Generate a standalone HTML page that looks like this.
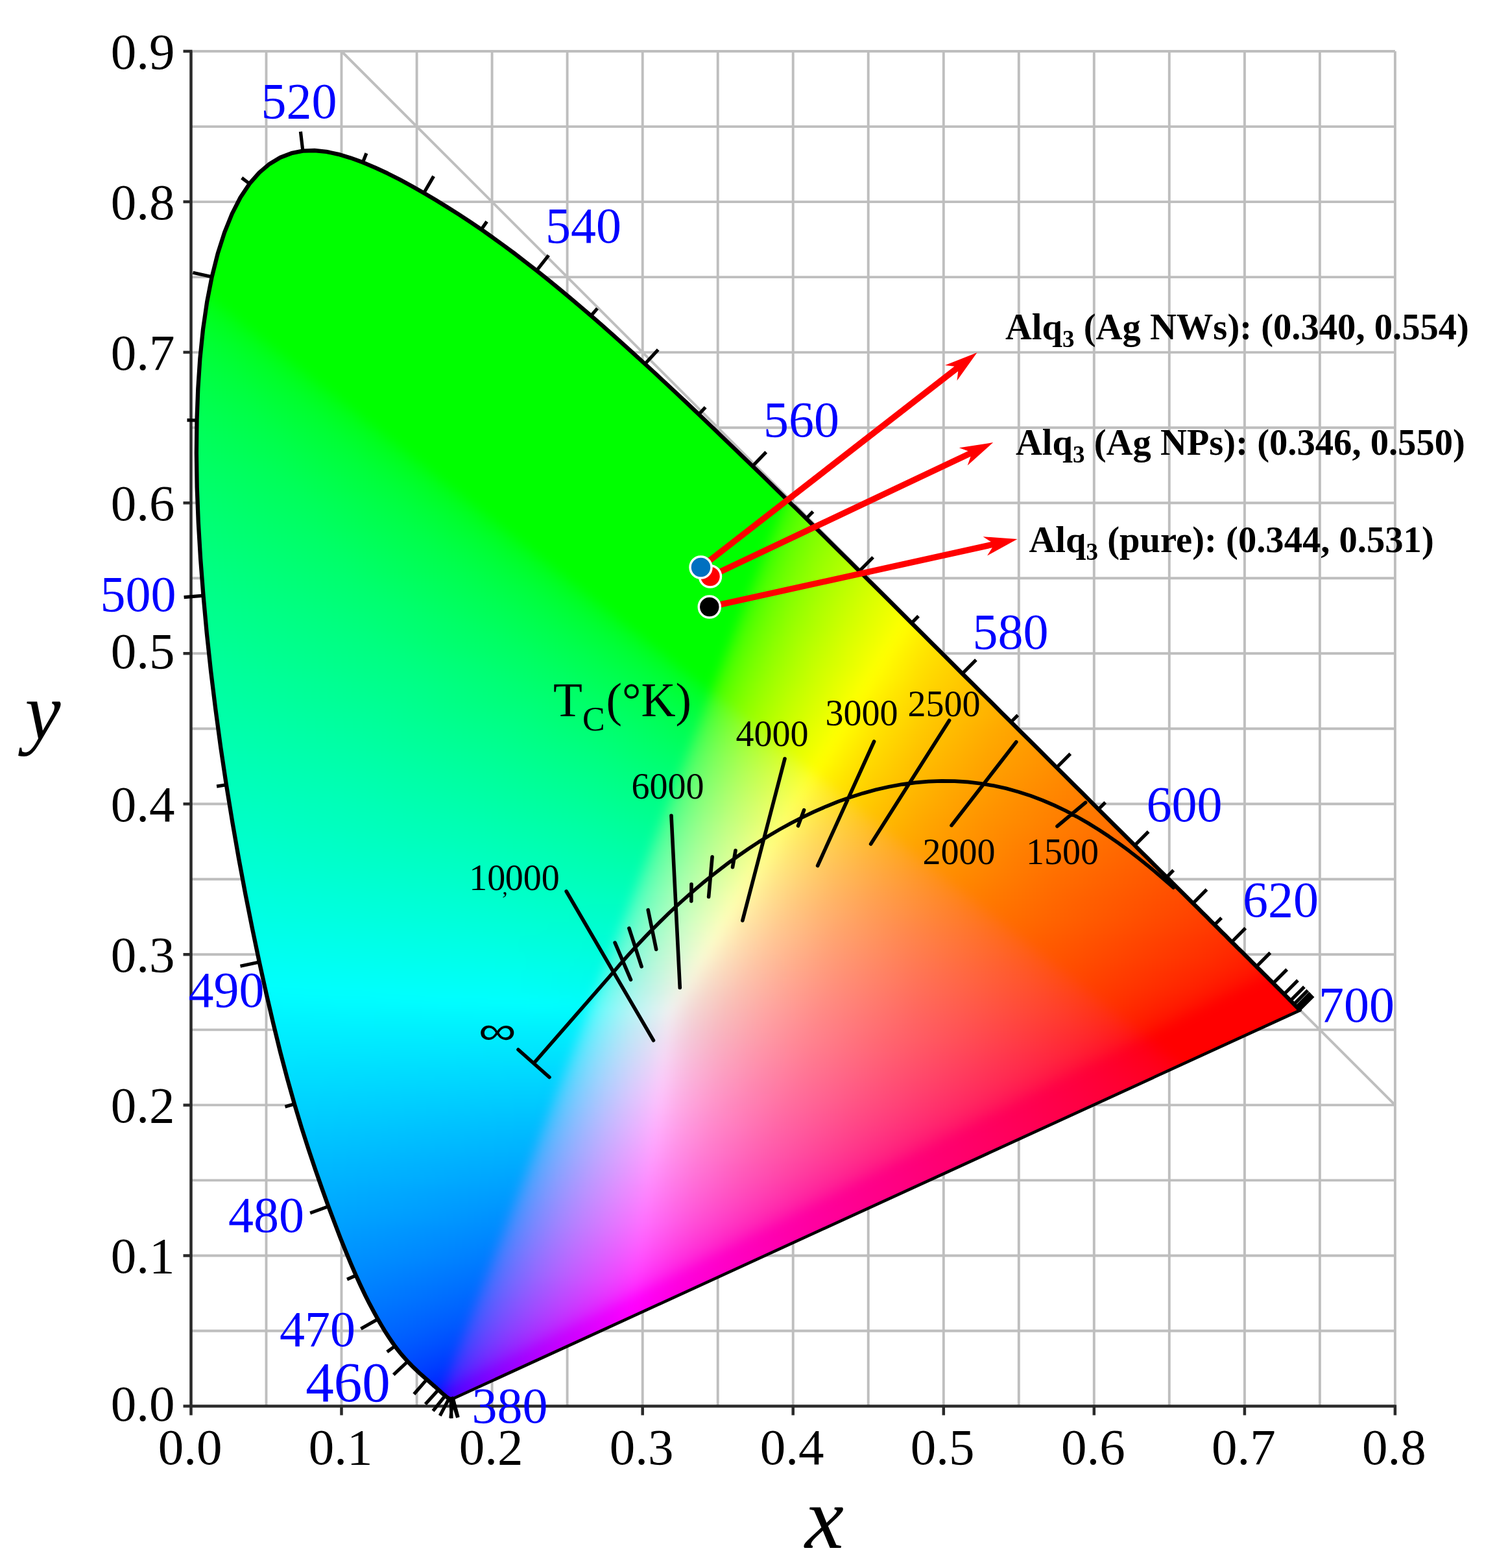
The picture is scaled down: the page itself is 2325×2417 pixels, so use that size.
<!DOCTYPE html><html><head><meta charset="utf-8">
<style>html,body{margin:0;padding:0;background:#fff}svg{display:block}text{font-family:"Liberation Serif",serif}</style></head><body>
<svg width="2325" height="2417" viewBox="0 0 2325 2417">
<defs><clipPath id="lc"><path d="M698.5 2156.0 L698.5 2156.0 L698.4 2156.0 L698.4 2155.9 L698.4 2155.9 L698.3 2155.9 L698.2 2156.0 L698.1 2156.0 L698.0 2156.1 L697.9 2156.1 L697.8 2156.1 L697.7 2156.1 L697.6 2156.0 L697.5 2156.0 L697.4 2156.0 L697.2 2156.1 L697.1 2156.1 L697.0 2156.2 L696.9 2156.3 L696.8 2156.3 L696.7 2156.4 L696.6 2156.4 L696.5 2156.4 L696.4 2156.4 L696.2 2156.4 L696.0 2156.4 L695.8 2156.4 L695.6 2156.4 L695.4 2156.4 L695.2 2156.4 L695.0 2156.4 L694.8 2156.4 L694.5 2156.4 L694.3 2156.4 L694.1 2156.3 L693.8 2156.3 L693.6 2156.2 L693.3 2156.2 L693.0 2156.0 L692.7 2155.9 L692.3 2155.7 L691.8 2155.4 L691.3 2155.1 L690.8 2154.8 L690.2 2154.5 L689.7 2154.1 L689.1 2153.6 L688.5 2153.2 L687.8 2152.7 L687.1 2152.1 L686.4 2151.5 L685.6 2150.8 L684.7 2150.1 L683.8 2149.4 L682.8 2148.5 L681.8 2147.6 L680.7 2146.7 L679.6 2145.7 L678.5 2144.6 L677.3 2143.5 L676.0 2142.3 L674.7 2141.1 L673.2 2139.8 L671.7 2138.4 L670.1 2137.0 L668.3 2135.5 L666.5 2133.9 L664.5 2132.2 L662.5 2130.3 L660.3 2128.4 L658.0 2126.4 L655.6 2124.3 L653.1 2122.1 L650.5 2119.8 L647.7 2117.4 L644.9 2114.7 L641.9 2111.9 L638.7 2108.9 L635.4 2105.7 L632.1 2102.3 L628.6 2098.6 L625.0 2094.7 L621.2 2090.4 L617.3 2085.8 L613.3 2080.7 L608.9 2075.0 L604.3 2068.4 L599.3 2061.0 L594.0 2052.8 L588.4 2043.5 L582.5 2033.4 L576.4 2022.3 L569.9 2010.1 L563.2 1996.8 L556.2 1982.1 L548.8 1966.0 L541.1 1948.2 L533.0 1928.8 L524.5 1907.6 L515.7 1884.5 L506.3 1859.6 L496.6 1832.6 L486.4 1803.5 L475.8 1772.0 L464.9 1738.1 L453.9 1701.7 L443.0 1662.9 L432.1 1621.6 L421.4 1577.9 L410.6 1531.7 L399.8 1483.0 L389.1 1431.9 L378.5 1378.8 L368.2 1323.8 L358.3 1267.3 L348.9 1209.8 L340.2 1151.7 L332.3 1093.2 L325.1 1034.6 L318.8 976.1 L313.5 918.1 L309.1 860.9 L305.8 805.1 L303.7 751.0 L302.9 698.6 L303.5 648.0 L305.3 599.1 L308.4 552.2 L313.0 507.6 L319.1 465.6 L326.7 426.7 L335.7 390.9 L346.1 358.4 L357.8 329.4 L370.7 304.3 L384.7 283.2 L399.7 266.1 L415.6 252.7 L432.2 242.8 L449.3 236.2 L466.9 232.7 L484.9 232.0 L503.2 233.9 L521.8 237.8 L540.5 243.4 L559.4 250.3 L578.4 258.3 L597.4 267.2 L616.4 276.8 L635.1 287.0 L653.5 297.5 L671.7 308.2 L689.5 319.2 L707.2 330.4 L724.7 341.9 L742.1 353.7 L759.3 365.9 L776.4 378.3 L793.5 390.9 L810.4 403.9 L827.3 417.1 L844.2 430.5 L861.0 444.3 L877.8 458.2 L894.5 472.4 L911.2 486.7 L927.9 501.2 L944.5 515.9 L961.2 530.8 L977.8 545.8 L994.4 561.0 L1011.0 576.3 L1027.6 591.7 L1044.2 607.3 L1060.8 622.9 L1077.4 638.6 L1093.9 654.5 L1110.5 670.4 L1127.1 686.4 L1143.7 702.4 L1160.3 718.5 L1176.9 734.6 L1193.4 750.7 L1210.0 766.9 L1226.5 783.1 L1243.0 799.3 L1259.4 815.5 L1275.9 831.7 L1292.3 848.0 L1308.6 864.1 L1324.9 880.3 L1341.2 896.4 L1357.4 912.5 L1373.5 928.5 L1389.5 944.5 L1405.5 960.4 L1421.4 976.2 L1437.1 991.9 L1452.8 1007.5 L1468.3 1023.0 L1483.7 1038.4 L1499.0 1053.6 L1514.2 1068.7 L1529.2 1083.6 L1544.0 1098.4 L1558.7 1113.0 L1573.2 1127.4 L1587.5 1141.6 L1601.6 1155.6 L1615.5 1169.4 L1629.1 1183.1 L1642.6 1196.5 L1655.8 1209.7 L1668.8 1222.6 L1681.4 1235.2 L1693.6 1247.4 L1705.4 1259.2 L1716.9 1270.7 L1728.1 1281.8 L1738.9 1292.6 L1749.5 1303.1 L1759.9 1313.5 L1770.1 1323.6 L1780.0 1333.4 L1789.5 1343.0 L1798.7 1352.1 L1807.5 1360.8 L1816.0 1369.2 L1824.1 1377.2 L1831.9 1385.0 L1839.4 1392.4 L1846.6 1399.6 L1853.5 1406.5 L1860.2 1413.1 L1866.5 1419.5 L1872.6 1425.5 L1878.4 1431.3 L1884.0 1436.9 L1889.3 1442.1 L1894.3 1447.2 L1899.1 1452.0 L1903.7 1456.6 L1908.1 1461.0 L1912.4 1465.1 L1916.4 1469.1 L1920.3 1473.0 L1923.9 1476.6 L1927.5 1480.1 L1930.8 1483.5 L1934.1 1486.7 L1937.2 1489.9 L1940.3 1492.9 L1943.2 1495.8 L1946.1 1498.7 L1948.8 1501.4 L1951.4 1504.0 L1953.9 1506.5 L1956.3 1508.9 L1958.7 1511.2 L1960.9 1513.5 L1963.0 1515.6 L1965.1 1517.7 L1967.1 1519.7 L1969.1 1521.7 L1970.9 1523.5 L1972.6 1525.2 L1974.3 1526.8 L1975.8 1528.4 L1977.2 1529.8 L1978.5 1531.1 L1979.8 1532.4 L1981.1 1533.7 L1982.2 1534.9 L1983.4 1536.0 L1984.4 1537.1 L1985.5 1538.1 L1986.4 1539.1 L1987.3 1540.0 L1988.2 1540.9 L1989.0 1541.7 L1989.7 1542.4 L1990.4 1543.1 L1991.0 1543.8 L1991.6 1544.3 L1992.1 1544.9 L1992.7 1545.4 L1993.2 1545.9 L1993.7 1546.4 L1994.2 1546.9 L1994.6 1547.4 L1995.1 1547.9 L1995.5 1548.3 L1995.9 1548.8 L1996.3 1549.2 L1996.7 1549.6 L1997.1 1550.0 L1997.5 1550.4 L1997.9 1550.8 L1998.3 1551.2 L1998.7 1551.6 L1999.1 1552.0 L1999.4 1552.3 L1999.8 1552.7 L2000.2 1553.1 L2000.5 1553.5 L2000.9 1553.8 L2001.1 1554.1 L2001.4 1554.4 L2001.6 1554.6 L2001.8 1554.8 L2002.0 1555.0 L2002.2 1555.2 L2002.3 1555.4 L2002.5 1555.5 L2002.6 1555.7 L2002.8 1555.8 L2002.9 1556.0 L2003.1 1556.1 L2003.2 1556.3 L2003.3 1556.4 L2003.3 1556.4Z"/></clipPath>
<filter id="bl" filterUnits="userSpaceOnUse" x="200" y="150" width="1900" height="2100" color-interpolation-filters="sRGB"><feGaussianBlur stdDeviation="8"/></filter>
<linearGradient id="g0" gradientUnits="userSpaceOnUse" x1="433" x2="533"><stop offset="0" stop-color="#0f0"/><stop offset="1" stop-color="#0f0"/></linearGradient>
<linearGradient id="g1" gradientUnits="userSpaceOnUse" x1="417" x2="555"><stop offset="0" stop-color="#0f0"/><stop offset="1" stop-color="#0f0"/></linearGradient>
<linearGradient id="g2" gradientUnits="userSpaceOnUse" x1="407" x2="571"><stop offset="0" stop-color="#0f0"/><stop offset="1" stop-color="#0f0"/></linearGradient>
<linearGradient id="g3" gradientUnits="userSpaceOnUse" x1="398" x2="586"><stop offset="0" stop-color="#0f0"/><stop offset="1" stop-color="#0f0"/></linearGradient>
<linearGradient id="g4" gradientUnits="userSpaceOnUse" x1="391" x2="599"><stop offset="0" stop-color="#0f0"/><stop offset="1" stop-color="#0f0"/></linearGradient>
<linearGradient id="g5" gradientUnits="userSpaceOnUse" x1="384" x2="612"><stop offset="0" stop-color="#0f0"/><stop offset="1" stop-color="#0f0"/></linearGradient>
<linearGradient id="g6" gradientUnits="userSpaceOnUse" x1="379" x2="623"><stop offset="0" stop-color="#0f0"/><stop offset="1" stop-color="#0f0"/></linearGradient>
<linearGradient id="g7" gradientUnits="userSpaceOnUse" x1="374" x2="636"><stop offset="0" stop-color="#0f0"/><stop offset="1" stop-color="#0f0"/></linearGradient>
<linearGradient id="g8" gradientUnits="userSpaceOnUse" x1="369" x2="647"><stop offset="0" stop-color="#0f0"/><stop offset="1" stop-color="#0f0"/></linearGradient>
<linearGradient id="g9" gradientUnits="userSpaceOnUse" x1="365" x2="657"><stop offset="0" stop-color="#0f0"/><stop offset="1" stop-color="#0f0"/></linearGradient>
<linearGradient id="g10" gradientUnits="userSpaceOnUse" x1="361" x2="667"><stop offset="0" stop-color="#0f0"/><stop offset="1" stop-color="#0f0"/></linearGradient>
<linearGradient id="g11" gradientUnits="userSpaceOnUse" x1="357" x2="677"><stop offset="0" stop-color="#0f0"/><stop offset="1" stop-color="#0f0"/></linearGradient>
<linearGradient id="g12" gradientUnits="userSpaceOnUse" x1="354" x2="688"><stop offset="0" stop-color="#0f0"/><stop offset="1" stop-color="#0f0"/></linearGradient>
<linearGradient id="g13" gradientUnits="userSpaceOnUse" x1="351" x2="697"><stop offset="0" stop-color="#0f0"/><stop offset="1" stop-color="#0f0"/></linearGradient>
<linearGradient id="g14" gradientUnits="userSpaceOnUse" x1="348" x2="708"><stop offset="0" stop-color="#0f0"/><stop offset="1" stop-color="#0f0"/></linearGradient>
<linearGradient id="g15" gradientUnits="userSpaceOnUse" x1="345" x2="717"><stop offset="0" stop-color="#0f0"/><stop offset="1" stop-color="#0f0"/></linearGradient>
<linearGradient id="g16" gradientUnits="userSpaceOnUse" x1="342" x2="726"><stop offset="0" stop-color="#0f0"/><stop offset="1" stop-color="#0f0"/></linearGradient>
<linearGradient id="g17" gradientUnits="userSpaceOnUse" x1="339" x2="735"><stop offset="0" stop-color="#0f0"/><stop offset="1" stop-color="#0f0"/></linearGradient>
<linearGradient id="g18" gradientUnits="userSpaceOnUse" x1="337" x2="745"><stop offset="0" stop-color="#0f0"/><stop offset="1" stop-color="#0f0"/></linearGradient>
<linearGradient id="g19" gradientUnits="userSpaceOnUse" x1="335" x2="753"><stop offset="0" stop-color="#0f0"/><stop offset="1" stop-color="#0f0"/></linearGradient>
<linearGradient id="g20" gradientUnits="userSpaceOnUse" x1="332" x2="762"><stop offset="0" stop-color="#0f0"/><stop offset="1" stop-color="#0f0"/></linearGradient>
<linearGradient id="g21" gradientUnits="userSpaceOnUse" x1="330" x2="770"><stop offset="0" stop-color="#0f0"/><stop offset="1" stop-color="#0f0"/></linearGradient>
<linearGradient id="g22" gradientUnits="userSpaceOnUse" x1="328" x2="778"><stop offset="0" stop-color="#0f0"/><stop offset="1" stop-color="#0f0"/></linearGradient>
<linearGradient id="g23" gradientUnits="userSpaceOnUse" x1="326" x2="786"><stop offset="0" stop-color="#0f0"/><stop offset="1" stop-color="#0f0"/></linearGradient>
<linearGradient id="g24" gradientUnits="userSpaceOnUse" x1="324" x2="796"><stop offset="0" stop-color="#0f0"/><stop offset="1" stop-color="#0f0"/></linearGradient>
<linearGradient id="g25" gradientUnits="userSpaceOnUse" x1="322" x2="804"><stop offset="0" stop-color="#0f0"/><stop offset="1" stop-color="#0f0"/></linearGradient>
<linearGradient id="g26" gradientUnits="userSpaceOnUse" x1="321" x2="811"><stop offset="0" stop-color="#0f0"/><stop offset="1" stop-color="#0f0"/></linearGradient>
<linearGradient id="g27" gradientUnits="userSpaceOnUse" x1="319" x2="819"><stop offset="0" stop-color="#0f0"/><stop offset="1" stop-color="#0f0"/></linearGradient>
<linearGradient id="g28" gradientUnits="userSpaceOnUse" x1="318" x2="826"><stop offset="0" stop-color="#0f0"/><stop offset="1" stop-color="#0f0"/></linearGradient>
<linearGradient id="g29" gradientUnits="userSpaceOnUse" x1="316" x2="834"><stop offset="0" stop-color="#0f0"/><stop offset="1" stop-color="#0f0"/></linearGradient>
<linearGradient id="g30" gradientUnits="userSpaceOnUse" x1="315" x2="843"><stop offset="0" stop-color="#0f0"/><stop offset="1" stop-color="#0f0"/></linearGradient>
<linearGradient id="g31" gradientUnits="userSpaceOnUse" x1="313" x2="849"><stop offset="0" stop-color="#0f0"/><stop offset="1" stop-color="#0f0"/></linearGradient>
<linearGradient id="g32" gradientUnits="userSpaceOnUse" x1="312" x2="858"><stop offset="0" stop-color="#0f0"/><stop offset="1" stop-color="#0f0"/></linearGradient>
<linearGradient id="g33" gradientUnits="userSpaceOnUse" x1="311" x2="865"><stop offset="0" stop-color="#0f0"/><stop offset="1" stop-color="#0f0"/></linearGradient>
<linearGradient id="g34" gradientUnits="userSpaceOnUse" x1="309" x2="873"><stop offset="0" stop-color="#0f0"/><stop offset="1" stop-color="#0f0"/></linearGradient>
<linearGradient id="g35" gradientUnits="userSpaceOnUse" x1="308" x2="880"><stop offset="0" stop-color="#0f0"/><stop offset="1" stop-color="#0f0"/></linearGradient>
<linearGradient id="g36" gradientUnits="userSpaceOnUse" x1="307" x2="887"><stop offset="0" stop-color="#0f0"/><stop offset="1" stop-color="#0f0"/></linearGradient>
<linearGradient id="g37" gradientUnits="userSpaceOnUse" x1="306" x2="894"><stop offset="0" stop-color="#00ff06"/><stop offset=".0102" stop-color="#0f0"/><stop offset="1" stop-color="#0f0"/></linearGradient>
<linearGradient id="g38" gradientUnits="userSpaceOnUse" x1="305" x2="901"><stop offset="0" stop-color="#00ff0f"/><stop offset=".0268" stop-color="#0f0"/><stop offset="1" stop-color="#0f0"/></linearGradient>
<linearGradient id="g39" gradientUnits="userSpaceOnUse" x1="304" x2="908"><stop offset="0" stop-color="#00ff15"/><stop offset=".0397" stop-color="#0f0"/><stop offset="1" stop-color="#0f0"/></linearGradient>
<linearGradient id="g40" gradientUnits="userSpaceOnUse" x1="303" x2="915"><stop offset="0" stop-color="#00ff1a"/><stop offset=".0261" stop-color="#00ff10"/><stop offset=".0523" stop-color="#0f0"/><stop offset="1" stop-color="#0f0"/></linearGradient>
<linearGradient id="g41" gradientUnits="userSpaceOnUse" x1="302" x2="922"><stop offset="0" stop-color="#00ff1e"/><stop offset=".0355" stop-color="#00ff12"/><stop offset=".0677" stop-color="#0f0"/><stop offset="1" stop-color="#0f0"/></linearGradient>
<linearGradient id="g42" gradientUnits="userSpaceOnUse" x1="301" x2="929"><stop offset="0" stop-color="#0f2"/><stop offset=".0446" stop-color="#00ff14"/><stop offset=".0796" stop-color="#0f0"/><stop offset="1" stop-color="#0f0"/></linearGradient>
<linearGradient id="g43" gradientUnits="userSpaceOnUse" x1="300" x2="936"><stop offset="0" stop-color="#00ff25"/><stop offset=".0503" stop-color="#00ff17"/><stop offset=".0723" stop-color="#00ff0d"/><stop offset=".0912" stop-color="#0f0"/><stop offset="1" stop-color="#0f0"/></linearGradient>
<linearGradient id="g44" gradientUnits="userSpaceOnUse" x1="299" x2="943"><stop offset="0" stop-color="#00ff28"/><stop offset=".0683" stop-color="#00ff15"/><stop offset=".1056" stop-color="#0f0"/><stop offset="1" stop-color="#0f0"/></linearGradient>
<linearGradient id="g45" gradientUnits="userSpaceOnUse" x1="299" x2="949"><stop offset="0" stop-color="#00ff2b"/><stop offset=".0769" stop-color="#00ff16"/><stop offset=".0923" stop-color="#00ff0f"/><stop offset=".1138" stop-color="#0f0"/><stop offset="1" stop-color="#0f0"/></linearGradient>
<linearGradient id="g46" gradientUnits="userSpaceOnUse" x1="298" x2="956"><stop offset="0" stop-color="#00ff2d"/><stop offset=".079" stop-color="#00ff1a"/><stop offset=".1003" stop-color="#0f1"/><stop offset=".1277" stop-color="#0f0"/><stop offset="1" stop-color="#0f0"/></linearGradient>
<linearGradient id="g47" gradientUnits="userSpaceOnUse" x1="297" x2="963"><stop offset="0" stop-color="#00ff30"/><stop offset=".0541" stop-color="#00ff25"/><stop offset=".0991" stop-color="#00ff17"/><stop offset=".1381" stop-color="#0f0"/><stop offset="1" stop-color="#0f0"/></linearGradient>
<linearGradient id="g48" gradientUnits="userSpaceOnUse" x1="297" x2="969"><stop offset="0" stop-color="#00ff32"/><stop offset=".0833" stop-color="#00ff20"/><stop offset=".119" stop-color="#00ff13"/><stop offset=".1488" stop-color="#0f0"/><stop offset="1" stop-color="#0f0"/></linearGradient>
<linearGradient id="g49" gradientUnits="userSpaceOnUse" x1="296" x2="976"><stop offset="0" stop-color="#00ff35"/><stop offset=".0882" stop-color="#0f2"/><stop offset=".1324" stop-color="#00ff12"/><stop offset=".1588" stop-color="#0f0"/><stop offset="1" stop-color="#0f0"/></linearGradient>
<linearGradient id="g50" gradientUnits="userSpaceOnUse" x1="296" x2="984"><stop offset="0" stop-color="#00ff37"/><stop offset=".0988" stop-color="#0f2"/><stop offset=".1337" stop-color="#00ff16"/><stop offset=".1686" stop-color="#0f0"/><stop offset="1" stop-color="#0f0"/></linearGradient>
<linearGradient id="g51" gradientUnits="userSpaceOnUse" x1="295" x2="989"><stop offset="0" stop-color="#00ff39"/><stop offset=".0663" stop-color="#00ff2d"/><stop offset=".1239" stop-color="#00ff1e"/><stop offset=".1585" stop-color="#00ff0f"/><stop offset=".1787" stop-color="#0f0"/><stop offset="1" stop-color="#0f0"/></linearGradient>
<linearGradient id="g52" gradientUnits="userSpaceOnUse" x1="294" x2="996"><stop offset="0" stop-color="#00ff3b"/><stop offset=".0741" stop-color="#00ff2e"/><stop offset=".1225" stop-color="#0f2"/><stop offset=".1595" stop-color="#00ff14"/><stop offset=".188" stop-color="#0f0"/><stop offset="1" stop-color="#0f0"/></linearGradient>
<linearGradient id="g53" gradientUnits="userSpaceOnUse" x1="294" x2="1002"><stop offset="0" stop-color="#00ff3d"/><stop offset=".0847" stop-color="#00ff2e"/><stop offset=".1356" stop-color="#00ff21"/><stop offset=".1695" stop-color="#00ff14"/><stop offset=".1977" stop-color="#0f0"/><stop offset="1" stop-color="#0f0"/></linearGradient>
<linearGradient id="g54" gradientUnits="userSpaceOnUse" x1="293" x2="1009"><stop offset="0" stop-color="#00ff3f"/><stop offset=".0866" stop-color="#00ff30"/><stop offset=".1397" stop-color="#00ff23"/><stop offset=".1816" stop-color="#00ff13"/><stop offset=".2095" stop-color="#0f0"/><stop offset="1" stop-color="#0f0"/></linearGradient>
<linearGradient id="g55" gradientUnits="userSpaceOnUse" x1="293" x2="1015"><stop offset="0" stop-color="#00ff40"/><stop offset=".0776" stop-color="#00ff34"/><stop offset=".1496" stop-color="#00ff23"/><stop offset=".1911" stop-color="#00ff13"/><stop offset=".2161" stop-color="#0f0"/><stop offset="1" stop-color="#0f0"/></linearGradient>
<linearGradient id="g56" gradientUnits="userSpaceOnUse" x1="293" x2="1023"><stop offset="0" stop-color="#00ff42"/><stop offset=".0932" stop-color="#0f3"/><stop offset=".1589" stop-color="#00ff23"/><stop offset=".1973" stop-color="#00ff14"/><stop offset=".2247" stop-color="#0f0"/><stop offset="1" stop-color="#0f0"/></linearGradient>
<linearGradient id="g57" gradientUnits="userSpaceOnUse" x1="292" x2="1028"><stop offset="0" stop-color="#0f4"/><stop offset=".1141" stop-color="#00ff31"/><stop offset=".163" stop-color="#00ff25"/><stop offset=".2038" stop-color="#00ff16"/><stop offset=".2364" stop-color="#0f0"/><stop offset="1" stop-color="#0f0"/></linearGradient>
<linearGradient id="g58" gradientUnits="userSpaceOnUse" x1="292" x2="1036"><stop offset="0" stop-color="#00ff45"/><stop offset=".0833" stop-color="#00ff39"/><stop offset=".172" stop-color="#00ff25"/><stop offset=".2177" stop-color="#00ff13"/><stop offset=".2419" stop-color="#0f0"/><stop offset="1" stop-color="#0f0"/></linearGradient>
<linearGradient id="g59" gradientUnits="userSpaceOnUse" x1="291" x2="1041"><stop offset="0" stop-color="#00ff47"/><stop offset=".072" stop-color="#00ff3d"/><stop offset=".168" stop-color="#00ff29"/><stop offset=".224" stop-color="#00ff15"/><stop offset=".2533" stop-color="#0f0"/><stop offset="1" stop-color="#0f0"/></linearGradient>
<linearGradient id="g60" gradientUnits="userSpaceOnUse" x1="291" x2="1049"><stop offset="0" stop-color="#00ff49"/><stop offset=".0818" stop-color="#00ff3d"/><stop offset=".1768" stop-color="#00ff29"/><stop offset=".2296" stop-color="#00ff16"/><stop offset=".2586" stop-color="#0f0"/><stop offset="1" stop-color="#0f0"/></linearGradient>
<linearGradient id="g61" gradientUnits="userSpaceOnUse" x1="291" x2="1055"><stop offset="0" stop-color="#00ff4a"/><stop offset=".0864" stop-color="#00ff3e"/><stop offset=".1859" stop-color="#00ff29"/><stop offset=".2382" stop-color="#00ff16"/><stop offset=".267" stop-color="#0f0"/><stop offset="1" stop-color="#0f0"/></linearGradient>
<linearGradient id="g62" gradientUnits="userSpaceOnUse" x1="290" x2="1062"><stop offset="0" stop-color="#00ff4c"/><stop offset=".1036" stop-color="#00ff3d"/><stop offset=".1995" stop-color="#00ff28"/><stop offset=".2409" stop-color="#00ff19"/><stop offset=".2772" stop-color="#0f0"/><stop offset="1" stop-color="#0f0"/></linearGradient>
<linearGradient id="g63" gradientUnits="userSpaceOnUse" x1="290" x2="1068"><stop offset="0" stop-color="#00ff4d"/><stop offset=".108" stop-color="#00ff3e"/><stop offset=".2005" stop-color="#00ff2a"/><stop offset=".2571" stop-color="#00ff15"/><stop offset=".2828" stop-color="#0f0"/><stop offset="1" stop-color="#0f0"/></linearGradient>
<linearGradient id="g64" gradientUnits="userSpaceOnUse" x1="290" x2="1074"><stop offset="0" stop-color="#00ff4f"/><stop offset=".1122" stop-color="#00ff3f"/><stop offset=".2092" stop-color="#00ff2a"/><stop offset=".2551" stop-color="#00ff1a"/><stop offset=".273" stop-color="#00ff10"/><stop offset=".2908" stop-color="#0f0"/><stop offset="1" stop-color="#0f0"/></linearGradient>
<linearGradient id="g65" gradientUnits="userSpaceOnUse" x1="290" x2="1080"><stop offset="0" stop-color="#00ff50"/><stop offset=".1215" stop-color="#00ff3f"/><stop offset=".2177" stop-color="#00ff2a"/><stop offset=".2709" stop-color="#00ff16"/><stop offset=".2987" stop-color="#0f0"/><stop offset="1" stop-color="#0f0"/></linearGradient>
<linearGradient id="g66" gradientUnits="userSpaceOnUse" x1="290" x2="1086"><stop offset="0" stop-color="#00ff52"/><stop offset=".1256" stop-color="#00ff40"/><stop offset=".2261" stop-color="#00ff2a"/><stop offset=".2764" stop-color="#00ff17"/><stop offset=".3065" stop-color="#0f0"/><stop offset="1" stop-color="#0f0"/></linearGradient>
<linearGradient id="g67" gradientUnits="userSpaceOnUse" x1="289" x2="1093"><stop offset="0" stop-color="#00ff53"/><stop offset=".1244" stop-color="#00ff42"/><stop offset=".209" stop-color="#00ff31"/><stop offset=".2512" stop-color="#00ff25"/><stop offset=".2811" stop-color="#00ff19"/><stop offset=".296" stop-color="#00ff10"/><stop offset=".3134" stop-color="#0f0"/><stop offset="1" stop-color="#0f0"/></linearGradient>
<linearGradient id="g68" gradientUnits="userSpaceOnUse" x1="289" x2="1099"><stop offset="0" stop-color="#00ff54"/><stop offset=".1284" stop-color="#00ff43"/><stop offset=".2296" stop-color="#00ff2e"/><stop offset=".2864" stop-color="#00ff1a"/><stop offset=".2988" stop-color="#00ff13"/><stop offset=".321" stop-color="#0f0"/><stop offset="1" stop-color="#0f0"/></linearGradient>
<linearGradient id="g69" gradientUnits="userSpaceOnUse" x1="289" x2="1105"><stop offset="0" stop-color="#00ff56"/><stop offset=".1324" stop-color="#0f4"/><stop offset=".2377" stop-color="#00ff2e"/><stop offset=".2917" stop-color="#00ff1b"/><stop offset=".3064" stop-color="#00ff13"/><stop offset=".3284" stop-color="#0f0"/><stop offset="1" stop-color="#0f0"/></linearGradient>
<linearGradient id="g70" gradientUnits="userSpaceOnUse" x1="289" x2="1111"><stop offset="0" stop-color="#00ff57"/><stop offset=".1168" stop-color="#00ff48"/><stop offset=".2384" stop-color="#00ff30"/><stop offset=".2993" stop-color="#00ff1b"/><stop offset=".3163" stop-color="#0f1"/><stop offset=".3333" stop-color="#0f0"/><stop offset="1" stop-color="#0f0"/></linearGradient>
<linearGradient id="g71" gradientUnits="userSpaceOnUse" x1="289" x2="1117"><stop offset="0" stop-color="#00ff58"/><stop offset=".1329" stop-color="#00ff47"/><stop offset=".2464" stop-color="#00ff30"/><stop offset=".3043" stop-color="#00ff1c"/><stop offset=".3188" stop-color="#00ff14"/><stop offset=".3406" stop-color="#0f0"/><stop offset="1" stop-color="#0f0"/></linearGradient>
<linearGradient id="g72" gradientUnits="userSpaceOnUse" x1="289" x2="1125"><stop offset="0" stop-color="#00ff5a"/><stop offset=".1292" stop-color="#00ff49"/><stop offset=".2536" stop-color="#00ff30"/><stop offset=".3086" stop-color="#00ff1d"/><stop offset=".3278" stop-color="#00ff12"/><stop offset=".3469" stop-color="#0f0"/><stop offset="1" stop-color="#0f0"/></linearGradient>
<linearGradient id="g73" gradientUnits="userSpaceOnUse" x1="289" x2="1131"><stop offset="0" stop-color="#00ff5b"/><stop offset=".1449" stop-color="#00ff48"/><stop offset=".2542" stop-color="#00ff32"/><stop offset=".3135" stop-color="#00ff1e"/><stop offset=".3349" stop-color="#00ff12"/><stop offset=".3539" stop-color="#0f0"/><stop offset="1" stop-color="#0f0"/></linearGradient>
<linearGradient id="g74" gradientUnits="userSpaceOnUse" x1="289" x2="1137"><stop offset="0" stop-color="#00ff5c"/><stop offset=".1604" stop-color="#00ff47"/><stop offset=".2618" stop-color="#00ff32"/><stop offset=".3184" stop-color="#00ff1f"/><stop offset=".3373" stop-color="#00ff15"/><stop offset=".3608" stop-color="#0f0"/><stop offset="1" stop-color="#0f0"/></linearGradient>
<linearGradient id="g75" gradientUnits="userSpaceOnUse" x1="289" x2="1143"><stop offset="0" stop-color="#00ff5e"/><stop offset=".1452" stop-color="#00ff4b"/><stop offset=".2576" stop-color="#00ff35"/><stop offset=".3232" stop-color="#00ff20"/><stop offset=".3466" stop-color="#00ff13"/><stop offset=".3677" stop-color="#0f0"/><stop offset="1" stop-color="#0f0"/></linearGradient>
<linearGradient id="g76" gradientUnits="userSpaceOnUse" x1="288" x2="1150"><stop offset="0" stop-color="#00ff5f"/><stop offset=".1485" stop-color="#00ff4c"/><stop offset=".2622" stop-color="#00ff36"/><stop offset=".3039" stop-color="#00ff2a"/><stop offset=".3387" stop-color="#00ff1c"/><stop offset=".355" stop-color="#00ff12"/><stop offset=".3735" stop-color="#0f0"/><stop offset="1" stop-color="#0f0"/></linearGradient>
<linearGradient id="g77" gradientUnits="userSpaceOnUse" x1="288" x2="1156"><stop offset="0" stop-color="#00ff60"/><stop offset=".1452" stop-color="#00ff4e"/><stop offset=".2696" stop-color="#00ff36"/><stop offset=".3111" stop-color="#00ff2a"/><stop offset=".3433" stop-color="#00ff1d"/><stop offset=".3641" stop-color="#00ff10"/><stop offset=".3802" stop-color="#0f0"/><stop offset="1" stop-color="#0f0"/></linearGradient>
<linearGradient id="g78" gradientUnits="userSpaceOnUse" x1="288" x2="1162"><stop offset="0" stop-color="#00ff61"/><stop offset=".167" stop-color="#00ff4c"/><stop offset=".2815" stop-color="#00ff35"/><stop offset=".3501" stop-color="#00ff1d"/><stop offset=".3661" stop-color="#00ff13"/><stop offset=".3844" stop-color="#0f0"/><stop offset="1" stop-color="#0f0"/></linearGradient>
<linearGradient id="g79" gradientUnits="userSpaceOnUse" x1="288" x2="1168"><stop offset="0" stop-color="#00ff63"/><stop offset=".1636" stop-color="#00ff4e"/><stop offset=".2886" stop-color="#00ff35"/><stop offset=".3545" stop-color="#00ff1e"/><stop offset=".3727" stop-color="#00ff13"/><stop offset=".3909" stop-color="#0f0"/><stop offset="1" stop-color="#0f0"/></linearGradient>
<linearGradient id="g80" gradientUnits="userSpaceOnUse" x1="288" x2="1174"><stop offset="0" stop-color="#00ff64"/><stop offset=".1783" stop-color="#00ff4d"/><stop offset=".2844" stop-color="#00ff38"/><stop offset=".3589" stop-color="#00ff1f"/><stop offset=".3815" stop-color="#0f1"/><stop offset=".3973" stop-color="#0f0"/><stop offset="1" stop-color="#0f0"/></linearGradient>
<linearGradient id="g81" gradientUnits="userSpaceOnUse" x1="288" x2="1180"><stop offset="0" stop-color="#00ff65"/><stop offset=".1749" stop-color="#00ff4f"/><stop offset=".2915" stop-color="#00ff38"/><stop offset=".3632" stop-color="#00ff20"/><stop offset=".3834" stop-color="#00ff14"/><stop offset=".4036" stop-color="#0f0"/><stop offset="1" stop-color="#0f0"/></linearGradient>
<linearGradient id="g82" gradientUnits="userSpaceOnUse" x1="288" x2="1186"><stop offset="0" stop-color="#0f6"/><stop offset=".1514" stop-color="#00ff54"/><stop offset=".2829" stop-color="#00ff3c"/><stop offset=".3274" stop-color="#00ff30"/><stop offset=".3675" stop-color="#00ff21"/><stop offset=".3898" stop-color="#00ff14"/><stop offset=".4098" stop-color="#0f0"/><stop offset="1" stop-color="#0f0"/></linearGradient>
<linearGradient id="g83" gradientUnits="userSpaceOnUse" x1="288" x2="1192"><stop offset="0" stop-color="#00ff67"/><stop offset=".1394" stop-color="#00ff57"/><stop offset=".2942" stop-color="#00ff3b"/><stop offset=".3717" stop-color="#0f2"/><stop offset=".3982" stop-color="#00ff12"/><stop offset=".4137" stop-color="#0f0"/><stop offset="1" stop-color="#0f0"/></linearGradient>
<linearGradient id="g84" gradientUnits="userSpaceOnUse" x1="289" x2="1199"><stop offset="0" stop-color="#00ff68"/><stop offset=".1407" stop-color="#00ff58"/><stop offset=".2879" stop-color="#00ff3e"/><stop offset=".3429" stop-color="#00ff2f"/><stop offset=".3846" stop-color="#00ff1e"/><stop offset=".3978" stop-color="#00ff16"/><stop offset=".4198" stop-color="#0f0"/><stop offset="1" stop-color="#0f0"/></linearGradient>
<linearGradient id="g85" gradientUnits="userSpaceOnUse" x1="289" x2="1205"><stop offset="0" stop-color="#00ff6a"/><stop offset=".1572" stop-color="#00ff57"/><stop offset=".3035" stop-color="#00ff3c"/><stop offset=".3493" stop-color="#00ff2f"/><stop offset=".3908" stop-color="#00ff1e"/><stop offset=".4061" stop-color="#00ff14"/><stop offset=".4258" stop-color="#0f0"/><stop offset="1" stop-color="#0f0"/></linearGradient>
<linearGradient id="g86" gradientUnits="userSpaceOnUse" x1="289" x2="1211"><stop offset="0" stop-color="#00ff6b"/><stop offset=".1518" stop-color="#00ff59"/><stop offset=".2343" stop-color="#00ff4c"/><stop offset=".3145" stop-color="#00ff3b"/><stop offset=".3644" stop-color="#00ff2c"/><stop offset=".3948" stop-color="#00ff1f"/><stop offset=".4121" stop-color="#00ff14"/><stop offset=".4295" stop-color="#0f0"/><stop offset="1" stop-color="#0f0"/></linearGradient>
<linearGradient id="g87" gradientUnits="userSpaceOnUse" x1="289" x2="1217"><stop offset="0" stop-color="#00ff6c"/><stop offset=".1681" stop-color="#00ff58"/><stop offset=".2478" stop-color="#00ff4b"/><stop offset=".3254" stop-color="#00ff3a"/><stop offset=".3707" stop-color="#00ff2c"/><stop offset=".3987" stop-color="#00ff20"/><stop offset=".4138" stop-color="#00ff17"/><stop offset=".4353" stop-color="#0f0"/><stop offset="1" stop-color="#0f0"/></linearGradient>
<linearGradient id="g88" gradientUnits="userSpaceOnUse" x1="289" x2="1223"><stop offset="0" stop-color="#00ff6d"/><stop offset=".1906" stop-color="#00ff56"/><stop offset=".3319" stop-color="#00ff3a"/><stop offset=".3769" stop-color="#00ff2c"/><stop offset=".4047" stop-color="#00ff20"/><stop offset=".4218" stop-color="#00ff15"/><stop offset=".4411" stop-color="#0f0"/><stop offset=".9893" stop-color="#0f0"/><stop offset=".9914" stop-color="#01ff00"/><stop offset=".9936" stop-color="#12ff00"/><stop offset="1" stop-color="#2aff00"/></linearGradient>
<linearGradient id="g89" gradientUnits="userSpaceOnUse" x1="289" x2="1229"><stop offset="0" stop-color="#00ff6e"/><stop offset=".1723" stop-color="#00ff5a"/><stop offset=".3234" stop-color="#00ff3e"/><stop offset=".366" stop-color="#00ff32"/><stop offset=".4085" stop-color="#00ff21"/><stop offset=".4277" stop-color="#00ff15"/><stop offset=".4468" stop-color="#0f0"/><stop offset=".9809" stop-color="#0f0"/><stop offset=".983" stop-color="#04ff00"/><stop offset=".9851" stop-color="#13ff00"/><stop offset=".9894" stop-color="#25ff00"/><stop offset="1" stop-color="#3dff00"/></linearGradient>
<linearGradient id="g90" gradientUnits="userSpaceOnUse" x1="289" x2="1235"><stop offset="0" stop-color="#00ff6f"/><stop offset=".1882" stop-color="#00ff59"/><stop offset=".3383" stop-color="#00ff3c"/><stop offset=".3784" stop-color="#00ff30"/><stop offset=".4123" stop-color="#0f2"/><stop offset=".4355" stop-color="#00ff13"/><stop offset=".4524" stop-color="#0f0"/><stop offset=".9725" stop-color="#0f0"/><stop offset=".9746" stop-color="#06ff00"/><stop offset=".9767" stop-color="#15ff00"/><stop offset=".9789" stop-color="#1fff00"/><stop offset=".9831" stop-color="#2cff00"/><stop offset=".9915" stop-color="#3eff00"/><stop offset="1" stop-color="#4bff00"/></linearGradient>
<linearGradient id="g91" gradientUnits="userSpaceOnUse" x1="289" x2="1241"><stop offset="0" stop-color="#00ff70"/><stop offset=".1765" stop-color="#00ff5c"/><stop offset=".2626" stop-color="#00ff4e"/><stop offset=".3445" stop-color="#00ff3c"/><stop offset=".416" stop-color="#00ff23"/><stop offset=".437" stop-color="#00ff16"/><stop offset=".4475" stop-color="#00ff0c"/><stop offset=".4559" stop-color="#0f0"/><stop offset=".9643" stop-color="#0f0"/><stop offset=".9664" stop-color="#09ff00"/><stop offset=".9685" stop-color="#17ff00"/><stop offset=".9748" stop-color="#2dff00"/><stop offset=".9874" stop-color="#46ff00"/><stop offset="1" stop-color="#57ff00"/></linearGradient>
<linearGradient id="g92" gradientUnits="userSpaceOnUse" x1="289" x2="1247"><stop offset="0" stop-color="#00ff72"/><stop offset=".1921" stop-color="#00ff5b"/><stop offset=".286" stop-color="#00ff4b"/><stop offset=".3549" stop-color="#00ff3b"/><stop offset=".4196" stop-color="#00ff24"/><stop offset=".4426" stop-color="#00ff16"/><stop offset=".4614" stop-color="#0f0"/><stop offset=".9562" stop-color="#0f0"/><stop offset=".9603" stop-color="#19ff00"/><stop offset=".9687" stop-color="#3f0"/><stop offset=".9833" stop-color="#4dff00"/><stop offset="1" stop-color="#61ff00"/></linearGradient>
<linearGradient id="g93" gradientUnits="userSpaceOnUse" x1="290" x2="1254"><stop offset="0" stop-color="#00ff73"/><stop offset=".1929" stop-color="#00ff5c"/><stop offset=".2822" stop-color="#00ff4d"/><stop offset=".3568" stop-color="#00ff3c"/><stop offset=".4004" stop-color="#00ff2e"/><stop offset=".4315" stop-color="#00ff20"/><stop offset=".4502" stop-color="#00ff13"/><stop offset=".4668" stop-color="#0f0"/><stop offset=".9461" stop-color="#0f0"/><stop offset=".9481" stop-color="#06ff00"/><stop offset=".9502" stop-color="#15ff00"/><stop offset=".9544" stop-color="#26ff00"/><stop offset=".9606" stop-color="#36ff00"/><stop offset=".9772" stop-color="#52ff00"/><stop offset="1" stop-color="#6cff00"/></linearGradient>
<linearGradient id="g94" gradientUnits="userSpaceOnUse" x1="290" x2="1260"><stop offset="0" stop-color="#00ff74"/><stop offset=".2082" stop-color="#00ff5b"/><stop offset=".3402" stop-color="#00ff42"/><stop offset=".4041" stop-color="#00ff2f"/><stop offset=".4371" stop-color="#00ff20"/><stop offset=".4495" stop-color="#00ff18"/><stop offset=".4619" stop-color="#00ff0c"/><stop offset=".4701" stop-color="#0f0"/><stop offset=".9381" stop-color="#0f0"/><stop offset=".9443" stop-color="#20ff00"/><stop offset=".9485" stop-color="#2dff00"/><stop offset=".9567" stop-color="#3fff00"/><stop offset=".9732" stop-color="#58ff00"/><stop offset="1" stop-color="#74ff00"/></linearGradient>
<linearGradient id="g95" gradientUnits="userSpaceOnUse" x1="290" x2="1266"><stop offset="0" stop-color="#00ff75"/><stop offset=".1967" stop-color="#00ff5e"/><stop offset=".2705" stop-color="#00ff52"/><stop offset=".3586" stop-color="#00ff3f"/><stop offset=".4016" stop-color="#00ff32"/><stop offset=".4406" stop-color="#00ff21"/><stop offset=".457" stop-color="#00ff16"/><stop offset=".4754" stop-color="#0f0"/><stop offset=".9303" stop-color="#0f0"/><stop offset=".9344" stop-color="#19ff00"/><stop offset=".9385" stop-color="#28ff00"/><stop offset=".9467" stop-color="#3cff00"/><stop offset=".9529" stop-color="#47ff00"/><stop offset=".9713" stop-color="#60ff00"/><stop offset="1" stop-color="#7cff00"/></linearGradient>
<linearGradient id="g96" gradientUnits="userSpaceOnUse" x1="290" x2="1272"><stop offset="0" stop-color="#00ff76"/><stop offset=".1772" stop-color="#00ff62"/><stop offset=".3279" stop-color="#00ff48"/><stop offset=".3829" stop-color="#00ff3a"/><stop offset=".4277" stop-color="#00ff2a"/><stop offset=".4582" stop-color="#00ff19"/><stop offset=".4684" stop-color="#00ff10"/><stop offset=".4807" stop-color="#0f0"/><stop offset=".9226" stop-color="#0f0"/><stop offset=".9267" stop-color="#1aff00"/><stop offset=".9308" stop-color="#29ff00"/><stop offset=".943" stop-color="#4f0"/><stop offset=".9654" stop-color="#63ff00"/><stop offset="1" stop-color="#83ff00"/></linearGradient>
<linearGradient id="g97" gradientUnits="userSpaceOnUse" x1="291" x2="1277"><stop offset="0" stop-color="#0f7"/><stop offset=".213" stop-color="#00ff5e"/><stop offset=".3387" stop-color="#00ff47"/><stop offset=".426" stop-color="#00ff2d"/><stop offset=".4645" stop-color="#00ff18"/><stop offset=".4767" stop-color="#00ff0c"/><stop offset=".4848" stop-color="#0f0"/><stop offset=".9148" stop-color="#0f0"/><stop offset=".9168" stop-color="#08ff00"/><stop offset=".9189" stop-color="#17ff00"/><stop offset=".9229" stop-color="#27ff00"/><stop offset=".929" stop-color="#37ff00"/><stop offset=".9391" stop-color="#4aff00"/><stop offset=".9635" stop-color="#69ff00"/><stop offset="1" stop-color="#8aff00"/></linearGradient>
<linearGradient id="g98" gradientUnits="userSpaceOnUse" x1="291" x2="1285"><stop offset="0" stop-color="#00ff78"/><stop offset=".1791" stop-color="#00ff64"/><stop offset=".336" stop-color="#00ff49"/><stop offset=".3803" stop-color="#00ff3e"/><stop offset=".4306" stop-color="#00ff2d"/><stop offset=".4688" stop-color="#00ff18"/><stop offset=".4889" stop-color="#0f0"/><stop offset=".9054" stop-color="#0f0"/><stop offset=".9095" stop-color="#18ff00"/><stop offset=".9135" stop-color="#28ff00"/><stop offset=".9195" stop-color="#38ff00"/><stop offset=".9276" stop-color="#47ff00"/><stop offset=".9497" stop-color="#65ff00"/><stop offset=".9738" stop-color="#7dff00"/><stop offset="1" stop-color="#92ff00"/></linearGradient>
<linearGradient id="g99" gradientUnits="userSpaceOnUse" x1="291" x2="1291"><stop offset="0" stop-color="#00ff79"/><stop offset=".188" stop-color="#00ff64"/><stop offset=".338" stop-color="#00ff4a"/><stop offset=".386" stop-color="#00ff3e"/><stop offset=".436" stop-color="#00ff2d"/><stop offset=".476" stop-color="#00ff16"/><stop offset=".494" stop-color="#0f0"/><stop offset=".898" stop-color="#0f0"/><stop offset=".902" stop-color="#1aff00"/><stop offset=".908" stop-color="#2fff00"/><stop offset=".916" stop-color="#41ff00"/><stop offset=".93" stop-color="#57ff00"/><stop offset=".962" stop-color="#7aff00"/><stop offset="1" stop-color="#98ff00"/></linearGradient>
<linearGradient id="g100" gradientUnits="userSpaceOnUse" x1="291" x2="1297"><stop offset="0" stop-color="#00ff7a"/><stop offset=".1968" stop-color="#00ff64"/><stop offset=".3539" stop-color="#00ff48"/><stop offset=".4414" stop-color="#00ff2d"/><stop offset=".4771" stop-color="#00ff19"/><stop offset=".4851" stop-color="#00ff12"/><stop offset=".499" stop-color="#0f0"/><stop offset=".8907" stop-color="#0f0"/><stop offset=".8946" stop-color="#1cff00"/><stop offset=".9006" stop-color="#30ff00"/><stop offset=".9105" stop-color="#45ff00"/><stop offset=".9185" stop-color="#52ff00"/><stop offset=".9463" stop-color="#73ff00"/><stop offset=".9722" stop-color="#8aff00"/><stop offset="1" stop-color="#9eff00"/></linearGradient>
<linearGradient id="g101" gradientUnits="userSpaceOnUse" x1="292" x2="1302"><stop offset="0" stop-color="#00ff7b"/><stop offset=".198" stop-color="#00ff65"/><stop offset=".2812" stop-color="#00ff58"/><stop offset=".3683" stop-color="#00ff46"/><stop offset=".4317" stop-color="#0f3"/><stop offset=".4653" stop-color="#00ff24"/><stop offset=".4832" stop-color="#00ff18"/><stop offset=".503" stop-color="#0f0"/><stop offset=".8832" stop-color="#0f0"/><stop offset=".8871" stop-color="#18ff00"/><stop offset=".8931" stop-color="#2eff00"/><stop offset=".903" stop-color="#4f0"/><stop offset=".9129" stop-color="#54ff00"/><stop offset=".9287" stop-color="#68ff00"/><stop offset=".9485" stop-color="#7cff00"/><stop offset="1" stop-color="#a4ff00"/></linearGradient>
<linearGradient id="g102" gradientUnits="userSpaceOnUse" x1="292" x2="1308"><stop offset="0" stop-color="#00ff7c"/><stop offset=".2067" stop-color="#00ff65"/><stop offset=".3622" stop-color="#00ff49"/><stop offset=".4232" stop-color="#00ff38"/><stop offset=".4587" stop-color="#00ff2a"/><stop offset=".4882" stop-color="#00ff18"/><stop offset=".5079" stop-color="#0f0"/><stop offset=".876" stop-color="#0f0"/><stop offset=".8799" stop-color="#1aff00"/><stop offset=".8858" stop-color="#2fff00"/><stop offset=".8957" stop-color="#45ff00"/><stop offset=".9094" stop-color="#5aff00"/><stop offset=".9252" stop-color="#6dff00"/><stop offset=".9528" stop-color="#87ff00"/><stop offset="1" stop-color="#a9ff00"/></linearGradient>
<linearGradient id="g103" gradientUnits="userSpaceOnUse" x1="292" x2="1314"><stop offset="0" stop-color="#00ff7d"/><stop offset=".1937" stop-color="#00ff68"/><stop offset=".3601" stop-color="#00ff4b"/><stop offset=".4227" stop-color="#00ff3a"/><stop offset=".4618" stop-color="#00ff2b"/><stop offset=".4892" stop-color="#00ff1b"/><stop offset=".501" stop-color="#00ff10"/><stop offset=".5127" stop-color="#0f0"/><stop offset=".8689" stop-color="#0f0"/><stop offset=".8708" stop-color="#10ff00"/><stop offset=".8728" stop-color="#1bff00"/><stop offset=".8787" stop-color="#30ff00"/><stop offset=".8865" stop-color="#42ff00"/><stop offset=".9002" stop-color="#58ff00"/><stop offset=".9119" stop-color="#67ff00"/><stop offset=".9413" stop-color="#84ff00"/><stop offset="1" stop-color="#afff00"/></linearGradient>
<linearGradient id="g104" gradientUnits="userSpaceOnUse" x1="293" x2="1321"><stop offset="0" stop-color="#00ff7e"/><stop offset=".216" stop-color="#0f6"/><stop offset=".3658" stop-color="#00ff4b"/><stop offset=".4241" stop-color="#00ff3b"/><stop offset=".4591" stop-color="#00ff2e"/><stop offset=".4942" stop-color="#00ff1a"/><stop offset=".5019" stop-color="#00ff13"/><stop offset=".5156" stop-color="#0f0"/><stop offset=".8599" stop-color="#0f0"/><stop offset=".8638" stop-color="#18ff00"/><stop offset=".8696" stop-color="#2eff00"/><stop offset=".8813" stop-color="#48ff00"/><stop offset=".893" stop-color="#5aff00"/><stop offset=".9086" stop-color="#6dff00"/><stop offset=".9416" stop-color="#8cff00"/><stop offset="1" stop-color="#b5ff00"/></linearGradient>
<linearGradient id="g105" gradientUnits="userSpaceOnUse" x1="293" x2="1327"><stop offset="0" stop-color="#00ff7f"/><stop offset=".2031" stop-color="#00ff69"/><stop offset=".3675" stop-color="#00ff4c"/><stop offset=".4139" stop-color="#00ff40"/><stop offset=".4642" stop-color="#00ff2e"/><stop offset=".501" stop-color="#00ff18"/><stop offset=".5203" stop-color="#0f0"/><stop offset=".853" stop-color="#0f0"/><stop offset=".8569" stop-color="#1aff00"/><stop offset=".8607" stop-color="#29ff00"/><stop offset=".8665" stop-color="#39ff00"/><stop offset=".8762" stop-color="#4cff00"/><stop offset=".8956" stop-color="#67ff00"/><stop offset=".942" stop-color="#93ff00"/><stop offset="1" stop-color="#bf0"/></linearGradient>
<linearGradient id="g106" gradientUnits="userSpaceOnUse" x1="293" x2="1333"><stop offset="0" stop-color="#00ff80"/><stop offset=".1077" stop-color="#00ff76"/><stop offset=".2327" stop-color="#0f6"/><stop offset=".3865" stop-color="#00ff49"/><stop offset=".4442" stop-color="#00ff38"/><stop offset=".4923" stop-color="#0f2"/><stop offset=".5058" stop-color="#00ff18"/><stop offset=".525" stop-color="#0f0"/><stop offset=".8462" stop-color="#0f0"/><stop offset=".8481" stop-color="#10ff00"/><stop offset=".8519" stop-color="#24ff00"/><stop offset=".8596" stop-color="#3aff00"/><stop offset=".8712" stop-color="#50ff00"/><stop offset=".8865" stop-color="#65ff00"/><stop offset=".9077" stop-color="#7cff00"/><stop offset=".9327" stop-color="#92ff00"/><stop offset="1" stop-color="#c0ff00"/></linearGradient>
<linearGradient id="g107" gradientUnits="userSpaceOnUse" x1="294" x2="1338"><stop offset="0" stop-color="#00ff81"/><stop offset=".2337" stop-color="#00ff67"/><stop offset=".3238" stop-color="#00ff58"/><stop offset=".3966" stop-color="#00ff48"/><stop offset=".4521" stop-color="#00ff37"/><stop offset=".4885" stop-color="#00ff27"/><stop offset=".5115" stop-color="#00ff17"/><stop offset=".5287" stop-color="#0f0"/><stop offset=".8391" stop-color="#0f0"/><stop offset=".8448" stop-color="#21ff00"/><stop offset=".8506" stop-color="#34ff00"/><stop offset=".864" stop-color="#4fff00"/><stop offset=".8812" stop-color="#67ff00"/><stop offset=".9195" stop-color="#8dff00"/><stop offset=".9464" stop-color="#a2ff00"/><stop offset="1" stop-color="#c5ff00"/></linearGradient>
<linearGradient id="g108" gradientUnits="userSpaceOnUse" x1="294" x2="1344"><stop offset="0" stop-color="#00ff83"/><stop offset=".221" stop-color="#00ff6a"/><stop offset=".3867" stop-color="#00ff4c"/><stop offset=".44" stop-color="#00ff3d"/><stop offset=".4857" stop-color="#00ff2b"/><stop offset=".5124" stop-color="#00ff1a"/><stop offset=".5238" stop-color="#00ff0e"/><stop offset=".5333" stop-color="#0f0"/><stop offset=".8324" stop-color="#0f0"/><stop offset=".8362" stop-color="#1aff00"/><stop offset=".84" stop-color="#29ff00"/><stop offset=".8457" stop-color="#39ff00"/><stop offset=".8533" stop-color="#49ff00"/><stop offset=".8781" stop-color="#6cff00"/><stop offset=".9048" stop-color="#87ff00"/><stop offset=".9276" stop-color="#9aff00"/><stop offset="1" stop-color="#caff00"/></linearGradient>
<linearGradient id="g109" gradientUnits="userSpaceOnUse" x1="294" x2="1350"><stop offset="0" stop-color="#00ff84"/><stop offset=".2083" stop-color="#00ff6d"/><stop offset=".3845" stop-color="#00ff4e"/><stop offset=".4489" stop-color="#00ff3c"/><stop offset=".4905" stop-color="#00ff2b"/><stop offset=".517" stop-color="#00ff1a"/><stop offset=".5265" stop-color="#00ff10"/><stop offset=".536" stop-color="#0f0"/><stop offset=".8258" stop-color="#0f0"/><stop offset=".8277" stop-color="#0fff00"/><stop offset=".8314" stop-color="#24ff00"/><stop offset=".839" stop-color="#3aff00"/><stop offset=".8561" stop-color="#59ff00"/><stop offset=".875" stop-color="#71ff00"/><stop offset=".9223" stop-color="#9cff00"/><stop offset="1" stop-color="#cfff00"/></linearGradient>
<linearGradient id="g110" gradientUnits="userSpaceOnUse" x1="295" x2="1357"><stop offset="0" stop-color="#00ff85"/><stop offset=".2373" stop-color="#00ff6a"/><stop offset=".3898" stop-color="#00ff4e"/><stop offset=".4313" stop-color="#00ff43"/><stop offset=".484" stop-color="#00ff30"/><stop offset=".5179" stop-color="#00ff1c"/><stop offset=".5292" stop-color="#0f1"/><stop offset=".5405" stop-color="#0f0"/><stop offset=".8173" stop-color="#0f0"/><stop offset=".823" stop-color="#21ff00"/><stop offset=".8305" stop-color="#39ff00"/><stop offset=".8399" stop-color="#4cff00"/><stop offset=".8625" stop-color="#6cff00"/><stop offset=".8908" stop-color="#89ff00"/><stop offset=".9228" stop-color="#a3ff00"/><stop offset=".9605" stop-color="#bdff00"/><stop offset="1" stop-color="#d4ff00"/></linearGradient>
<linearGradient id="g111" gradientUnits="userSpaceOnUse" x1="295" x2="1363"><stop offset="0" stop-color="#00ff86"/><stop offset=".2172" stop-color="#00ff6e"/><stop offset=".3914" stop-color="#00ff4f"/><stop offset=".4401" stop-color="#00ff42"/><stop offset=".4888" stop-color="#00ff30"/><stop offset=".5225" stop-color="#00ff1c"/><stop offset=".5356" stop-color="#00ff0e"/><stop offset=".5449" stop-color="#0f0"/><stop offset=".8109" stop-color="#0f0"/><stop offset=".8146" stop-color="#1aff00"/><stop offset=".8165" stop-color="#2f0"/><stop offset=".8221" stop-color="#35ff00"/><stop offset=".8258" stop-color="#3eff00"/><stop offset=".8408" stop-color="#59ff00"/><stop offset=".8596" stop-color="#71ff00"/><stop offset=".8801" stop-color="#86ff00"/><stop offset=".9176" stop-color="#a5ff00"/><stop offset=".9569" stop-color="#c0ff00"/><stop offset="1" stop-color="#d9ff00"/></linearGradient>
<linearGradient id="g112" gradientUnits="userSpaceOnUse" x1="296" x2="1368"><stop offset="0" stop-color="#00ff87"/><stop offset=".2183" stop-color="#00ff6f"/><stop offset=".3937" stop-color="#00ff50"/><stop offset=".4608" stop-color="#00ff3d"/><stop offset=".5019" stop-color="#00ff2c"/><stop offset=".528" stop-color="#00ff1b"/><stop offset=".5392" stop-color="#00ff0f"/><stop offset=".5485" stop-color="#0f0"/><stop offset=".8041" stop-color="#0f0"/><stop offset=".806" stop-color="#05ff00"/><stop offset=".8078" stop-color="#16ff00"/><stop offset=".8097" stop-color="#20ff00"/><stop offset=".8172" stop-color="#38ff00"/><stop offset=".8265" stop-color="#4cff00"/><stop offset=".847" stop-color="#6aff00"/><stop offset=".8713" stop-color="#84ff00"/><stop offset=".9067" stop-color="#a2ff00"/><stop offset=".9496" stop-color="#c0ff00"/><stop offset="1" stop-color="#deff00"/></linearGradient>
<linearGradient id="g113" gradientUnits="userSpaceOnUse" x1="296" x2="1374"><stop offset="0" stop-color="#0f8"/><stop offset=".2338" stop-color="#00ff6e"/><stop offset=".3488" stop-color="#00ff5b"/><stop offset=".4119" stop-color="#00ff4d"/><stop offset=".4657" stop-color="#00ff3d"/><stop offset=".5121" stop-color="#00ff29"/><stop offset=".5343" stop-color="#00ff19"/><stop offset=".5529" stop-color="#0f0"/><stop offset=".7978" stop-color="#0f0"/><stop offset=".8033" stop-color="#21ff00"/><stop offset=".8108" stop-color="#39ff00"/><stop offset=".8219" stop-color="#50ff00"/><stop offset=".8442" stop-color="#6fff00"/><stop offset=".8683" stop-color="#8f0"/><stop offset=".9109" stop-color="#abff00"/><stop offset="1" stop-color="#e3ff00"/></linearGradient>
<linearGradient id="g114" gradientUnits="userSpaceOnUse" x1="297" x2="1381"><stop offset="0" stop-color="#00ff89"/><stop offset=".2343" stop-color="#00ff6f"/><stop offset=".3339" stop-color="#00ff5f"/><stop offset=".417" stop-color="#00ff4d"/><stop offset=".4834" stop-color="#00ff38"/><stop offset=".5221" stop-color="#00ff25"/><stop offset=".5443" stop-color="#00ff12"/><stop offset=".5554" stop-color="#0f0"/><stop offset=".7897" stop-color="#0f0"/><stop offset=".7915" stop-color="#02ff00"/><stop offset=".7934" stop-color="#14ff00"/><stop offset=".797" stop-color="#26ff00"/><stop offset=".8044" stop-color="#3cff00"/><stop offset=".8192" stop-color="#58ff00"/><stop offset=".8432" stop-color="#7f0"/><stop offset=".8745" stop-color="#95ff00"/><stop offset=".9077" stop-color="#afff00"/><stop offset=".9594" stop-color="#d1ff00"/><stop offset="1" stop-color="#e8ff00"/></linearGradient>
<linearGradient id="g115" gradientUnits="userSpaceOnUse" x1="297" x2="1387"><stop offset="0" stop-color="#00ff8a"/><stop offset=".2495" stop-color="#00ff6e"/><stop offset=".411" stop-color="#00ff50"/><stop offset=".4697" stop-color="#00ff3f"/><stop offset=".5046" stop-color="#00ff31"/><stop offset=".5394" stop-color="#00ff1b"/><stop offset=".5505" stop-color="#00ff0f"/><stop offset=".5596" stop-color="#0f0"/><stop offset=".7835" stop-color="#0f0"/><stop offset=".7853" stop-color="#05ff00"/><stop offset=".7872" stop-color="#16ff00"/><stop offset=".789" stop-color="#20ff00"/><stop offset=".7927" stop-color="#2eff00"/><stop offset=".7982" stop-color="#3dff00"/><stop offset=".8037" stop-color="#49ff00"/><stop offset=".8165" stop-color="#5eff00"/><stop offset=".8294" stop-color="#6fff00"/><stop offset=".855" stop-color="#8aff00"/><stop offset=".8881" stop-color="#a6ff00"/><stop offset=".945" stop-color="#cdff00"/><stop offset="1" stop-color="#edff00"/></linearGradient>
<linearGradient id="g116" gradientUnits="userSpaceOnUse" x1="297" x2="1393"><stop offset="0" stop-color="#00ff8b"/><stop offset=".2372" stop-color="#00ff71"/><stop offset=".4088" stop-color="#00ff52"/><stop offset=".4599" stop-color="#0f4"/><stop offset=".5073" stop-color="#00ff32"/><stop offset=".5438" stop-color="#00ff1b"/><stop offset=".5529" stop-color="#0f1"/><stop offset=".5639" stop-color="#0f0"/><stop offset=".7774" stop-color="#0f0"/><stop offset=".7792" stop-color="#08ff00"/><stop offset=".781" stop-color="#18ff00"/><stop offset=".7847" stop-color="#29ff00"/><stop offset=".7956" stop-color="#46ff00"/><stop offset=".8139" stop-color="#64ff00"/><stop offset=".8358" stop-color="#7eff00"/><stop offset=".8577" stop-color="#93ff00"/><stop offset=".9051" stop-color="#b8ff00"/><stop offset="1" stop-color="#f2ff00"/></linearGradient>
<linearGradient id="g117" gradientUnits="userSpaceOnUse" x1="298" x2="1400"><stop offset="0" stop-color="#00ff8c"/><stop offset=".1506" stop-color="#00ff7d"/><stop offset=".265" stop-color="#00ff6e"/><stop offset=".4138" stop-color="#00ff52"/><stop offset=".4791" stop-color="#00ff3f"/><stop offset=".5191" stop-color="#00ff2e"/><stop offset=".5481" stop-color="#00ff1a"/><stop offset=".5554" stop-color="#00ff12"/><stop offset=".5662" stop-color="#0f0"/><stop offset=".7695" stop-color="#0f0"/><stop offset=".7713" stop-color="#01ff00"/><stop offset=".7731" stop-color="#13ff00"/><stop offset=".7768" stop-color="#26ff00"/><stop offset=".7804" stop-color="#3f0"/><stop offset=".7858" stop-color="#41ff00"/><stop offset=".8022" stop-color="#5eff00"/><stop offset=".8348" stop-color="#85ff00"/><stop offset=".8966" stop-color="#b8ff00"/><stop offset=".9456" stop-color="#d8ff00"/><stop offset="1" stop-color="#f7ff00"/></linearGradient>
<linearGradient id="g118" gradientUnits="userSpaceOnUse" x1="298" x2="1406"><stop offset="0" stop-color="#00ff8d"/><stop offset=".2599" stop-color="#00ff70"/><stop offset=".3556" stop-color="#00ff60"/><stop offset=".4278" stop-color="#00ff50"/><stop offset=".4838" stop-color="#00ff3f"/><stop offset=".5307" stop-color="#00ff2a"/><stop offset=".5542" stop-color="#00ff18"/><stop offset=".5704" stop-color="#0f0"/><stop offset=".7635" stop-color="#0f0"/><stop offset=".7653" stop-color="#04ff00"/><stop offset=".7671" stop-color="#15ff00"/><stop offset=".769" stop-color="#20ff00"/><stop offset=".7726" stop-color="#2eff00"/><stop offset=".7834" stop-color="#49ff00"/><stop offset=".7996" stop-color="#64ff00"/><stop offset=".8249" stop-color="#82ff00"/><stop offset=".8664" stop-color="#a7ff00"/><stop offset=".8989" stop-color="#bfff00"/><stop offset=".944" stop-color="#dcff00"/><stop offset="1" stop-color="#fbff00"/></linearGradient>
<linearGradient id="g119" gradientUnits="userSpaceOnUse" x1="299" x2="1411"><stop offset="0" stop-color="#00ff8e"/><stop offset=".2608" stop-color="#00ff71"/><stop offset=".3723" stop-color="#00ff5e"/><stop offset=".4335" stop-color="#00ff50"/><stop offset=".5018" stop-color="#00ff3a"/><stop offset=".5414" stop-color="#00ff26"/><stop offset=".5647" stop-color="#00ff10"/><stop offset=".5737" stop-color="#0f0"/><stop offset=".759" stop-color="#0f0"/><stop offset=".7608" stop-color="#1f0"/><stop offset=".7644" stop-color="#25ff00"/><stop offset=".768" stop-color="#32ff00"/><stop offset=".777" stop-color="#48ff00"/><stop offset=".7896" stop-color="#5eff00"/><stop offset=".8004" stop-color="#6dff00"/><stop offset=".8255" stop-color="#89ff00"/><stop offset=".8597" stop-color="#a7ff00"/><stop offset=".8921" stop-color="#bfff00"/><stop offset=".9604" stop-color="#eaff00"/><stop offset="1" stop-color="#fffe00"/></linearGradient>
<linearGradient id="g120" gradientUnits="userSpaceOnUse" x1="299" x2="1417"><stop offset="0" stop-color="#00ff8f"/><stop offset=".1789" stop-color="#00ff7d"/><stop offset=".2755" stop-color="#00ff70"/><stop offset=".4275" stop-color="#00ff53"/><stop offset=".4884" stop-color="#00ff41"/><stop offset=".5224" stop-color="#0f3"/><stop offset=".5581" stop-color="#00ff1c"/><stop offset=".5671" stop-color="#00ff12"/><stop offset=".5778" stop-color="#0f0"/><stop offset=".7531" stop-color="#0f0"/><stop offset=".7549" stop-color="#13ff00"/><stop offset=".7585" stop-color="#26ff00"/><stop offset=".7621" stop-color="#3f0"/><stop offset=".771" stop-color="#49ff00"/><stop offset=".7907" stop-color="#69ff00"/><stop offset=".8157" stop-color="#86ff00"/><stop offset=".8551" stop-color="#a9ff00"/><stop offset=".8962" stop-color="#c7ff00"/><stop offset=".9857" stop-color="#fdff00"/><stop offset="1" stop-color="#fffa00"/></linearGradient>
<linearGradient id="g121" gradientUnits="userSpaceOnUse" x1="300" x2="1424"><stop offset="0" stop-color="#00ff90"/><stop offset=".1708" stop-color="#00ff7f"/><stop offset=".2829" stop-color="#00ff70"/><stop offset=".4324" stop-color="#00ff53"/><stop offset=".484" stop-color="#0f4"/><stop offset=".5338" stop-color="#00ff2f"/><stop offset=".5623" stop-color="#00ff1b"/><stop offset=".5694" stop-color="#00ff13"/><stop offset=".5801" stop-color="#0f0"/><stop offset=".7456" stop-color="#0f0"/><stop offset=".7491" stop-color="#1bff00"/><stop offset=".7509" stop-color="#24ff00"/><stop offset=".7544" stop-color="#31ff00"/><stop offset=".7633" stop-color="#48ff00"/><stop offset=".7758" stop-color="#5eff00"/><stop offset=".7865" stop-color="#6dff00"/><stop offset=".8132" stop-color="#8bff00"/><stop offset=".8612" stop-color="#b4ff00"/><stop offset=".9217" stop-color="#df0"/><stop offset=".9804" stop-color="#ff0"/><stop offset="1" stop-color="#fff500"/></linearGradient>
<linearGradient id="g122" gradientUnits="userSpaceOnUse" x1="301" x2="1429"><stop offset="0" stop-color="#00ff91"/><stop offset=".2199" stop-color="#00ff7a"/><stop offset=".3333" stop-color="#00ff69"/><stop offset=".422" stop-color="#00ff57"/><stop offset=".4858" stop-color="#00ff45"/><stop offset=".5284" stop-color="#00ff34"/><stop offset=".5514" stop-color="#00ff27"/><stop offset=".5674" stop-color="#00ff1a"/><stop offset=".5745" stop-color="#0f1"/><stop offset=".5833" stop-color="#0f0"/><stop offset=".7394" stop-color="#0f0"/><stop offset=".7411" stop-color="#07ff00"/><stop offset=".7429" stop-color="#17ff00"/><stop offset=".7465" stop-color="#29ff00"/><stop offset=".7518" stop-color="#3aff00"/><stop offset=".7606" stop-color="#4eff00"/><stop offset=".7837" stop-color="#71ff00"/><stop offset=".8121" stop-color="#90ff00"/><stop offset=".8599" stop-color="#b8ff00"/><stop offset=".9326" stop-color="#e8ff00"/><stop offset=".9734" stop-color="#ff0"/><stop offset="1" stop-color="#fff100"/></linearGradient>
<linearGradient id="g123" gradientUnits="userSpaceOnUse" x1="301" x2="1435"><stop offset="0" stop-color="#00ff92"/><stop offset=".2363" stop-color="#00ff79"/><stop offset=".3404" stop-color="#00ff69"/><stop offset=".4321" stop-color="#00ff56"/><stop offset=".485" stop-color="#00ff47"/><stop offset=".5309" stop-color="#00ff35"/><stop offset=".5679" stop-color="#00ff1d"/><stop offset=".5785" stop-color="#0f1"/><stop offset=".5873" stop-color="#0f0"/><stop offset=".7337" stop-color="#0f0"/><stop offset=".7354" stop-color="#0aff00"/><stop offset=".7372" stop-color="#19ff00"/><stop offset=".7407" stop-color="#2aff00"/><stop offset=".746" stop-color="#3bff00"/><stop offset=".7566" stop-color="#52ff00"/><stop offset=".7795" stop-color="#74ff00"/><stop offset=".8095" stop-color="#94ff00"/><stop offset=".8765" stop-color="#c9ff00"/><stop offset=".9647" stop-color="#ff0"/><stop offset="1" stop-color="#ffed00"/></linearGradient>
<linearGradient id="g124" gradientUnits="userSpaceOnUse" x1="302" x2="1442"><stop offset="0" stop-color="#00ff93"/><stop offset=".1895" stop-color="#00ff80"/><stop offset=".3684" stop-color="#00ff65"/><stop offset=".4561" stop-color="#00ff51"/><stop offset=".5281" stop-color="#00ff38"/><stop offset=".5526" stop-color="#00ff2b"/><stop offset=".5702" stop-color="#00ff1e"/><stop offset=".5807" stop-color="#00ff12"/><stop offset=".5912" stop-color="#0f0"/><stop offset=".7263" stop-color="#0f0"/><stop offset=".7281" stop-color="#03ff00"/><stop offset=".7298" stop-color="#15ff00"/><stop offset=".7333" stop-color="#28ff00"/><stop offset=".7404" stop-color="#3eff00"/><stop offset=".7491" stop-color="#51ff00"/><stop offset=".7684" stop-color="#6fff00"/><stop offset=".8053" stop-color="#97ff00"/><stop offset=".8684" stop-color="#c9ff00"/><stop offset=".9561" stop-color="#ff0"/><stop offset="1" stop-color="#ffe900"/></linearGradient>
<linearGradient id="g125" gradientUnits="userSpaceOnUse" x1="302" x2="1448"><stop offset="0" stop-color="#00ff94"/><stop offset=".2304" stop-color="#00ff7c"/><stop offset=".3997" stop-color="#00ff60"/><stop offset=".4852" stop-color="#00ff4a"/><stop offset=".5428" stop-color="#0f3"/><stop offset=".5759" stop-color="#00ff1c"/><stop offset=".5829" stop-color="#00ff14"/><stop offset=".5934" stop-color="#0f0"/><stop offset=".7208" stop-color="#0f0"/><stop offset=".7225" stop-color="#06ff00"/><stop offset=".7243" stop-color="#17ff00"/><stop offset=".7277" stop-color="#29ff00"/><stop offset=".7347" stop-color="#3fff00"/><stop offset=".7452" stop-color="#5f0"/><stop offset=".7661" stop-color="#74ff00"/><stop offset=".8063" stop-color="#9eff00"/><stop offset=".8726" stop-color="#d1ff00"/><stop offset=".9476" stop-color="#ff0"/><stop offset="1" stop-color="#ffe500"/></linearGradient>
<linearGradient id="g126" gradientUnits="userSpaceOnUse" x1="303" x2="1453"><stop offset="0" stop-color="#00ff95"/><stop offset=".2313" stop-color="#00ff7d"/><stop offset=".3965" stop-color="#00ff62"/><stop offset=".487" stop-color="#00ff4b"/><stop offset=".5391" stop-color="#00ff37"/><stop offset=".5757" stop-color="#00ff20"/><stop offset=".5861" stop-color="#00ff15"/><stop offset=".5983" stop-color="#0f0"/><stop offset=".7165" stop-color="#0f0"/><stop offset=".7183" stop-color="#13ff00"/><stop offset=".72" stop-color="#1eff00"/><stop offset=".7235" stop-color="#2dff00"/><stop offset=".7304" stop-color="#42ff00"/><stop offset=".7391" stop-color="#54ff00"/><stop offset=".7635" stop-color="#78ff00"/><stop offset=".8035" stop-color="#a1ff00"/><stop offset=".8661" stop-color="#d1ff00"/><stop offset=".9409" stop-color="#ff0"/><stop offset="1" stop-color="#ffe100"/></linearGradient>
<linearGradient id="g127" gradientUnits="userSpaceOnUse" x1="303" x2="1459"><stop offset="0" stop-color="#00ff96"/><stop offset=".2249" stop-color="#00ff7f"/><stop offset=".3979" stop-color="#00ff63"/><stop offset=".4792" stop-color="#00ff4f"/><stop offset=".5433" stop-color="#00ff37"/><stop offset=".5692" stop-color="#00ff28"/><stop offset=".5813" stop-color="#00ff1e"/><stop offset=".5917" stop-color="#00ff12"/><stop offset=".6003" stop-color="#0f0"/><stop offset=".7093" stop-color="#0f0"/><stop offset=".7111" stop-color="#02ff00"/><stop offset=".7128" stop-color="#15ff00"/><stop offset=".7145" stop-color="#20ff00"/><stop offset=".7197" stop-color="#34ff00"/><stop offset=".7353" stop-color="#58ff00"/><stop offset=".7526" stop-color="#72ff00"/><stop offset=".7751" stop-color="#8cff00"/><stop offset=".7958" stop-color="#a0ff00"/><stop offset=".8529" stop-color="#cdff00"/><stop offset=".9325" stop-color="#ff0"/><stop offset=".9671" stop-color="#ffec00"/><stop offset="1" stop-color="#ffde00"/></linearGradient>
<linearGradient id="g128" gradientUnits="userSpaceOnUse" x1="304" x2="1466"><stop offset="0" stop-color="#00ff97"/><stop offset=".2478" stop-color="#00ff7d"/><stop offset=".4131" stop-color="#00ff61"/><stop offset=".4836" stop-color="#00ff4f"/><stop offset=".5508" stop-color="#00ff35"/><stop offset=".5835" stop-color="#00ff1f"/><stop offset=".5938" stop-color="#00ff13"/><stop offset=".6024" stop-color="#00ff01"/><stop offset=".6041" stop-color="#0f0"/><stop offset=".704" stop-color="#0f0"/><stop offset=".7074" stop-color="#1cff00"/><stop offset=".7108" stop-color="#2cff00"/><stop offset=".716" stop-color="#3dff00"/><stop offset=".7263" stop-color="#54ff00"/><stop offset=".7487" stop-color="#76ff00"/><stop offset=".7728" stop-color="#91ff00"/><stop offset=".8021" stop-color="#acff00"/><stop offset=".8623" stop-color="#d9ff00"/><stop offset=".9243" stop-color="#ff0"/><stop offset=".9621" stop-color="#ffea00"/><stop offset="1" stop-color="#ffda00"/></linearGradient>
<linearGradient id="g129" gradientUnits="userSpaceOnUse" x1="304" x2="1472"><stop offset="0" stop-color="#00ff98"/><stop offset=".2106" stop-color="#00ff83"/><stop offset=".4007" stop-color="#00ff65"/><stop offset=".4983" stop-color="#00ff4c"/><stop offset=".5531" stop-color="#00ff36"/><stop offset=".5719" stop-color="#00ff2b"/><stop offset=".589" stop-color="#00ff1d"/><stop offset=".5993" stop-color="#00ff10"/><stop offset=".6062" stop-color="#00ff01"/><stop offset=".6079" stop-color="#0f0"/><stop offset=".6986" stop-color="#0f0"/><stop offset=".7003" stop-color="#12ff00"/><stop offset=".7021" stop-color="#1eff00"/><stop offset=".7038" stop-color="#27ff00"/><stop offset=".7089" stop-color="#39ff00"/><stop offset=".7175" stop-color="#4eff00"/><stop offset=".7277" stop-color="#60ff00"/><stop offset=".7551" stop-color="#85ff00"/><stop offset=".7979" stop-color="#aeff00"/><stop offset=".8493" stop-color="#d5ff00"/><stop offset=".9161" stop-color="#ff0"/><stop offset=".9521" stop-color="#ffeb00"/><stop offset="1" stop-color="#ffd600"/></linearGradient>
<linearGradient id="g130" gradientUnits="userSpaceOnUse" x1="305" x2="1477"><stop offset="0" stop-color="#0f9"/><stop offset=".2577" stop-color="#00ff7e"/><stop offset=".4249" stop-color="#00ff61"/><stop offset=".5119" stop-color="#00ff49"/><stop offset=".5648" stop-color="#00ff32"/><stop offset=".5939" stop-color="#00ff1c"/><stop offset=".6024" stop-color="#0f1"/><stop offset=".6109" stop-color="#0f0"/><stop offset=".6928" stop-color="#0f0"/><stop offset=".6962" stop-color="#1bff00"/><stop offset=".7014" stop-color="#32ff00"/><stop offset=".7065" stop-color="#41ff00"/><stop offset=".7167" stop-color="#57ff00"/><stop offset=".7372" stop-color="#76ff00"/><stop offset=".7577" stop-color="#8eff00"/><stop offset=".7918" stop-color="#aeff00"/><stop offset=".8515" stop-color="#dbff00"/><stop offset=".9078" stop-color="#ff0"/><stop offset=".9488" stop-color="#ffe900"/><stop offset="1" stop-color="#ffd300"/></linearGradient>
<linearGradient id="g131" gradientUnits="userSpaceOnUse" x1="306" x2="1484"><stop offset="0" stop-color="#00ff9a"/><stop offset=".2581" stop-color="#00ff7f"/><stop offset=".4261" stop-color="#00ff62"/><stop offset=".5042" stop-color="#00ff4d"/><stop offset=".5569" stop-color="#00ff38"/><stop offset=".5789" stop-color="#00ff2b"/><stop offset=".5976" stop-color="#00ff1b"/><stop offset=".6044" stop-color="#00ff12"/><stop offset=".6129" stop-color="#0f0"/><stop offset=".6859" stop-color="#0f0"/><stop offset=".6876" stop-color="#05ff00"/><stop offset=".6893" stop-color="#17ff00"/><stop offset=".691" stop-color="#21ff00"/><stop offset=".6978" stop-color="#3bff00"/><stop offset=".7029" stop-color="#48ff00"/><stop offset=".7165" stop-color="#62ff00"/><stop offset=".747" stop-color="#8aff00"/><stop offset=".7929" stop-color="#b5ff00"/><stop offset=".8421" stop-color="#daff00"/><stop offset=".8998" stop-color="#ff0"/><stop offset=".9525" stop-color="#ffe300"/><stop offset="1" stop-color="#ffd000"/></linearGradient>
<linearGradient id="g132" gradientUnits="userSpaceOnUse" x1="306" x2="1490"><stop offset="0" stop-color="#00ff9b"/><stop offset=".2669" stop-color="#00ff7f"/><stop offset=".4324" stop-color="#00ff62"/><stop offset=".5" stop-color="#00ff50"/><stop offset=".5608" stop-color="#00ff38"/><stop offset=".5963" stop-color="#00ff20"/><stop offset=".6064" stop-color="#00ff14"/><stop offset=".6166" stop-color="#0f0"/><stop offset=".6807" stop-color="#0f0"/><stop offset=".6824" stop-color="#08ff00"/><stop offset=".6841" stop-color="#19ff00"/><stop offset=".6858" stop-color="#23ff00"/><stop offset=".6892" stop-color="#31ff00"/><stop offset=".6943" stop-color="#40ff00"/><stop offset=".7078" stop-color="#5dff00"/><stop offset=".723" stop-color="#74ff00"/><stop offset=".7466" stop-color="#90ff00"/><stop offset=".7973" stop-color="#beff00"/><stop offset=".8497" stop-color="#e4ff00"/><stop offset=".8919" stop-color="#ff0"/><stop offset=".9443" stop-color="#ffe300"/><stop offset="1" stop-color="#ffcd00"/></linearGradient>
<linearGradient id="g133" gradientUnits="userSpaceOnUse" x1="307" x2="1495"><stop offset="0" stop-color="#00ff9c"/><stop offset=".2374" stop-color="#00ff84"/><stop offset=".3468" stop-color="#00ff74"/><stop offset=".4293" stop-color="#00ff64"/><stop offset=".5051" stop-color="#00ff50"/><stop offset=".569" stop-color="#00ff36"/><stop offset=".601" stop-color="#00ff1f"/><stop offset=".6094" stop-color="#00ff15"/><stop offset=".6195" stop-color="#0f0"/><stop offset=".6751" stop-color="#0f0"/><stop offset=".6768" stop-color="#01ff00"/><stop offset=".6785" stop-color="#14ff00"/><stop offset=".6801" stop-color="#20ff00"/><stop offset=".6852" stop-color="#35ff00"/><stop offset=".6953" stop-color="#4fff00"/><stop offset=".7054" stop-color="#62ff00"/><stop offset=".7205" stop-color="#78ff00"/><stop offset=".7391" stop-color="#8eff00"/><stop offset=".7643" stop-color="#a7ff00"/><stop offset=".7963" stop-color="#c2ff00"/><stop offset=".8855" stop-color="#ff0"/><stop offset=".9327" stop-color="#ffe500"/><stop offset="1" stop-color="#ffca00"/></linearGradient>
<linearGradient id="g134" gradientUnits="userSpaceOnUse" x1="308" x2="1502"><stop offset="0" stop-color="#00ff9d"/><stop offset=".2379" stop-color="#00ff85"/><stop offset=".3534" stop-color="#00ff74"/><stop offset=".4389" stop-color="#00ff63"/><stop offset=".5092" stop-color="#00ff50"/><stop offset=".5645" stop-color="#00ff3a"/><stop offset=".5997" stop-color="#00ff23"/><stop offset=".6114" stop-color="#00ff16"/><stop offset=".6214" stop-color="#00ff01"/><stop offset=".6231" stop-color="#0f0"/><stop offset=".67" stop-color="#0f0"/><stop offset=".6734" stop-color="#1cff00"/><stop offset=".6784" stop-color="#3f0"/><stop offset=".6884" stop-color="#4eff00"/><stop offset=".7002" stop-color="#64ff00"/><stop offset=".7169" stop-color="#7cff00"/><stop offset=".737" stop-color="#93ff00"/><stop offset=".794" stop-color="#c6ff00"/><stop offset=".8777" stop-color="#ff0"/><stop offset=".928" stop-color="#ffe300"/><stop offset="1" stop-color="#ffc700"/></linearGradient>
<linearGradient id="g135" gradientUnits="userSpaceOnUse" x1="308" x2="1508"><stop offset="0" stop-color="#00ff9e"/><stop offset=".255" stop-color="#00ff84"/><stop offset=".355" stop-color="#00ff75"/><stop offset=".445" stop-color="#00ff63"/><stop offset=".52" stop-color="#00ff4e"/><stop offset=".5667" stop-color="#00ff3b"/><stop offset=".5933" stop-color="#00ff2b"/><stop offset=".6083" stop-color="#00ff1e"/><stop offset=".6167" stop-color="#00ff13"/><stop offset=".625" stop-color="#0f0"/><stop offset=".665" stop-color="#0f0"/><stop offset=".6667" stop-color="#12ff00"/><stop offset=".6683" stop-color="#1eff00"/><stop offset=".6733" stop-color="#34ff00"/><stop offset=".6833" stop-color="#4fff00"/><stop offset=".6983" stop-color="#6aff00"/><stop offset=".7367" stop-color="#9f0"/><stop offset=".79" stop-color="#c8ff00"/><stop offset=".87" stop-color="#ff0"/><stop offset=".9267" stop-color="#ffe000"/><stop offset="1" stop-color="#ffc400"/></linearGradient>
<linearGradient id="g136" gradientUnits="userSpaceOnUse" x1="309" x2="1513"><stop offset="0" stop-color="#00ff9f"/><stop offset=".2708" stop-color="#00ff83"/><stop offset=".3787" stop-color="#00ff72"/><stop offset=".4635" stop-color="#00ff60"/><stop offset=".5249" stop-color="#00ff4e"/><stop offset=".5648" stop-color="#00ff3e"/><stop offset=".593" stop-color="#00ff2e"/><stop offset=".608" stop-color="#0f2"/><stop offset=".6196" stop-color="#00ff14"/><stop offset=".6279" stop-color="#00ff01"/><stop offset=".6595" stop-color="#0f0"/><stop offset=".6645" stop-color="#24ff00"/><stop offset=".6694" stop-color="#38ff00"/><stop offset=".6761" stop-color="#4aff00"/><stop offset=".6894" stop-color="#64ff00"/><stop offset=".7043" stop-color="#7aff00"/><stop offset=".7292" stop-color="#97ff00"/><stop offset=".7575" stop-color="#b2ff00"/><stop offset=".7957" stop-color="#d1ff00"/><stop offset=".8638" stop-color="#ff0"/><stop offset=".9236" stop-color="#ffde00"/><stop offset="1" stop-color="#ffc100"/></linearGradient>
<linearGradient id="g137" gradientUnits="userSpaceOnUse" x1="310" x2="1520"><stop offset="0" stop-color="#00ffa0"/><stop offset=".1455" stop-color="#00ff93"/><stop offset=".286" stop-color="#00ff82"/><stop offset=".3851" stop-color="#00ff72"/><stop offset=".4645" stop-color="#00ff61"/><stop offset=".5289" stop-color="#00ff4e"/><stop offset=".5702" stop-color="#00ff3d"/><stop offset=".5884" stop-color="#0f3"/><stop offset=".6116" stop-color="#00ff21"/><stop offset=".6215" stop-color="#00ff15"/><stop offset=".6314" stop-color="#0f0"/><stop offset=".6529" stop-color="#0f0"/><stop offset=".6545" stop-color="#03ff00"/><stop offset=".6562" stop-color="#16ff00"/><stop offset=".6579" stop-color="#21ff00"/><stop offset=".6612" stop-color="#30ff00"/><stop offset=".6661" stop-color="#40ff00"/><stop offset=".6744" stop-color="#54ff00"/><stop offset=".6942" stop-color="#75ff00"/><stop offset=".7322" stop-color="#a1ff00"/><stop offset=".795" stop-color="#d6ff00"/><stop offset=".8545" stop-color="#ff0"/><stop offset=".924" stop-color="#ffda00"/><stop offset="1" stop-color="#ffbe00"/></linearGradient>
<linearGradient id="g138" gradientUnits="userSpaceOnUse" x1="310" x2="1526"><stop offset="0" stop-color="#00ffa1"/><stop offset=".2582" stop-color="#00ff87"/><stop offset=".3701" stop-color="#00ff76"/><stop offset=".4622" stop-color="#00ff63"/><stop offset=".528" stop-color="#00ff50"/><stop offset=".5855" stop-color="#00ff37"/><stop offset=".6151" stop-color="#00ff21"/><stop offset=".6234" stop-color="#00ff17"/><stop offset=".6349" stop-color="#0f0"/><stop offset=".648" stop-color="#0f0"/><stop offset=".6497" stop-color="#07ff00"/><stop offset=".6513" stop-color="#18ff00"/><stop offset=".653" stop-color="#23ff00"/><stop offset=".6612" stop-color="#41ff00"/><stop offset=".6711" stop-color="#58ff00"/><stop offset=".6859" stop-color="#71ff00"/><stop offset=".7138" stop-color="#94ff00"/><stop offset=".7336" stop-color="#a8ff00"/><stop offset=".8076" stop-color="#e4ff00"/><stop offset=".847" stop-color="#ff0"/><stop offset=".9227" stop-color="#ffd700"/><stop offset="1" stop-color="#fb0"/></linearGradient>
<linearGradient id="g139" gradientUnits="userSpaceOnUse" x1="311" x2="1531"><stop offset="0" stop-color="#00ffa2"/><stop offset=".1377" stop-color="#00ff96"/><stop offset=".2885" stop-color="#00ff84"/><stop offset=".3934" stop-color="#00ff73"/><stop offset=".4754" stop-color="#00ff61"/><stop offset=".5328" stop-color="#00ff50"/><stop offset=".5803" stop-color="#00ff3c"/><stop offset=".6049" stop-color="#00ff2d"/><stop offset=".6197" stop-color="#00ff20"/><stop offset=".6262" stop-color="#00ff18"/><stop offset=".6377" stop-color="#0f0"/><stop offset=".6443" stop-color="#0f0"/><stop offset=".6459" stop-color="#14ff00"/><stop offset=".6475" stop-color="#20ff00"/><stop offset=".6541" stop-color="#3bff00"/><stop offset=".6656" stop-color="#57ff00"/><stop offset=".6836" stop-color="#75ff00"/><stop offset=".7049" stop-color="#90ff00"/><stop offset=".7311" stop-color="#abff00"/><stop offset=".8" stop-color="#e3ff00"/><stop offset=".841" stop-color="#ff0"/><stop offset=".9066" stop-color="#ffdb00"/><stop offset="1" stop-color="#ffb900"/></linearGradient>
<linearGradient id="g140" gradientUnits="userSpaceOnUse" x1="312" x2="1538"><stop offset="0" stop-color="#00ffa3"/><stop offset=".1762" stop-color="#00ff93"/><stop offset=".2822" stop-color="#00ff86"/><stop offset=".3997" stop-color="#00ff73"/><stop offset=".4845" stop-color="#00ff60"/><stop offset=".5449" stop-color="#00ff4d"/><stop offset=".5873" stop-color="#00ff3a"/><stop offset=".6036" stop-color="#00ff30"/><stop offset=".6232" stop-color="#00ff1f"/><stop offset=".633" stop-color="#0f1"/><stop offset=".6378" stop-color="#00ff05"/><stop offset=".6395" stop-color="#0eff00"/><stop offset=".6427" stop-color="#26ff00"/><stop offset=".6509" stop-color="#43ff00"/><stop offset=".6591" stop-color="#56ff00"/><stop offset=".6786" stop-color="#7f0"/><stop offset=".6966" stop-color="#8eff00"/><stop offset=".7243" stop-color="#abff00"/><stop offset=".7586" stop-color="#c9ff00"/><stop offset=".7993" stop-color="#e8ff00"/><stop offset=".8336" stop-color="#ff0"/><stop offset=".8679" stop-color="#ffea00"/><stop offset=".907" stop-color="#ffd700"/><stop offset="1" stop-color="#ffb600"/></linearGradient>
<linearGradient id="g141" gradientUnits="userSpaceOnUse" x1="312" x2="1544"><stop offset="0" stop-color="#00ffa4"/><stop offset=".2614" stop-color="#00ff8a"/><stop offset=".3799" stop-color="#00ff78"/><stop offset=".4448" stop-color="#00ff6b"/><stop offset=".4935" stop-color="#00ff5f"/><stop offset=".5666" stop-color="#00ff46"/><stop offset=".6071" stop-color="#00ff30"/><stop offset=".6218" stop-color="#00ff24"/><stop offset=".6331" stop-color="#00ff16"/><stop offset=".6347" stop-color="#11ff13"/><stop offset=".638" stop-color="#27ff0d"/><stop offset=".6429" stop-color="#3aff00"/><stop offset=".6461" stop-color="#4f0"/><stop offset=".6542" stop-color="#57ff00"/><stop offset=".6753" stop-color="#7aff00"/><stop offset=".7045" stop-color="#9dff00"/><stop offset=".737" stop-color="#bcff00"/><stop offset=".8068" stop-color="#f2ff00"/><stop offset=".8263" stop-color="#ff0"/><stop offset=".8604" stop-color="#ffea00"/><stop offset=".9107" stop-color="#ffd200"/><stop offset="1" stop-color="#ffb300"/></linearGradient>
<linearGradient id="g142" gradientUnits="userSpaceOnUse" x1="313" x2="1549"><stop offset="0" stop-color="#00ffa5"/><stop offset=".2702" stop-color="#00ff8a"/><stop offset=".4466" stop-color="#00ff6c"/><stop offset=".5129" stop-color="#00ff5b"/><stop offset=".5712" stop-color="#00ff46"/><stop offset=".6036" stop-color="#00ff35"/><stop offset=".6278" stop-color="#00ff21"/><stop offset=".6294" stop-color="#0aff1f"/><stop offset=".6311" stop-color="#1aff1d"/><stop offset=".6343" stop-color="#2cff19"/><stop offset=".6424" stop-color="#47ff0a"/><stop offset=".6456" stop-color="#4eff01"/><stop offset=".6472" stop-color="#52ff00"/><stop offset=".6586" stop-color="#68ff00"/><stop offset=".6731" stop-color="#7eff00"/><stop offset=".6974" stop-color="#9bff00"/><stop offset=".7314" stop-color="#bcff00"/><stop offset=".8091" stop-color="#f8ff00"/><stop offset=".8204" stop-color="#ff0"/><stop offset=".8592" stop-color="#ffe700"/><stop offset=".9013" stop-color="#ffd300"/><stop offset="1" stop-color="#ffb100"/></linearGradient>
<linearGradient id="g143" gradientUnits="userSpaceOnUse" x1="314" x2="1556"><stop offset="0" stop-color="#00ffa6"/><stop offset=".2142" stop-color="#00ff92"/><stop offset=".409" stop-color="#00ff75"/><stop offset=".4928" stop-color="#00ff62"/><stop offset=".5443" stop-color="#00ff52"/><stop offset=".591" stop-color="#00ff3e"/><stop offset=".6216" stop-color="#00ff29"/><stop offset=".6232" stop-color="#02ff28"/><stop offset=".6248" stop-color="#16ff26"/><stop offset=".628" stop-color="#2aff23"/><stop offset=".6345" stop-color="#41ff1c"/><stop offset=".6425" stop-color="#55ff0f"/><stop offset=".649" stop-color="#61ff00"/><stop offset=".6715" stop-color="#84ff00"/><stop offset=".6957" stop-color="#a0ff00"/><stop offset=".7246" stop-color="#bcff00"/><stop offset=".7633" stop-color="#dcff00"/><stop offset=".8116" stop-color="#ff0"/><stop offset=".8438" stop-color="#ffeb00"/><stop offset=".8905" stop-color="#ffd400"/><stop offset=".9388" stop-color="#ffc100"/><stop offset="1" stop-color="#ffae00"/></linearGradient>
<linearGradient id="g144" gradientUnits="userSpaceOnUse" x1="315" x2="1561"><stop offset="0" stop-color="#00ffa7"/><stop offset=".2408" stop-color="#00ff90"/><stop offset=".4157" stop-color="#00ff75"/><stop offset=".4831" stop-color="#0f6"/><stop offset=".5409" stop-color="#0f5"/><stop offset=".5811" stop-color="#00ff45"/><stop offset=".618" stop-color="#00ff2f"/><stop offset=".6196" stop-color="#11ff2e"/><stop offset=".6228" stop-color="#27ff2b"/><stop offset=".626" stop-color="#35ff29"/><stop offset=".6308" stop-color="#44ff24"/><stop offset=".6404" stop-color="#5aff19"/><stop offset=".6469" stop-color="#66ff0d"/><stop offset=".6517" stop-color="#6eff00"/><stop offset=".6613" stop-color="#7dff00"/><stop offset=".6822" stop-color="#97ff00"/><stop offset=".7191" stop-color="#bcff00"/><stop offset=".801" stop-color="#fcff00"/><stop offset=".8058" stop-color="#ff0"/><stop offset=".8427" stop-color="#ffe800"/><stop offset=".8812" stop-color="#ffd500"/><stop offset=".9486" stop-color="#fb0"/><stop offset="1" stop-color="#ffac00"/></linearGradient>
<linearGradient id="g145" gradientUnits="userSpaceOnUse" x1="315" x2="1567"><stop offset="0" stop-color="#00ffa8"/><stop offset=".2252" stop-color="#00ff93"/><stop offset=".4073" stop-color="#00ff78"/><stop offset=".4728" stop-color="#00ff6a"/><stop offset=".5367" stop-color="#00ff58"/><stop offset=".5831" stop-color="#00ff46"/><stop offset=".6134" stop-color="#00ff35"/><stop offset=".615" stop-color="#13ff34"/><stop offset=".6166" stop-color="#20ff33"/><stop offset=".6198" stop-color="#30ff30"/><stop offset=".6262" stop-color="#45ff2b"/><stop offset=".6422" stop-color="#67ff1b"/><stop offset=".6486" stop-color="#72ff10"/><stop offset=".655" stop-color="#7bff00"/><stop offset=".6581" stop-color="#80ff00"/><stop offset=".6885" stop-color="#a4ff00"/><stop offset=".7188" stop-color="#c1ff00"/><stop offset=".7971" stop-color="#feff00"/><stop offset=".8355" stop-color="#ffe800"/><stop offset=".885" stop-color="#ffd000"/><stop offset=".9377" stop-color="#ffbc00"/><stop offset="1" stop-color="#ffa900"/></linearGradient>
<linearGradient id="g146" gradientUnits="userSpaceOnUse" x1="316" x2="1574"><stop offset="0" stop-color="#00ffa9"/><stop offset=".2178" stop-color="#00ff95"/><stop offset=".3975" stop-color="#00ff7b"/><stop offset=".5119" stop-color="#00ff61"/><stop offset=".5628" stop-color="#00ff50"/><stop offset=".6073" stop-color="#00ff3a"/><stop offset=".6105" stop-color="#1cff39"/><stop offset=".6121" stop-color="#26ff38"/><stop offset=".6169" stop-color="#3aff34"/><stop offset=".6216" stop-color="#48ff31"/><stop offset=".6328" stop-color="#61ff28"/><stop offset=".6423" stop-color="#71ff1e"/><stop offset=".6502" stop-color="#7dff11"/><stop offset=".655" stop-color="#84ff04"/><stop offset=".6566" stop-color="#86ff00"/><stop offset=".6757" stop-color="#9dff00"/><stop offset=".7122" stop-color="#c1ff00"/><stop offset=".787" stop-color="#fcff00"/><stop offset=".7917" stop-color="#ff0"/><stop offset=".8331" stop-color="#ffe500"/><stop offset=".8935" stop-color="#ffc900"/><stop offset="1" stop-color="#ffa700"/></linearGradient>
<linearGradient id="g147" gradientUnits="userSpaceOnUse" x1="317" x2="1579"><stop offset="0" stop-color="#0fa"/><stop offset=".2013" stop-color="#00ff98"/><stop offset=".3819" stop-color="#00ff7f"/><stop offset=".5103" stop-color="#00ff63"/><stop offset=".5674" stop-color="#00ff50"/><stop offset=".6022" stop-color="#00ff40"/><stop offset=".6038" stop-color="#05ff3f"/><stop offset=".6054" stop-color="#18ff3e"/><stop offset=".6086" stop-color="#2bff3c"/><stop offset=".6165" stop-color="#47ff37"/><stop offset=".626" stop-color="#5dff31"/><stop offset=".645" stop-color="#7dff1e"/><stop offset=".6498" stop-color="#83ff18"/><stop offset=".6545" stop-color="#89ff0f"/><stop offset=".6593" stop-color="#8fff01"/><stop offset=".6609" stop-color="#91ff00"/><stop offset=".6846" stop-color="#acff00"/><stop offset=".71" stop-color="#c4ff00"/><stop offset=".7765" stop-color="#f9ff00"/><stop offset=".7861" stop-color="#ff0"/><stop offset=".8304" stop-color="#ffe300"/><stop offset=".8891" stop-color="#ffc800"/><stop offset="1" stop-color="#ffa500"/></linearGradient>
<linearGradient id="g148" gradientUnits="userSpaceOnUse" x1="317" x2="1585"><stop offset="0" stop-color="#00ffab"/><stop offset=".1845" stop-color="#00ff9b"/><stop offset=".3722" stop-color="#00ff82"/><stop offset=".5047" stop-color="#0f6"/><stop offset=".5615" stop-color="#00ff54"/><stop offset=".5978" stop-color="#0f4"/><stop offset=".5994" stop-color="#09ff43"/><stop offset=".6009" stop-color="#1aff42"/><stop offset=".6025" stop-color="#24ff42"/><stop offset=".6057" stop-color="#33ff40"/><stop offset=".6104" stop-color="#43ff3d"/><stop offset=".623" stop-color="#61ff35"/><stop offset=".6372" stop-color="#79ff2a"/><stop offset=".6546" stop-color="#90ff15"/><stop offset=".6625" stop-color="#9f0"/><stop offset=".6987" stop-color="#bfff00"/><stop offset=".7729" stop-color="#fbff00"/><stop offset=".7792" stop-color="#ff0"/><stop offset=".8233" stop-color="#ffe300"/><stop offset=".8864" stop-color="#ffc600"/><stop offset="1" stop-color="#ffa200"/></linearGradient>
<linearGradient id="g149" gradientUnits="userSpaceOnUse" x1="318" x2="1592"><stop offset="0" stop-color="#00ffac"/><stop offset=".1947" stop-color="#00ff9b"/><stop offset=".3673" stop-color="#00ff84"/><stop offset=".4945" stop-color="#00ff6a"/><stop offset=".5573" stop-color="#00ff57"/><stop offset=".5934" stop-color="#00ff48"/><stop offset=".595" stop-color="#15ff47"/><stop offset=".5965" stop-color="#21ff46"/><stop offset=".5997" stop-color="#31ff45"/><stop offset=".6044" stop-color="#42ff42"/><stop offset=".6122" stop-color="#56ff3e"/><stop offset=".6217" stop-color="#69ff38"/><stop offset=".6405" stop-color="#86ff29"/><stop offset=".6562" stop-color="#99ff16"/><stop offset=".6641" stop-color="#a2ff01"/><stop offset=".6656" stop-color="#a4ff00"/><stop offset=".7033" stop-color="#c9ff00"/><stop offset=".7724" stop-color="#ff0"/><stop offset=".81" stop-color="#ffe600"/><stop offset=".8681" stop-color="#ffca00"/><stop offset=".9074" stop-color="#fb0"/><stop offset="1" stop-color="#ffa000"/></linearGradient>
<linearGradient id="g150" gradientUnits="userSpaceOnUse" x1="319" x2="1597"><stop offset="0" stop-color="#00ffad"/><stop offset=".205" stop-color="#00ff9b"/><stop offset=".3631" stop-color="#00ff86"/><stop offset=".5039" stop-color="#00ff69"/><stop offset=".5477" stop-color="#00ff5c"/><stop offset=".5884" stop-color="#00ff4c"/><stop offset=".5915" stop-color="#1eff4b"/><stop offset=".5931" stop-color="#27ff4a"/><stop offset=".6009" stop-color="#45ff46"/><stop offset=".6103" stop-color="#5cff41"/><stop offset=".6307" stop-color="#7fff34"/><stop offset=".6448" stop-color="#91ff29"/><stop offset=".6557" stop-color="#9eff1c"/><stop offset=".662" stop-color="#a5ff11"/><stop offset=".6682" stop-color="#acff00"/><stop offset=".7058" stop-color="#d0ff00"/><stop offset=".7653" stop-color="#ff0"/><stop offset=".8091" stop-color="#ffe300"/><stop offset=".8685" stop-color="#ffc700"/><stop offset=".9531" stop-color="#fa0"/><stop offset="1" stop-color="#ff9e00"/></linearGradient>
<linearGradient id="g151" gradientUnits="userSpaceOnUse" x1="320" x2="1604"><stop offset="0" stop-color="#00ffae"/><stop offset=".215" stop-color="#00ff9b"/><stop offset=".3879" stop-color="#00ff83"/><stop offset=".5125" stop-color="#00ff68"/><stop offset=".5826" stop-color="#00ff50"/><stop offset=".5841" stop-color="#08ff4f"/><stop offset=".5857" stop-color="#1aff4f"/><stop offset=".5872" stop-color="#24ff4e"/><stop offset=".5935" stop-color="#3fff4b"/><stop offset=".6044" stop-color="#5bff46"/><stop offset=".6277" stop-color="#83ff38"/><stop offset=".6417" stop-color="#95ff2e"/><stop offset=".6573" stop-color="#a7ff1d"/><stop offset=".6636" stop-color="#aeff12"/><stop offset=".6698" stop-color="#b4ff00"/><stop offset=".7181" stop-color="#e0ff00"/><stop offset=".7586" stop-color="#ff0"/><stop offset=".8053" stop-color="#ffe100"/><stop offset=".8629" stop-color="#ffc600"/><stop offset=".9439" stop-color="#fa0"/><stop offset="1" stop-color="#ff9b00"/></linearGradient>
<linearGradient id="g152" gradientUnits="userSpaceOnUse" x1="321" x2="1609"><stop offset="0" stop-color="#00ffaf"/><stop offset=".1693" stop-color="#00ffa1"/><stop offset=".3401" stop-color="#00ff8c"/><stop offset=".4876" stop-color="#00ff70"/><stop offset=".5792" stop-color="#00ff53"/><stop offset=".5807" stop-color="#15ff53"/><stop offset=".5839" stop-color="#2aff51"/><stop offset=".5916" stop-color="#47ff4e"/><stop offset=".604" stop-color="#64ff48"/><stop offset=".6196" stop-color="#7eff40"/><stop offset=".6366" stop-color="#95ff35"/><stop offset=".6568" stop-color="#acff22"/><stop offset=".6661" stop-color="#b6ff13"/><stop offset=".6724" stop-color="#bcff01"/><stop offset=".6739" stop-color="#bdff00"/><stop offset=".7065" stop-color="#dbff00"/><stop offset=".7531" stop-color="#ff0"/><stop offset=".7935" stop-color="#ffe400"/><stop offset=".8463" stop-color="#ffca00"/><stop offset=".9363" stop-color="#fa0"/><stop offset="1" stop-color="#f90"/></linearGradient>
<linearGradient id="g153" gradientUnits="userSpaceOnUse" x1="322" x2="1616"><stop offset="0" stop-color="#00ffb0"/><stop offset=".17" stop-color="#00ffa2"/><stop offset=".3478" stop-color="#00ff8c"/><stop offset=".476" stop-color="#00ff74"/><stop offset=".5734" stop-color="#00ff57"/><stop offset=".5765" stop-color="#1eff56"/><stop offset=".5781" stop-color="#27ff55"/><stop offset=".5811" stop-color="#36ff54"/><stop offset=".5873" stop-color="#4aff51"/><stop offset=".5966" stop-color="#60ff4d"/><stop offset=".6151" stop-color="#80ff44"/><stop offset=".6352" stop-color="#9aff38"/><stop offset=".6538" stop-color="#afff28"/><stop offset=".6646" stop-color="#baff1a"/><stop offset=".6692" stop-color="#bfff11"/><stop offset=".6754" stop-color="#c5ff00"/><stop offset=".745" stop-color="#ff0"/><stop offset=".7913" stop-color="#ffe100"/><stop offset=".8501" stop-color="#ffc500"/><stop offset=".9274" stop-color="#fa0"/><stop offset="1" stop-color="#ff9700"/></linearGradient>
<linearGradient id="g154" gradientUnits="userSpaceOnUse" x1="322" x2="1622"><stop offset="0" stop-color="#00ffb1"/><stop offset=".1815" stop-color="#00ffa2"/><stop offset=".3431" stop-color="#00ff8e"/><stop offset=".4692" stop-color="#0f7"/><stop offset=".5246" stop-color="#00ff69"/><stop offset=".5692" stop-color="#00ff5a"/><stop offset=".5708" stop-color="#12ff5a"/><stop offset=".5738" stop-color="#29ff58"/><stop offset=".5769" stop-color="#37ff57"/><stop offset=".5831" stop-color="#4bff55"/><stop offset=".5954" stop-color="#67ff50"/><stop offset=".6123" stop-color="#83ff48"/><stop offset=".64" stop-color="#a6ff37"/><stop offset=".6569" stop-color="#b8ff28"/><stop offset=".6692" stop-color="#c4ff17"/><stop offset=".6785" stop-color="#cdff00"/><stop offset=".74" stop-color="#fffe00"/><stop offset=".7846" stop-color="#ffe100"/><stop offset=".8477" stop-color="#ffc300"/><stop offset=".9292" stop-color="#ffa700"/><stop offset="1" stop-color="#ff9500"/></linearGradient>
<linearGradient id="g155" gradientUnits="userSpaceOnUse" x1="323" x2="1627"><stop offset="0" stop-color="#00ffb2"/><stop offset=".1733" stop-color="#00ffa4"/><stop offset=".3451" stop-color="#00ff8f"/><stop offset=".4801" stop-color="#00ff76"/><stop offset=".5644" stop-color="#00ff5e"/><stop offset=".566" stop-color="#0bff5d"/><stop offset=".5675" stop-color="#1cff5d"/><stop offset=".569" stop-color="#26ff5c"/><stop offset=".5721" stop-color="#35ff5b"/><stop offset=".5767" stop-color="#45ff59"/><stop offset=".5874" stop-color="#60ff55"/><stop offset=".6043" stop-color="#7eff4e"/><stop offset=".6273" stop-color="#9dff41"/><stop offset=".6564" stop-color="#bcff2c"/><stop offset=".6718" stop-color="#cbff18"/><stop offset=".681" stop-color="#d4ff00"/><stop offset=".7331" stop-color="#ff0"/><stop offset=".7837" stop-color="#ffde00"/><stop offset=".8436" stop-color="#ffc200"/><stop offset=".9248" stop-color="#ffa600"/><stop offset="1" stop-color="#ff9300"/></linearGradient>
<linearGradient id="g156" gradientUnits="userSpaceOnUse" x1="324" x2="1634"><stop offset="0" stop-color="#00ffb3"/><stop offset=".1542" stop-color="#00ffa7"/><stop offset=".3328" stop-color="#00ff92"/><stop offset=".4443" stop-color="#00ff7f"/><stop offset=".5588" stop-color="#00ff61"/><stop offset=".5603" stop-color="#03ff60"/><stop offset=".5618" stop-color="#17ff60"/><stop offset=".5634" stop-color="#23ff5f"/><stop offset=".5664" stop-color="#33ff5e"/><stop offset=".5725" stop-color="#48ff5c"/><stop offset=".5817" stop-color="#5fff59"/><stop offset=".6015" stop-color="#82ff50"/><stop offset=".629" stop-color="#a6ff42"/><stop offset=".6473" stop-color="#b9ff36"/><stop offset=".6626" stop-color="#c8ff28"/><stop offset=".6763" stop-color="#d5ff13"/><stop offset=".6824" stop-color="#dbff00"/><stop offset=".7267" stop-color="#ff0"/><stop offset=".771" stop-color="#ffe100"/><stop offset=".8305" stop-color="#ffc400"/><stop offset=".916" stop-color="#ffa600"/><stop offset="1" stop-color="#ff9000"/></linearGradient>
<linearGradient id="g157" gradientUnits="userSpaceOnUse" x1="325" x2="1641"><stop offset="0" stop-color="#00ffb4"/><stop offset=".1657" stop-color="#00ffa7"/><stop offset=".3267" stop-color="#00ff94"/><stop offset=".4453" stop-color="#00ff80"/><stop offset=".5547" stop-color="#00ff64"/><stop offset=".5562" stop-color="#12ff63"/><stop offset=".5578" stop-color="#1fff63"/><stop offset=".5593" stop-color="#29ff62"/><stop offset=".5638" stop-color="#3dff61"/><stop offset=".576" stop-color="#5eff5c"/><stop offset=".5927" stop-color="#7dff56"/><stop offset=".6216" stop-color="#a4ff48"/><stop offset=".6581" stop-color="#caff2f"/><stop offset=".6748" stop-color="#d9ff1a"/><stop offset=".6809" stop-color="#dfff0c"/><stop offset=".6839" stop-color="#e1ff01"/><stop offset=".7204" stop-color="#ff0"/><stop offset=".769" stop-color="#ffde00"/><stop offset=".8298" stop-color="#ffc100"/><stop offset=".9073" stop-color="#ffa600"/><stop offset="1" stop-color="#ff8e00"/></linearGradient>
<linearGradient id="g158" gradientUnits="userSpaceOnUse" x1="326" x2="1646"><stop offset="0" stop-color="#00ffb6"/><stop offset=".1773" stop-color="#00ffa7"/><stop offset=".3288" stop-color="#00ff95"/><stop offset=".4621" stop-color="#00ff7e"/><stop offset=".55" stop-color="#00ff67"/><stop offset=".5515" stop-color="#0bff66"/><stop offset=".553" stop-color="#1cff66"/><stop offset=".5545" stop-color="#26ff65"/><stop offset=".5576" stop-color="#35ff64"/><stop offset=".5636" stop-color="#4aff62"/><stop offset=".5758" stop-color="#67ff5e"/><stop offset=".5894" stop-color="#7fff59"/><stop offset=".6152" stop-color="#a2ff4d"/><stop offset=".6333" stop-color="#b6ff44"/><stop offset=".6591" stop-color="#d0ff31"/><stop offset=".6773" stop-color="#e0ff1b"/><stop offset=".6818" stop-color="#e4ff12"/><stop offset=".6879" stop-color="#eaff00"/><stop offset=".7136" stop-color="#ff0"/><stop offset=".7682" stop-color="#ffdb00"/><stop offset=".8258" stop-color="#ffc000"/><stop offset=".9167" stop-color="#ffa100"/><stop offset="1" stop-color="#ff8c00"/></linearGradient>
<linearGradient id="g159" gradientUnits="userSpaceOnUse" x1="327" x2="1653"><stop offset="0" stop-color="#00ffb7"/><stop offset=".1885" stop-color="#00ffa7"/><stop offset=".3303" stop-color="#00ff96"/><stop offset=".454" stop-color="#00ff81"/><stop offset=".5445" stop-color="#00ff6a"/><stop offset=".546" stop-color="#02ff6a"/><stop offset=".5475" stop-color="#17ff69"/><stop offset=".5505" stop-color="#2cff68"/><stop offset=".5581" stop-color="#49ff66"/><stop offset=".5686" stop-color="#63ff62"/><stop offset=".5822" stop-color="#7cff5d"/><stop offset=".6078" stop-color="#a0ff53"/><stop offset=".6425" stop-color="#c6ff40"/><stop offset=".6606" stop-color="#d7ff32"/><stop offset=".6757" stop-color="#e5ff21"/><stop offset=".6833" stop-color="#ebff13"/><stop offset=".6893" stop-color="#f0ff00"/><stop offset=".7074" stop-color="#ff0"/><stop offset=".7557" stop-color="#ffde00"/><stop offset=".813" stop-color="#ffc200"/><stop offset=".8944" stop-color="#ffa500"/><stop offset="1" stop-color="#ff8a00"/></linearGradient>
<linearGradient id="g160" gradientUnits="userSpaceOnUse" x1="327" x2="1659"><stop offset="0" stop-color="#00ffb8"/><stop offset=".1802" stop-color="#00ffa9"/><stop offset=".3183" stop-color="#0f9"/><stop offset=".4459" stop-color="#00ff84"/><stop offset=".5405" stop-color="#00ff6d"/><stop offset=".542" stop-color="#06ff6c"/><stop offset=".5435" stop-color="#19ff6c"/><stop offset=".5465" stop-color="#2dff6b"/><stop offset=".5526" stop-color="#45ff69"/><stop offset=".5661" stop-color="#67ff65"/><stop offset=".5826" stop-color="#84ff5f"/><stop offset=".6156" stop-color="#afff51"/><stop offset=".6592" stop-color="#dbff36"/><stop offset=".6742" stop-color="#e8ff27"/><stop offset=".6817" stop-color="#efff1c"/><stop offset=".6922" stop-color="#f7ff00"/><stop offset=".7012" stop-color="#ff0"/><stop offset=".7583" stop-color="#ffd900"/><stop offset=".8258" stop-color="#ffba00"/><stop offset=".9069" stop-color="#ff9f00"/><stop offset="1" stop-color="#f80"/></linearGradient>
<linearGradient id="g161" gradientUnits="userSpaceOnUse" x1="328" x2="1664"><stop offset="0" stop-color="#00ffb9"/><stop offset=".1722" stop-color="#00ffab"/><stop offset=".3204" stop-color="#00ff9a"/><stop offset=".4431" stop-color="#00ff86"/><stop offset=".5374" stop-color="#00ff6f"/><stop offset=".5389" stop-color="#14ff6f"/><stop offset=".5419" stop-color="#2aff6e"/><stop offset=".5464" stop-color="#3eff6d"/><stop offset=".5509" stop-color="#4dff6b"/><stop offset=".5599" stop-color="#63ff68"/><stop offset=".5763" stop-color="#81ff63"/><stop offset=".6108" stop-color="#afff55"/><stop offset=".6317" stop-color="#c5ff4b"/><stop offset=".6602" stop-color="#e0ff38"/><stop offset=".6796" stop-color="#f1ff24"/><stop offset=".6886" stop-color="#f9ff14"/><stop offset=".6946" stop-color="#feff00"/><stop offset=".6961" stop-color="#ff0"/><stop offset=".7485" stop-color="#ffdb00"/><stop offset=".8189" stop-color="#ffba00"/><stop offset=".8892" stop-color="#ffa200"/><stop offset="1" stop-color="#ff8600"/></linearGradient>
<linearGradient id="g162" gradientUnits="userSpaceOnUse" x1="329" x2="1671"><stop offset="0" stop-color="#00ffba"/><stop offset=".1937" stop-color="#0fa"/><stop offset=".3294" stop-color="#00ff9a"/><stop offset=".4396" stop-color="#0f8"/><stop offset=".532" stop-color="#00ff72"/><stop offset=".535" stop-color="#1dff71"/><stop offset=".5365" stop-color="#28ff71"/><stop offset=".544" stop-color="#47ff6f"/><stop offset=".5529" stop-color="#5fff6c"/><stop offset=".5723" stop-color="#83ff66"/><stop offset=".6095" stop-color="#b4ff57"/><stop offset=".6364" stop-color="#d0ff4a"/><stop offset=".6602" stop-color="#e6ff3a"/><stop offset=".6751" stop-color="#f3ff2c"/><stop offset=".6855" stop-color="#fcff1e"/><stop offset=".69" stop-color="#fffe15"/><stop offset=".696" stop-color="#fffa01"/><stop offset=".6975" stop-color="#fff800"/><stop offset=".7466" stop-color="#ffd800"/><stop offset=".8137" stop-color="#ffb900"/><stop offset=".9046" stop-color="#ff9b00"/><stop offset="1" stop-color="#ff8400"/></linearGradient>
<linearGradient id="g163" gradientUnits="userSpaceOnUse" x1="330" x2="1676"><stop offset="0" stop-color="#0fb"/><stop offset=".1649" stop-color="#00ffae"/><stop offset=".3091" stop-color="#00ff9e"/><stop offset=".4309" stop-color="#00ff8b"/><stop offset=".5275" stop-color="#00ff75"/><stop offset=".529" stop-color="#05ff75"/><stop offset=".5305" stop-color="#19ff74"/><stop offset=".5319" stop-color="#25ff74"/><stop offset=".5364" stop-color="#3bff73"/><stop offset=".5409" stop-color="#4aff71"/><stop offset=".5483" stop-color="#5eff6f"/><stop offset=".5691" stop-color="#85ff69"/><stop offset=".6048" stop-color="#b4ff5b"/><stop offset=".6404" stop-color="#d8ff4a"/><stop offset=".6672" stop-color="#f1ff37"/><stop offset=".6835" stop-color="#ffff25"/><stop offset=".6909" stop-color="#fff919"/><stop offset=".6999" stop-color="#fff200"/><stop offset=".7519" stop-color="#ffd200"/><stop offset=".8172" stop-color="#ffb500"/><stop offset=".9079" stop-color="#ff9800"/><stop offset="1" stop-color="#ff8200"/></linearGradient>
<linearGradient id="g164" gradientUnits="userSpaceOnUse" x1="331" x2="1683"><stop offset="0" stop-color="#00ffbc"/><stop offset=".1553" stop-color="#00ffb0"/><stop offset=".3033" stop-color="#00ffa0"/><stop offset=".4275" stop-color="#00ff8d"/><stop offset=".5237" stop-color="#0f7"/><stop offset=".5251" stop-color="#14ff77"/><stop offset=".5281" stop-color="#2bff76"/><stop offset=".5355" stop-color="#49ff74"/><stop offset=".5473" stop-color="#67ff71"/><stop offset=".5651" stop-color="#87ff6b"/><stop offset=".5932" stop-color="#adff61"/><stop offset=".6346" stop-color="#d9ff4f"/><stop offset=".6612" stop-color="#f1ff3e"/><stop offset=".6775" stop-color="#ffff2f"/><stop offset=".6908" stop-color="#fff41c"/><stop offset=".7012" stop-color="#ffed00"/><stop offset=".7485" stop-color="#ffd000"/><stop offset=".8121" stop-color="#ffb400"/><stop offset=".892" stop-color="#ff9a00"/><stop offset="1" stop-color="#ff8000"/></linearGradient>
<linearGradient id="g165" gradientUnits="userSpaceOnUse" x1="332" x2="1688"><stop offset="0" stop-color="#00ffbd"/><stop offset=".1681" stop-color="#00ffb0"/><stop offset=".3053" stop-color="#00ffa1"/><stop offset=".4189" stop-color="#00ff90"/><stop offset=".5192" stop-color="#00ff7a"/><stop offset=".5221" stop-color="#1dff79"/><stop offset=".5236" stop-color="#28ff79"/><stop offset=".5265" stop-color="#37ff78"/><stop offset=".5324" stop-color="#4cff77"/><stop offset=".5413" stop-color="#63ff74"/><stop offset=".559" stop-color="#84ff6f"/><stop offset=".5782" stop-color="#a0ff69"/><stop offset=".6062" stop-color="#c1ff5e"/><stop offset=".6504" stop-color="#ecff48"/><stop offset=".6726" stop-color="#ffff37"/><stop offset=".6932" stop-color="#ffee1c"/><stop offset=".6976" stop-color="#ffeb13"/><stop offset=".7035" stop-color="#ffe701"/><stop offset=".705" stop-color="#ffe600"/><stop offset=".7522" stop-color="#ffcb00"/><stop offset=".8245" stop-color="#ffad00"/><stop offset=".91" stop-color="#ff9300"/><stop offset="1" stop-color="#ff7e00"/></linearGradient>
<linearGradient id="g166" gradientUnits="userSpaceOnUse" x1="333" x2="1695"><stop offset="0" stop-color="#00ffbe"/><stop offset=".1483" stop-color="#00ffb3"/><stop offset=".2996" stop-color="#00ffa3"/><stop offset=".4317" stop-color="#00ff8f"/><stop offset=".514" stop-color="#00ff7d"/><stop offset=".5154" stop-color="#04ff7d"/><stop offset=".5169" stop-color="#19ff7c"/><stop offset=".5184" stop-color="#25ff7c"/><stop offset=".5213" stop-color="#35ff7b"/><stop offset=".5272" stop-color="#4bff7a"/><stop offset=".536" stop-color="#62ff77"/><stop offset=".5551" stop-color="#86ff72"/><stop offset=".5932" stop-color="#b9ff65"/><stop offset=".6358" stop-color="#e4ff52"/><stop offset=".6652" stop-color="#ffff3f"/><stop offset=".6887" stop-color="#ffed25"/><stop offset=".7004" stop-color="#ffe510"/><stop offset=".7063" stop-color="#ffe100"/><stop offset=".7533" stop-color="#ffc700"/><stop offset=".8194" stop-color="#ffac00"/><stop offset=".9163" stop-color="#ff8f00"/><stop offset="1" stop-color="#ff7c00"/></linearGradient>
<linearGradient id="g167" gradientUnits="userSpaceOnUse" x1="334" x2="1700"><stop offset="0" stop-color="#00ffbf"/><stop offset=".1391" stop-color="#00ffb5"/><stop offset=".3016" stop-color="#00ffa4"/><stop offset=".4173" stop-color="#00ff93"/><stop offset=".511" stop-color="#00ff7f"/><stop offset=".5124" stop-color="#14ff7f"/><stop offset=".5139" stop-color="#21ff7f"/><stop offset=".5154" stop-color="#2bff7e"/><stop offset=".5198" stop-color="#3fff7d"/><stop offset=".5242" stop-color="#4eff7c"/><stop offset=".5344" stop-color="#68ff79"/><stop offset=".5476" stop-color="#81ff76"/><stop offset=".5754" stop-color="#a9ff6d"/><stop offset=".6003" stop-color="#c6ff64"/><stop offset=".6384" stop-color="#ebff53"/><stop offset=".6603" stop-color="#ffff45"/><stop offset=".6808" stop-color="#ffef31"/><stop offset=".6969" stop-color="#ffe31c"/><stop offset=".7013" stop-color="#ffe114"/><stop offset=".7086" stop-color="#ffdc00"/><stop offset=".7716" stop-color="#ffbc00"/><stop offset=".8331" stop-color="#ffa500"/><stop offset=".9048" stop-color="#ff9000"/><stop offset="1" stop-color="#ff7a00"/></linearGradient>
<linearGradient id="g168" gradientUnits="userSpaceOnUse" x1="335" x2="1707"><stop offset="0" stop-color="#00ffc0"/><stop offset=".1633" stop-color="#00ffb4"/><stop offset=".2959" stop-color="#00ffa6"/><stop offset=".3892" stop-color="#0f9"/><stop offset=".5058" stop-color="#00ff82"/><stop offset=".5087" stop-color="#1dff81"/><stop offset=".5102" stop-color="#28ff81"/><stop offset=".516" stop-color="#43ff7f"/><stop offset=".5248" stop-color="#5dff7d"/><stop offset=".5408" stop-color="#7eff79"/><stop offset=".5539" stop-color="#93ff75"/><stop offset=".5875" stop-color="#beff6a"/><stop offset=".6297" stop-color="#e9ff59"/><stop offset=".6545" stop-color="#ffff4b"/><stop offset=".6895" stop-color="#ffe428"/><stop offset=".7012" stop-color="#ffdd17"/><stop offset=".7099" stop-color="#ffd700"/><stop offset=".7595" stop-color="#ffbe00"/><stop offset=".828" stop-color="#ffa400"/><stop offset=".9155" stop-color="#ff8b00"/><stop offset="1" stop-color="#ff7800"/></linearGradient>
<linearGradient id="g169" gradientUnits="userSpaceOnUse" x1="336" x2="1712"><stop offset="0" stop-color="#00ffc1"/><stop offset=".1192" stop-color="#00ffb9"/><stop offset=".2733" stop-color="#0fa"/><stop offset=".4041" stop-color="#00ff98"/><stop offset=".5015" stop-color="#00ff85"/><stop offset=".5029" stop-color="#03ff84"/><stop offset=".5044" stop-color="#19ff84"/><stop offset=".5058" stop-color="#25ff84"/><stop offset=".5116" stop-color="#41ff82"/><stop offset=".5203" stop-color="#5cff80"/><stop offset=".5378" stop-color="#80ff7b"/><stop offset=".5523" stop-color="#97ff77"/><stop offset=".5828" stop-color="#beff6e"/><stop offset=".6192" stop-color="#e4ff60"/><stop offset=".6483" stop-color="#ffff51"/><stop offset=".6933" stop-color="#ffde26"/><stop offset=".7035" stop-color="#ffd817"/><stop offset=".7137" stop-color="#ffd200"/><stop offset=".7602" stop-color="#fb0"/><stop offset=".8241" stop-color="#ffa300"/><stop offset=".8997" stop-color="#ff8d00"/><stop offset="1" stop-color="#ff7600"/></linearGradient>
<linearGradient id="g170" gradientUnits="userSpaceOnUse" x1="337" x2="1719"><stop offset="0" stop-color="#00ffc2"/><stop offset=".1331" stop-color="#00ffb9"/><stop offset=".2923" stop-color="#00ffa9"/><stop offset=".3936" stop-color="#00ff9b"/><stop offset=".4978" stop-color="#00ff87"/><stop offset=".4993" stop-color="#13ff86"/><stop offset=".5022" stop-color="#2bff86"/><stop offset=".508" stop-color="#45ff84"/><stop offset=".5152" stop-color="#5bff83"/><stop offset=".5311" stop-color="#7dff7f"/><stop offset=".5514" stop-color="#9dff79"/><stop offset=".5774" stop-color="#beff71"/><stop offset=".6093" stop-color="#e0ff65"/><stop offset=".6425" stop-color="#ffff56"/><stop offset=".6614" stop-color="#ffef46"/><stop offset=".6961" stop-color="#ffd824"/><stop offset=".7062" stop-color="#ffd215"/><stop offset=".7149" stop-color="#ffce00"/><stop offset=".767" stop-color="#ffb500"/><stop offset=".8379" stop-color="#ff9c00"/><stop offset=".9146" stop-color="#ff8700"/><stop offset="1" stop-color="#ff7400"/></linearGradient>
<linearGradient id="g171" gradientUnits="userSpaceOnUse" x1="338" x2="1724"><stop offset="0" stop-color="#00ffc4"/><stop offset=".1587" stop-color="#00ffb8"/><stop offset=".303" stop-color="#00ffa9"/><stop offset=".4026" stop-color="#00ff9b"/><stop offset=".4935" stop-color="#00ff89"/><stop offset=".4949" stop-color="#0cff89"/><stop offset=".4964" stop-color="#1dff89"/><stop offset=".4978" stop-color="#28ff88"/><stop offset=".5022" stop-color="#3eff87"/><stop offset=".5108" stop-color="#5aff85"/><stop offset=".5281" stop-color="#7fff81"/><stop offset=".5397" stop-color="#92ff7e"/><stop offset=".5729" stop-color="#beff74"/><stop offset=".6104" stop-color="#e6ff67"/><stop offset=".6378" stop-color="#ffff5a"/><stop offset=".6522" stop-color="#fff24e"/><stop offset=".6955" stop-color="#ffd527"/><stop offset=".7085" stop-color="#ffce15"/><stop offset=".7172" stop-color="#ffc900"/><stop offset=".7706" stop-color="#ffb100"/><stop offset=".8442" stop-color="#ff9800"/><stop offset=".9149" stop-color="#ff8500"/><stop offset="1" stop-color="#ff7300"/></linearGradient>
<linearGradient id="g172" gradientUnits="userSpaceOnUse" x1="339" x2="1731"><stop offset="0" stop-color="#00ffc5"/><stop offset=".1724" stop-color="#00ffb8"/><stop offset=".2974" stop-color="#00ffab"/><stop offset=".4109" stop-color="#00ff9b"/><stop offset=".4885" stop-color="#00ff8c"/><stop offset=".4899" stop-color="#02ff8c"/><stop offset=".4914" stop-color="#19ff8b"/><stop offset=".4928" stop-color="#25ff8b"/><stop offset=".4986" stop-color="#42ff8a"/><stop offset=".5086" stop-color="#60ff87"/><stop offset=".5244" stop-color="#81ff83"/><stop offset=".5359" stop-color="#94ff81"/><stop offset=".5675" stop-color="#beff77"/><stop offset=".5977" stop-color="#dfff6d"/><stop offset=".6322" stop-color="#fffe5f"/><stop offset=".6537" stop-color="#ffec4d"/><stop offset=".694" stop-color="#ffd22a"/><stop offset=".7083" stop-color="#ffca18"/><stop offset=".7198" stop-color="#ffc400"/><stop offset=".7787" stop-color="#ffab00"/><stop offset=".8391" stop-color="#ff9700"/><stop offset=".9224" stop-color="#ff8100"/><stop offset="1" stop-color="#ff7100"/></linearGradient>
<linearGradient id="g173" gradientUnits="userSpaceOnUse" x1="340" x2="1736"><stop offset="0" stop-color="#00ffc6"/><stop offset=".2564" stop-color="#00ffb1"/><stop offset=".3954" stop-color="#00ff9f"/><stop offset=".4857" stop-color="#00ff8e"/><stop offset=".4871" stop-color="#13ff8e"/><stop offset=".4885" stop-color="#21ff8d"/><stop offset=".4914" stop-color="#33ff8d"/><stop offset=".4943" stop-color="#40ff8c"/><stop offset=".5057" stop-color="#63ff8a"/><stop offset=".5186" stop-color="#7eff87"/><stop offset=".5344" stop-color="#98ff83"/><stop offset=".563" stop-color="#beff7b"/><stop offset=".5989" stop-color="#e5ff6f"/><stop offset=".6261" stop-color="#ffff64"/><stop offset=".6433" stop-color="#fff056"/><stop offset=".6948" stop-color="#ffce2b"/><stop offset=".712" stop-color="#ffc516"/><stop offset=".7221" stop-color="#ffc100"/><stop offset=".7722" stop-color="#ffab00"/><stop offset=".8424" stop-color="#ff9400"/><stop offset="1" stop-color="#ff6f00"/></linearGradient>
<linearGradient id="g174" gradientUnits="userSpaceOnUse" x1="340" x2="1742"><stop offset="0" stop-color="#00ffc7"/><stop offset=".1555" stop-color="#00ffbc"/><stop offset=".2867" stop-color="#00ffaf"/><stop offset=".4108" stop-color="#00ff9e"/><stop offset=".4822" stop-color="#00ff90"/><stop offset=".4836" stop-color="#16ff90"/><stop offset=".485" stop-color="#23ff90"/><stop offset=".4864" stop-color="#2dff90"/><stop offset=".4907" stop-color="#41ff8f"/><stop offset=".5007" stop-color="#60ff8c"/><stop offset=".5178" stop-color="#84ff88"/><stop offset=".5321" stop-color="#9bff85"/><stop offset=".5592" stop-color="#bfff7d"/><stop offset=".6205" stop-color="#ffff68"/><stop offset=".6733" stop-color="#ffd73f"/><stop offset=".6976" stop-color="#ffca2a"/><stop offset=".7147" stop-color="#ffc115"/><stop offset=".7247" stop-color="#ffbc00"/><stop offset=".7789" stop-color="#ffa600"/><stop offset=".8345" stop-color="#ff9400"/><stop offset=".9187" stop-color="#ff7e00"/><stop offset="1" stop-color="#ff6d00"/></linearGradient>
<linearGradient id="g175" gradientUnits="userSpaceOnUse" x1="341" x2="1749"><stop offset="0" stop-color="#00ffc8"/><stop offset=".2713" stop-color="#00ffb2"/><stop offset=".3878" stop-color="#00ffa3"/><stop offset=".4773" stop-color="#00ff93"/><stop offset=".4801" stop-color="#1fff92"/><stop offset=".4815" stop-color="#2aff92"/><stop offset=".4872" stop-color="#45ff91"/><stop offset=".4972" stop-color="#63ff8f"/><stop offset=".5114" stop-color="#81ff8b"/><stop offset=".5298" stop-color="#9fff87"/><stop offset=".554" stop-color="#bfff81"/><stop offset=".6151" stop-color="#ffff6c"/><stop offset=".6591" stop-color="#ffdc4a"/><stop offset=".6974" stop-color="#ffc62b"/><stop offset=".7173" stop-color="#ffbc13"/><stop offset=".7259" stop-color="#ffb900"/><stop offset=".7685" stop-color="#ffa700"/><stop offset=".8366" stop-color="#ff9100"/><stop offset="1" stop-color="#ff6b00"/></linearGradient>
<linearGradient id="g176" gradientUnits="userSpaceOnUse" x1="342" x2="1754"><stop offset="0" stop-color="#00ffc9"/><stop offset=".2748" stop-color="#00ffb3"/><stop offset=".3909" stop-color="#00ffa4"/><stop offset=".4731" stop-color="#00ff95"/><stop offset=".4745" stop-color="#06ff95"/><stop offset=".4759" stop-color="#1bff95"/><stop offset=".4773" stop-color="#27ff94"/><stop offset=".483" stop-color="#43ff93"/><stop offset=".4929" stop-color="#62ff91"/><stop offset=".5085" stop-color="#83ff8e"/><stop offset=".5283" stop-color="#a3ff89"/><stop offset=".5496" stop-color="#bfff84"/><stop offset=".5864" stop-color="#e8ff78"/><stop offset=".6105" stop-color="#ffff70"/><stop offset=".6303" stop-color="#ffed60"/><stop offset=".6629" stop-color="#ffd648"/><stop offset=".7025" stop-color="#ffc128"/><stop offset=".7195" stop-color="#ffb913"/><stop offset=".728" stop-color="#ffb500"/><stop offset=".7847" stop-color="#ff9f00"/><stop offset=".8399" stop-color="#ff8e00"/><stop offset="1" stop-color="#ff6900"/></linearGradient>
<linearGradient id="g177" gradientUnits="userSpaceOnUse" x1="343" x2="1761"><stop offset="0" stop-color="#00ffca"/><stop offset=".268" stop-color="#00ffb5"/><stop offset=".3935" stop-color="#00ffa5"/><stop offset=".4697" stop-color="#00ff97"/><stop offset=".4711" stop-color="#16ff97"/><stop offset=".4725" stop-color="#23ff97"/><stop offset=".4753" stop-color="#35ff96"/><stop offset=".4795" stop-color="#47ff96"/><stop offset=".488" stop-color="#61ff94"/><stop offset=".5021" stop-color="#80ff91"/><stop offset=".5162" stop-color="#98ff8e"/><stop offset=".5444" stop-color="#bfff86"/><stop offset=".5896" stop-color="#f1ff79"/><stop offset=".6051" stop-color="#fffe73"/><stop offset=".6488" stop-color="#ffdb52"/><stop offset=".7024" stop-color="#ffbd29"/><stop offset=".7221" stop-color="#ffb411"/><stop offset=".7306" stop-color="#ffb100"/><stop offset=".7828" stop-color="#ff9d00"/><stop offset=".8533" stop-color="#f80"/><stop offset="1" stop-color="#ff6700"/></linearGradient>
<linearGradient id="g178" gradientUnits="userSpaceOnUse" x1="344" x2="1766"><stop offset="0" stop-color="#00ffcb"/><stop offset=".1167" stop-color="#00ffc4"/><stop offset=".2714" stop-color="#00ffb6"/><stop offset=".3769" stop-color="#00ffa9"/><stop offset=".4655" stop-color="#00ff9a"/><stop offset=".4684" stop-color="#1fff99"/><stop offset=".4698" stop-color="#2aff99"/><stop offset=".474" stop-color="#40ff98"/><stop offset=".4838" stop-color="#60ff96"/><stop offset=".4951" stop-color="#7aff94"/><stop offset=".5134" stop-color="#9aff90"/><stop offset=".5401" stop-color="#bfff89"/><stop offset=".564" stop-color="#dbff83"/><stop offset=".5992" stop-color="#ffff78"/><stop offset=".6203" stop-color="#ffec67"/><stop offset=".6526" stop-color="#ffd550"/><stop offset=".7032" stop-color="#ffba2a"/><stop offset=".7201" stop-color="#ffb318"/><stop offset=".7328" stop-color="#ffad00"/><stop offset=".8425" stop-color="#ff8900"/><stop offset="1" stop-color="#ff6500"/></linearGradient>
<linearGradient id="g179" gradientUnits="userSpaceOnUse" x1="345" x2="1773"><stop offset="0" stop-color="#00ffcd"/><stop offset=".2843" stop-color="#00ffb6"/><stop offset=".3936" stop-color="#00ffa8"/><stop offset=".4608" stop-color="#00ff9c"/><stop offset=".4622" stop-color="#05ff9c"/><stop offset=".4636" stop-color="#1bff9c"/><stop offset=".465" stop-color="#27ff9c"/><stop offset=".4706" stop-color="#44ff9a"/><stop offset=".479" stop-color="#5fff99"/><stop offset=".493" stop-color="#7fff96"/><stop offset=".5098" stop-color="#9cff92"/><stop offset=".535" stop-color="#bfff8c"/><stop offset=".556" stop-color="#d8ff87"/><stop offset=".5938" stop-color="#ffff7b"/><stop offset=".6106" stop-color="#ffef6d"/><stop offset=".6387" stop-color="#ffda59"/><stop offset=".7031" stop-color="#ffb72b"/><stop offset=".7199" stop-color="#ffb01a"/><stop offset=".7255" stop-color="#ffad12"/><stop offset=".7339" stop-color="#fa0"/><stop offset=".8487" stop-color="#ff8500"/><stop offset="1" stop-color="#ff6300"/></linearGradient>
<linearGradient id="g180" gradientUnits="userSpaceOnUse" x1="347" x2="1779"><stop offset="0" stop-color="#00ffce"/><stop offset=".2779" stop-color="#00ffb8"/><stop offset=".4567" stop-color="#00ff9f"/><stop offset=".4581" stop-color="#0aff9e"/><stop offset=".4595" stop-color="#1dff9e"/><stop offset=".4609" stop-color="#28ff9e"/><stop offset=".4637" stop-color="#39ff9d"/><stop offset=".4665" stop-color="#45ff9d"/><stop offset=".4749" stop-color="#60ff9b"/><stop offset=".4874" stop-color="#7dff99"/><stop offset=".507" stop-color="#9fff94"/><stop offset=".5237" stop-color="#b7ff91"/><stop offset=".5517" stop-color="#d9ff8a"/><stop offset=".588" stop-color="#ffff7f"/><stop offset=".6061" stop-color="#ffee70"/><stop offset=".6341" stop-color="#ffd95c"/><stop offset=".6732" stop-color="#ffc242"/><stop offset=".7053" stop-color="#ffb32a"/><stop offset=".7221" stop-color="#ffac19"/><stop offset=".736" stop-color="#ffa700"/><stop offset=".7793" stop-color="#ff9700"/><stop offset=".852" stop-color="#ff8200"/><stop offset="1" stop-color="#ff6100"/></linearGradient>
<linearGradient id="g181" gradientUnits="userSpaceOnUse" x1="348" x2="1784"><stop offset="0" stop-color="#00ffcf"/><stop offset=".2423" stop-color="#00ffbd"/><stop offset=".3649" stop-color="#00ffaf"/><stop offset=".454" stop-color="#00ffa1"/><stop offset=".4554" stop-color="#18ffa0"/><stop offset=".4568" stop-color="#25ffa0"/><stop offset=".4582" stop-color="#2fffa0"/><stop offset=".4638" stop-color="#49ff9f"/><stop offset=".4749" stop-color="#6aff9d"/><stop offset=".4861" stop-color="#82ff9b"/><stop offset=".5042" stop-color="#a1ff97"/><stop offset=".5265" stop-color="#c0ff92"/><stop offset=".5515" stop-color="#deff8b"/><stop offset=".5836" stop-color="#ffff82"/><stop offset=".6058" stop-color="#ffea70"/><stop offset=".6365" stop-color="#ffd45b"/><stop offset=".7061" stop-color="#ffb02b"/><stop offset=".7228" stop-color="#ffa91b"/><stop offset=".7312" stop-color="#ffa60f"/><stop offset=".7382" stop-color="#ffa300"/><stop offset=".8524" stop-color="#ff8000"/><stop offset="1" stop-color="#ff6000"/></linearGradient>
<linearGradient id="g182" gradientUnits="userSpaceOnUse" x1="349" x2="1791"><stop offset="0" stop-color="#00ffd0"/><stop offset=".2663" stop-color="#00ffbc"/><stop offset=".4494" stop-color="#00ffa3"/><stop offset=".4521" stop-color="#21ffa3"/><stop offset=".4535" stop-color="#2cffa2"/><stop offset=".4591" stop-color="#47ffa1"/><stop offset=".4674" stop-color="#62ffa0"/><stop offset=".4785" stop-color="#7cff9e"/><stop offset=".5021" stop-color="#a5ff99"/><stop offset=".5215" stop-color="#c0ff94"/><stop offset=".5534" stop-color="#e6ff8d"/><stop offset=".5784" stop-color="#fffe85"/><stop offset=".6075" stop-color="#ffe46e"/><stop offset=".6366" stop-color="#ffd05a"/><stop offset=".7046" stop-color="#ffae2d"/><stop offset=".724" stop-color="#ffa61b"/><stop offset=".7406" stop-color="#ffa000"/><stop offset=".8474" stop-color="#ff7f00"/><stop offset="1" stop-color="#ff5e00"/></linearGradient>
<linearGradient id="g183" gradientUnits="userSpaceOnUse" x1="350" x2="1796"><stop offset="0" stop-color="#00ffd1"/><stop offset=".2503" stop-color="#00ffbf"/><stop offset=".3721" stop-color="#00ffb1"/><stop offset=".4454" stop-color="#00ffa5"/><stop offset=".4467" stop-color="#09ffa5"/><stop offset=".4481" stop-color="#1dffa5"/><stop offset=".4495" stop-color="#29ffa5"/><stop offset=".4523" stop-color="#39ffa4"/><stop offset=".4564" stop-color="#4bffa3"/><stop offset=".4633" stop-color="#61ffa2"/><stop offset=".4772" stop-color="#81ffa0"/><stop offset=".4993" stop-color="#a7ff9b"/><stop offset=".5173" stop-color="#c0ff97"/><stop offset=".5436" stop-color="#e0ff91"/><stop offset=".5726" stop-color="#ffff89"/><stop offset=".5961" stop-color="#ffe976"/><stop offset=".6376" stop-color="#ffcc5a"/><stop offset=".675" stop-color="#ffb842"/><stop offset=".7137" stop-color="#ffa827"/><stop offset=".7303" stop-color="#ffa116"/><stop offset=".7427" stop-color="#ff9d00"/><stop offset=".8479" stop-color="#ff7d00"/><stop offset="1" stop-color="#ff5c00"/></linearGradient>
<linearGradient id="g184" gradientUnits="userSpaceOnUse" x1="351" x2="1803"><stop offset="0" stop-color="#00ffd2"/><stop offset=".2438" stop-color="#00ffc1"/><stop offset=".3609" stop-color="#00ffb4"/><stop offset=".4421" stop-color="#00ffa7"/><stop offset=".4435" stop-color="#18ffa7"/><stop offset=".4449" stop-color="#25ffa7"/><stop offset=".4477" stop-color="#37ffa7"/><stop offset=".4504" stop-color="#44ffa6"/><stop offset=".4587" stop-color="#60ffa5"/><stop offset=".4752" stop-color="#86ffa2"/><stop offset=".4972" stop-color="#abff9d"/><stop offset=".5138" stop-color="#c2ff9a"/><stop offset=".5427" stop-color="#e5ff93"/><stop offset=".5675" stop-color="#ffff8c"/><stop offset=".5978" stop-color="#ffe374"/><stop offset=".6281" stop-color="#ffce60"/><stop offset=".6791" stop-color="#ffb340"/><stop offset=".7135" stop-color="#ffa528"/><stop offset=".73" stop-color="#ff9f18"/><stop offset=".7438" stop-color="#ff9a00"/><stop offset=".843" stop-color="#ff7c00"/><stop offset="1" stop-color="#ff5a00"/></linearGradient>
<linearGradient id="g185" gradientUnits="userSpaceOnUse" x1="352" x2="1808"><stop offset="0" stop-color="#00ffd4"/><stop offset=".2582" stop-color="#00ffc1"/><stop offset=".4382" stop-color="#0fa"/><stop offset=".4409" stop-color="#21ffa9"/><stop offset=".4423" stop-color="#2cffa9"/><stop offset=".4478" stop-color="#48ffa8"/><stop offset=".4547" stop-color="#5fffa7"/><stop offset=".4684" stop-color="#80ffa5"/><stop offset=".4849" stop-color="#9effa1"/><stop offset=".5096" stop-color="#c2ff9c"/><stop offset=".5426" stop-color="#eaff95"/><stop offset=".5632" stop-color="#fffe8f"/><stop offset=".5879" stop-color="#ffe77b"/><stop offset=".6277" stop-color="#ffcb60"/><stop offset=".6731" stop-color="#ffb344"/><stop offset=".7115" stop-color="#ffa32b"/><stop offset=".7321" stop-color="#ff9c18"/><stop offset=".7473" stop-color="#ff9600"/><stop offset=".8434" stop-color="#ff7a00"/><stop offset="1" stop-color="#ff5800"/></linearGradient>
<linearGradient id="g186" gradientUnits="userSpaceOnUse" x1="353" x2="1815"><stop offset="0" stop-color="#00ffd5"/><stop offset=".2627" stop-color="#00ffc2"/><stop offset=".4337" stop-color="#00ffac"/><stop offset=".435" stop-color="#08ffac"/><stop offset=".4364" stop-color="#1dffac"/><stop offset=".4378" stop-color="#29ffab"/><stop offset=".4432" stop-color="#46ffab"/><stop offset=".4542" stop-color="#69ffa9"/><stop offset=".4665" stop-color="#85ffa7"/><stop offset=".4815" stop-color="#a0ffa4"/><stop offset=".5048" stop-color="#c2ff9f"/><stop offset=".5568" stop-color="#ffff93"/><stop offset=".5882" stop-color="#ffe27a"/><stop offset=".6334" stop-color="#ffc45c"/><stop offset=".6936" stop-color="#ffa838"/><stop offset=".7223" stop-color="#ff9c23"/><stop offset=".7373" stop-color="#ff9713"/><stop offset=".7483" stop-color="#ff9300"/><stop offset=".8755" stop-color="#ff7000"/><stop offset="1" stop-color="#ff5600"/></linearGradient>
<linearGradient id="g187" gradientUnits="userSpaceOnUse" x1="354" x2="1820"><stop offset="0" stop-color="#00ffd6"/><stop offset=".2674" stop-color="#00ffc3"/><stop offset=".4311" stop-color="#00ffae"/><stop offset=".4325" stop-color="#18ffae"/><stop offset=".4338" stop-color="#25ffae"/><stop offset=".4379" stop-color="#3effad"/><stop offset=".4434" stop-color="#54ffac"/><stop offset=".4584" stop-color="#7cffaa"/><stop offset=".4789" stop-color="#a2ffa6"/><stop offset=".502" stop-color="#c4ffa1"/><stop offset=".5525" stop-color="#ffff96"/><stop offset=".5771" stop-color="#ffe781"/><stop offset=".6262" stop-color="#ffc561"/><stop offset=".6671" stop-color="#ffb048"/><stop offset=".7231" stop-color="#ff9a24"/><stop offset=".7381" stop-color="#ff9515"/><stop offset=".7503" stop-color="#ff9100"/><stop offset=".8472" stop-color="#ff7500"/><stop offset="1" stop-color="#ff5400"/></linearGradient>
<linearGradient id="g188" gradientUnits="userSpaceOnUse" x1="355" x2="1827"><stop offset="0" stop-color="#00ffd7"/><stop offset=".2283" stop-color="#00ffc8"/><stop offset=".3288" stop-color="#00ffbe"/><stop offset=".4266" stop-color="#00ffb0"/><stop offset=".4293" stop-color="#21ffb0"/><stop offset=".4307" stop-color="#2cffb0"/><stop offset=".4361" stop-color="#48ffaf"/><stop offset=".447" stop-color="#6bffad"/><stop offset=".4579" stop-color="#84ffab"/><stop offset=".4755" stop-color="#a4ffa8"/><stop offset=".4973" stop-color="#c4ffa4"/><stop offset=".5312" stop-color="#eeff9d"/><stop offset=".5476" stop-color="#fffe98"/><stop offset=".5788" stop-color="#ffe17f"/><stop offset=".6304" stop-color="#ffbf5e"/><stop offset=".6807" stop-color="#ffa741"/><stop offset=".7228" stop-color="#ff9725"/><stop offset=".7391" stop-color="#ff9215"/><stop offset=".7514" stop-color="#ff8e00"/><stop offset=".8587" stop-color="#ff7000"/><stop offset="1" stop-color="#ff5200"/></linearGradient>
<linearGradient id="g189" gradientUnits="userSpaceOnUse" x1="356" x2="1832"><stop offset="0" stop-color="#00ffd8"/><stop offset=".2222" stop-color="#00ffca"/><stop offset=".4228" stop-color="#00ffb3"/><stop offset=".4241" stop-color="#07ffb3"/><stop offset=".4255" stop-color="#1dffb2"/><stop offset=".4268" stop-color="#29ffb2"/><stop offset=".4295" stop-color="#3affb2"/><stop offset=".4336" stop-color="#4cffb1"/><stop offset=".4431" stop-color="#6affb0"/><stop offset=".4566" stop-color="#89ffad"/><stop offset=".4729" stop-color="#a6ffab"/><stop offset=".4932" stop-color="#c4ffa7"/><stop offset=".542" stop-color="#ffff9c"/><stop offset=".5678" stop-color="#ffe687"/><stop offset=".6016" stop-color="#ffcd6f"/><stop offset=".6287" stop-color="#ffbd5f"/><stop offset=".6748" stop-color="#ffa745"/><stop offset=".7222" stop-color="#ff9527"/><stop offset=".7398" stop-color="#ff8f17"/><stop offset=".7547" stop-color="#ff8b00"/><stop offset=".855" stop-color="#ff6f00"/><stop offset="1" stop-color="#ff5000"/></linearGradient>
<linearGradient id="g190" gradientUnits="userSpaceOnUse" x1="357" x2="1839"><stop offset="0" stop-color="#00ffda"/><stop offset=".2497" stop-color="#00ffc9"/><stop offset=".4197" stop-color="#00ffb5"/><stop offset=".4211" stop-color="#17ffb5"/><stop offset=".4224" stop-color="#25ffb4"/><stop offset=".4278" stop-color="#45ffb4"/><stop offset=".4386" stop-color="#69ffb2"/><stop offset=".4494" stop-color="#83ffb0"/><stop offset=".4696" stop-color="#a8ffad"/><stop offset=".4885" stop-color="#c4ffa9"/><stop offset=".5371" stop-color="#ffff9f"/><stop offset=".5682" stop-color="#ffe185"/><stop offset=".6262" stop-color="#ffbb60"/><stop offset=".7072" stop-color="#ff9832"/><stop offset=".7382" stop-color="#ff8d1a"/><stop offset=".7557" stop-color="#f80"/><stop offset=".8502" stop-color="#ff6e00"/><stop offset="1" stop-color="#ff4e00"/></linearGradient>
<linearGradient id="g191" gradientUnits="userSpaceOnUse" x1="358" x2="1844"><stop offset="0" stop-color="#00ffdb"/><stop offset=".2207" stop-color="#00ffcd"/><stop offset=".4159" stop-color="#00ffb7"/><stop offset=".4186" stop-color="#21ffb7"/><stop offset=".4199" stop-color="#2cffb7"/><stop offset=".4253" stop-color="#49ffb6"/><stop offset=".4361" stop-color="#6cffb4"/><stop offset=".4482" stop-color="#88ffb2"/><stop offset=".467" stop-color="#aaffaf"/><stop offset=".4859" stop-color="#c6ffac"/><stop offset=".5114" stop-color="#e7ffa7"/><stop offset=".533" stop-color="#fffea2"/><stop offset=".5585" stop-color="#ffe58c"/><stop offset=".5935" stop-color="#ffcb74"/><stop offset=".6245" stop-color="#ffb961"/><stop offset=".6716" stop-color="#ffa347"/><stop offset=".7133" stop-color="#ff942f"/><stop offset=".7402" stop-color="#ff8b1a"/><stop offset=".7577" stop-color="#ff8500"/><stop offset=".8466" stop-color="#ff6d00"/><stop offset="1" stop-color="#ff4c00"/></linearGradient>
<linearGradient id="g192" gradientUnits="userSpaceOnUse" x1="360" x2="1850"><stop offset="0" stop-color="#00ffdc"/><stop offset=".2376" stop-color="#00ffcd"/><stop offset=".4121" stop-color="#00ffb9"/><stop offset=".4134" stop-color="#14ffb9"/><stop offset=".4161" stop-color="#2effb9"/><stop offset=".4215" stop-color="#4affb8"/><stop offset=".4322" stop-color="#6dffb6"/><stop offset=".443" stop-color="#86ffb5"/><stop offset=".4644" stop-color="#adffb1"/><stop offset=".4819" stop-color="#c7ffae"/><stop offset=".5275" stop-color="#ffffa5"/><stop offset=".5463" stop-color="#ffeb94"/><stop offset=".5678" stop-color="#ffd984"/><stop offset=".6201" stop-color="#ffb863"/><stop offset=".6698" stop-color="#ffa148"/><stop offset=".7262" stop-color="#ff8d27"/><stop offset=".749" stop-color="#ff8612"/><stop offset=".7597" stop-color="#ff8200"/><stop offset=".8591" stop-color="#ff6800"/><stop offset="1" stop-color="#ff4a00"/></linearGradient>
<linearGradient id="g193" gradientUnits="userSpaceOnUse" x1="361" x2="1857"><stop offset="0" stop-color="#0fd"/><stop offset=".2313" stop-color="#00ffcf"/><stop offset=".4078" stop-color="#00ffbc"/><stop offset=".4091" stop-color="#0bffbb"/><stop offset=".4104" stop-color="#1fffbb"/><stop offset=".4118" stop-color="#2bffbb"/><stop offset=".4184" stop-color="#4effba"/><stop offset=".4278" stop-color="#6cffb9"/><stop offset=".4412" stop-color="#8bffb7"/><stop offset=".4545" stop-color="#a4ffb4"/><stop offset=".4773" stop-color="#c7ffb1"/><stop offset=".504" stop-color="#eaffac"/><stop offset=".5227" stop-color="#fffea7"/><stop offset=".5521" stop-color="#ffe18e"/><stop offset=".5789" stop-color="#ffcd7b"/><stop offset=".6176" stop-color="#ffb664"/><stop offset=".6604" stop-color="#ffa24d"/><stop offset=".7166" stop-color="#ff8e2e"/><stop offset=".7447" stop-color="#ff8518"/><stop offset=".7607" stop-color="#ff8000"/><stop offset=".8543" stop-color="#ff6700"/><stop offset="1" stop-color="#ff4800"/></linearGradient>
<linearGradient id="g194" gradientUnits="userSpaceOnUse" x1="362" x2="1864"><stop offset="0" stop-color="#00ffdf"/><stop offset=".225" stop-color="#00ffd1"/><stop offset=".4048" stop-color="#00ffbe"/><stop offset=".4061" stop-color="#1affbd"/><stop offset=".4075" stop-color="#27ffbd"/><stop offset=".4115" stop-color="#40ffbd"/><stop offset=".4181" stop-color="#5bffbc"/><stop offset=".4301" stop-color="#7cfeba"/><stop offset=".4394" stop-color="#90feb9"/><stop offset=".4581" stop-color="#b1feb6"/><stop offset=".4874" stop-color="#dbffb1"/><stop offset=".5166" stop-color="#ffffab"/><stop offset=".5539" stop-color="#ffdb8c"/><stop offset=".5806" stop-color="#ffc879"/><stop offset=".6152" stop-color="#ffb465"/><stop offset=".6658" stop-color="#ff9d4a"/><stop offset=".7204" stop-color="#ff8a2c"/><stop offset=".747" stop-color="#ff8217"/><stop offset=".763" stop-color="#ff7d00"/><stop offset=".8708" stop-color="#ff6100"/><stop offset="1" stop-color="#ff4600"/></linearGradient>
<linearGradient id="g195" gradientUnits="userSpaceOnUse" x1="363" x2="1869"><stop offset="0" stop-color="#00ffe0"/><stop offset=".2311" stop-color="#00ffd2"/><stop offset=".4011" stop-color="#00ffc0"/><stop offset=".4024" stop-color="#14ffc0"/><stop offset=".4037" stop-color="#23ffbf"/><stop offset=".4064" stop-color="#37febf"/><stop offset=".409" stop-color="#45febf"/><stop offset=".4157" stop-color="#5efebe"/><stop offset=".425" stop-color="#78febc"/><stop offset=".4369" stop-color="#92febb"/><stop offset=".4568" stop-color="#b5feb8"/><stop offset=".4781" stop-color="#d4feb4"/><stop offset=".5126" stop-color="#fffeae"/><stop offset=".5418" stop-color="#ffe194"/><stop offset=".5724" stop-color="#ffca7e"/><stop offset=".6135" stop-color="#ffb266"/><stop offset=".6574" stop-color="#ff9e4f"/><stop offset=".7238" stop-color="#ff872b"/><stop offset=".749" stop-color="#ff7f17"/><stop offset=".7649" stop-color="#ff7a00"/><stop offset=".8499" stop-color="#ff6400"/><stop offset="1" stop-color="#ff4300"/></linearGradient>
<linearGradient id="g196" gradientUnits="userSpaceOnUse" x1="364" x2="1876"><stop offset="0" stop-color="#00ffe1"/><stop offset=".2249" stop-color="#00ffd4"/><stop offset=".3968" stop-color="#00fec2"/><stop offset=".3981" stop-color="#0bfec2"/><stop offset=".3995" stop-color="#1ffec2"/><stop offset=".4008" stop-color="#2bfec1"/><stop offset=".4048" stop-color="#43fec1"/><stop offset=".4114" stop-color="#5dfec0"/><stop offset=".4193" stop-color="#74febf"/><stop offset=".4352" stop-color="#97febd"/><stop offset=".4537" stop-color="#b7feba"/><stop offset=".4802" stop-color="#ddfeb6"/><stop offset=".5079" stop-color="#fffeb0"/><stop offset=".5423" stop-color="#ffdc92"/><stop offset=".5728" stop-color="#ffc67d"/><stop offset=".6111" stop-color="#ffb067"/><stop offset=".6481" stop-color="#ff9f54"/><stop offset=".7275" stop-color="#ff8329"/><stop offset=".754" stop-color="#ff7b13"/><stop offset=".7659" stop-color="#ff7800"/><stop offset=".8492" stop-color="#ff6200"/><stop offset="1" stop-color="#ff4100"/></linearGradient>
<linearGradient id="g197" gradientUnits="userSpaceOnUse" x1="365" x2="1881"><stop offset="0" stop-color="#00ffe2"/><stop offset=".2322" stop-color="#00ffd5"/><stop offset=".3945" stop-color="#00fec4"/><stop offset=".3958" stop-color="#1afec4"/><stop offset=".3984" stop-color="#31fec4"/><stop offset=".4011" stop-color="#41fec3"/><stop offset=".409" stop-color="#60fec2"/><stop offset=".4182" stop-color="#7afec1"/><stop offset=".4354" stop-color="#9efebe"/><stop offset=".4538" stop-color="#bdfebc"/><stop offset=".4868" stop-color="#ebfeb6"/><stop offset=".504" stop-color="#fffdb3"/><stop offset=".5317" stop-color="#ffe19a"/><stop offset=".566" stop-color="#ffc781"/><stop offset=".5963" stop-color="#ffb56f"/><stop offset=".6544" stop-color="#ff9a51"/><stop offset=".7309" stop-color="#ff8028"/><stop offset=".7533" stop-color="#ff7916"/><stop offset=".7691" stop-color="#ff7500"/><stop offset=".8456" stop-color="#ff6100"/><stop offset="1" stop-color="#ff3f00"/></linearGradient>
<linearGradient id="g198" gradientUnits="userSpaceOnUse" x1="366" x2="1888"><stop offset="0" stop-color="#00ffe4"/><stop offset=".2392" stop-color="#00ffd6"/><stop offset=".3903" stop-color="#00fec6"/><stop offset=".3929" stop-color="#23fec6"/><stop offset=".3968" stop-color="#3ffec5"/><stop offset=".4047" stop-color="#5ffec4"/><stop offset=".4139" stop-color="#79fec3"/><stop offset=".4271" stop-color="#96fec1"/><stop offset=".4415" stop-color="#b0febf"/><stop offset=".4665" stop-color="#d6febb"/><stop offset=".498" stop-color="#fefeb6"/><stop offset=".5309" stop-color="#fd9"/><stop offset=".5519" stop-color="#ffcd89"/><stop offset=".59" stop-color="#ffb572"/><stop offset=".6452" stop-color="#ff9b55"/><stop offset=".7254" stop-color="#ff7f2c"/><stop offset=".7543" stop-color="#ff7716"/><stop offset=".77" stop-color="#ff7200"/><stop offset="1" stop-color="#ff3d00"/></linearGradient>
<linearGradient id="g199" gradientUnits="userSpaceOnUse" x1="368" x2="1894"><stop offset="0" stop-color="#00ffe5"/><stop offset=".2333" stop-color="#00ffd8"/><stop offset=".3866" stop-color="#00fec8"/><stop offset=".3879" stop-color="#16fec8"/><stop offset=".3893" stop-color="#25fec8"/><stop offset=".3932" stop-color="#40fec7"/><stop offset=".401" stop-color="#60fec6"/><stop offset=".4102" stop-color="#7afec5"/><stop offset=".4194" stop-color="#8ffec4"/><stop offset=".4377" stop-color="#b1fdc1"/><stop offset=".4613" stop-color="#d5febe"/><stop offset=".4928" stop-color="#fefeb9"/><stop offset=".5256" stop-color="#ffdd9b"/><stop offset=".5531" stop-color="#ffc888"/><stop offset=".5858" stop-color="#ffb474"/><stop offset=".6435" stop-color="#ff9956"/><stop offset=".7326" stop-color="#ff7b28"/><stop offset=".7549" stop-color="#ff7417"/><stop offset=".772" stop-color="#ff7000"/><stop offset="1" stop-color="#ff3a00"/></linearGradient>
<linearGradient id="g200" gradientUnits="userSpaceOnUse" x1="369" x2="1899"><stop offset="0" stop-color="#00ffe6"/><stop offset=".2275" stop-color="#00ffda"/><stop offset=".383" stop-color="#00fecb"/><stop offset=".3856" stop-color="#21feca"/><stop offset=".3869" stop-color="#2dfeca"/><stop offset=".3895" stop-color="#3efeca"/><stop offset=".3961" stop-color="#5afec9"/><stop offset=".4052" stop-color="#76fdc8"/><stop offset=".4209" stop-color="#99fdc5"/><stop offset=".4366" stop-color="#b5fdc3"/><stop offset=".4654" stop-color="#e0febf"/><stop offset=".4889" stop-color="#fefebc"/><stop offset=".5098" stop-color="#ffe7a7"/><stop offset=".5438" stop-color="#ffcb8d"/><stop offset=".6039" stop-color="#ffa86a"/><stop offset=".6745" stop-color="#ff8b47"/><stop offset=".7359" stop-color="#ff7827"/><stop offset=".7608" stop-color="#ff7113"/><stop offset=".7739" stop-color="#ff6d00"/><stop offset="1" stop-color="#ff3800"/></linearGradient>
<linearGradient id="g201" gradientUnits="userSpaceOnUse" x1="370" x2="1906"><stop offset="0" stop-color="#00ffe8"/><stop offset=".2357" stop-color="#00ffdb"/><stop offset=".3789" stop-color="#00fecd"/><stop offset=".3802" stop-color="#03fecd"/><stop offset=".3815" stop-color="#1cfecc"/><stop offset=".3828" stop-color="#29fecc"/><stop offset=".388" stop-color="#49fecb"/><stop offset=".3945" stop-color="#62fdcb"/><stop offset=".4049" stop-color="#7ffdc9"/><stop offset=".4154" stop-color="#96fdc8"/><stop offset=".4349" stop-color="#b9fdc5"/><stop offset=".4609" stop-color="#e0fdc2"/><stop offset=".4844" stop-color="#fefdbe"/><stop offset=".5065" stop-color="#fee5a8"/><stop offset=".5469" stop-color="#ffc58a"/><stop offset=".5977" stop-color="#ffa86d"/><stop offset=".6562" stop-color="#ff8f50"/><stop offset=".7383" stop-color="#ff7526"/><stop offset=".7591" stop-color="#ff6f16"/><stop offset=".7747" stop-color="#ff6b00"/><stop offset="1" stop-color="#ff3500"/></linearGradient>
<linearGradient id="g202" gradientUnits="userSpaceOnUse" x1="371" x2="1911"><stop offset="0" stop-color="#00ffe9"/><stop offset=".2156" stop-color="#00ffde"/><stop offset=".3766" stop-color="#00fecf"/><stop offset=".3779" stop-color="#16fecf"/><stop offset=".3792" stop-color="#26fece"/><stop offset=".3818" stop-color="#39fdce"/><stop offset=".3844" stop-color="#47fdce"/><stop offset=".3922" stop-color="#65fdcd"/><stop offset=".4" stop-color="#7bfdcb"/><stop offset=".413" stop-color="#98fdca"/><stop offset=".4338" stop-color="#bdfcc7"/><stop offset=".4571" stop-color="#e0fdc4"/><stop offset=".4805" stop-color="#fefcc0"/><stop offset=".5052" stop-color="#fee2a8"/><stop offset=".539" stop-color="#ffc78f"/><stop offset=".5961" stop-color="#ffa66d"/><stop offset=".661" stop-color="#ff8b4e"/><stop offset=".7338" stop-color="#ff742a"/><stop offset=".761" stop-color="#ff6c16"/><stop offset=".7779" stop-color="#ff6800"/><stop offset="1" stop-color="#f30"/></linearGradient>
<linearGradient id="g203" gradientUnits="userSpaceOnUse" x1="372" x2="1918"><stop offset="0" stop-color="#00ffea"/><stop offset=".2251" stop-color="#00ffdf"/><stop offset=".3726" stop-color="#00fed1"/><stop offset=".3739" stop-color="#0efdd1"/><stop offset=".3752" stop-color="#21fdd1"/><stop offset=".3765" stop-color="#2dfdd0"/><stop offset=".3803" stop-color="#45fdd0"/><stop offset=".3881" stop-color="#64fdcf"/><stop offset=".3959" stop-color="#7afdce"/><stop offset=".4101" stop-color="#9afccc"/><stop offset=".4243" stop-color="#b4fcca"/><stop offset=".4515" stop-color="#defcc7"/><stop offset=".4748" stop-color="#fdfdc4"/><stop offset=".4955" stop-color="#fee6af"/><stop offset=".5291" stop-color="#ffca94"/><stop offset=".5899" stop-color="#ffa670"/><stop offset=".6624" stop-color="#ff884d"/><stop offset=".7361" stop-color="#ff7129"/><stop offset=".7633" stop-color="#ff6a15"/><stop offset=".7788" stop-color="#f60"/><stop offset="1" stop-color="#ff3000"/></linearGradient>
<linearGradient id="g204" gradientUnits="userSpaceOnUse" x1="374" x2="1924"><stop offset="0" stop-color="#00ffec"/><stop offset=".2194" stop-color="#00ffe1"/><stop offset=".369" stop-color="#00fdd3"/><stop offset=".3716" stop-color="#23fdd3"/><stop offset=".3729" stop-color="#2ffdd2"/><stop offset=".3768" stop-color="#46fdd2"/><stop offset=".3819" stop-color="#5cfdd1"/><stop offset=".3923" stop-color="#7bfcd0"/><stop offset=".4026" stop-color="#93fcce"/><stop offset=".4219" stop-color="#b7fbcc"/><stop offset=".4465" stop-color="#ddfcc9"/><stop offset=".4697" stop-color="#fdfdc6"/><stop offset=".4955" stop-color="#fee1ad"/><stop offset=".5277" stop-color="#ffc794"/><stop offset=".5858" stop-color="#ffa572"/><stop offset=".6555" stop-color="#ff8851"/><stop offset=".7355" stop-color="#ff6f2a"/><stop offset=".7613" stop-color="#ff6818"/><stop offset=".7806" stop-color="#ff6300"/><stop offset="1" stop-color="#ff2d00"/></linearGradient>
<linearGradient id="g205" gradientUnits="userSpaceOnUse" x1="375" x2="1929"><stop offset="0" stop-color="#00ffed"/><stop offset=".2445" stop-color="#00ffe1"/><stop offset=".3655" stop-color="#00fdd5"/><stop offset=".3668" stop-color="#08fdd5"/><stop offset=".3681" stop-color="#1ffdd5"/><stop offset=".3694" stop-color="#2bfdd5"/><stop offset=".3732" stop-color="#44fdd4"/><stop offset=".3797" stop-color="#5ffcd3"/><stop offset=".3925" stop-color="#84fcd1"/><stop offset=".4208" stop-color="#bbfbcd"/><stop offset=".4569" stop-color="#f1fcca"/><stop offset=".4659" stop-color="#fcfcc8"/><stop offset=".4685" stop-color="#fdf9c6"/><stop offset=".4929" stop-color="#fedfae"/><stop offset=".5187" stop-color="#ffca9a"/><stop offset=".5804" stop-color="#ffa574"/><stop offset=".6577" stop-color="#ff8550"/><stop offset=".7336" stop-color="#ff6e2c"/><stop offset=".7645" stop-color="#ff6517"/><stop offset=".7825" stop-color="#ff6000"/><stop offset="1" stop-color="#ff2a00"/></linearGradient>
<linearGradient id="g206" gradientUnits="userSpaceOnUse" x1="376" x2="1936"><stop offset="0" stop-color="#0fe"/><stop offset=".2244" stop-color="#00ffe4"/><stop offset=".3628" stop-color="#00fdd7"/><stop offset=".3641" stop-color="#19fdd7"/><stop offset=".3654" stop-color="#28fdd7"/><stop offset=".3679" stop-color="#3bfdd6"/><stop offset=".3705" stop-color="#49fdd6"/><stop offset=".3756" stop-color="#5efcd5"/><stop offset=".3872" stop-color="#80fcd4"/><stop offset=".4077" stop-color="#abfbd1"/><stop offset=".4218" stop-color="#c3facf"/><stop offset=".4615" stop-color="#fcfbca"/><stop offset=".4897" stop-color="#feddaf"/><stop offset=".5231" stop-color="#ffc395"/><stop offset=".5782" stop-color="#ffa375"/><stop offset=".6449" stop-color="#ff8755"/><stop offset=".7359" stop-color="#ff6b2b"/><stop offset=".7667" stop-color="#ff6216"/><stop offset=".7833" stop-color="#ff5e00"/><stop offset="1" stop-color="#ff2700"/></linearGradient>
<linearGradient id="g207" gradientUnits="userSpaceOnUse" x1="377" x2="1941"><stop offset="0" stop-color="#00fff0"/><stop offset=".2353" stop-color="#00ffe5"/><stop offset=".3593" stop-color="#00fdd9"/><stop offset=".3619" stop-color="#23fdd9"/><stop offset=".3632" stop-color="#2ffdd9"/><stop offset=".367" stop-color="#47fcd8"/><stop offset=".3734" stop-color="#61fcd7"/><stop offset=".3824" stop-color="#7cfbd6"/><stop offset=".3926" stop-color="#94fbd4"/><stop offset=".4118" stop-color="#b8fad2"/><stop offset=".454" stop-color="#f8fbce"/><stop offset=".4604" stop-color="#fcf7c9"/><stop offset=".4872" stop-color="#fddbaf"/><stop offset=".5166" stop-color="#ffc499"/><stop offset=".5831" stop-color="#ff9e72"/><stop offset=".6586" stop-color="#ff8050"/><stop offset=".743" stop-color="#ff6728"/><stop offset=".7685" stop-color="#ff6016"/><stop offset=".7864" stop-color="#ff5b00"/><stop offset="1" stop-color="#ff2400"/></linearGradient>
<linearGradient id="g208" gradientUnits="userSpaceOnUse" x1="379" x2="1947"><stop offset="0" stop-color="#00fff1"/><stop offset=".2474" stop-color="#00ffe6"/><stop offset=".3559" stop-color="#00fddb"/><stop offset=".3584" stop-color="#26fddb"/><stop offset=".361" stop-color="#3afcdb"/><stop offset=".3635" stop-color="#48fcda"/><stop offset=".3699" stop-color="#62fcd9"/><stop offset=".3801" stop-color="#80fbd8"/><stop offset=".3916" stop-color="#9afad6"/><stop offset=".4107" stop-color="#bdf9d3"/><stop offset=".4528" stop-color="#fbfacf"/><stop offset=".4681" stop-color="#fce8bf"/><stop offset=".4974" stop-color="#fecea6"/><stop offset=".5281" stop-color="#ffb990"/><stop offset=".5791" stop-color="#ff9d74"/><stop offset=".6543" stop-color="#ff7f51"/><stop offset=".7423" stop-color="#ff6529"/><stop offset=".7742" stop-color="#ff5c12"/><stop offset=".787" stop-color="#ff5900"/><stop offset=".9426" stop-color="#ff3200"/><stop offset="1" stop-color="#ff2000"/></linearGradient>
<linearGradient id="g209" gradientUnits="userSpaceOnUse" x1="380" x2="1954"><stop offset="0" stop-color="#00fff2"/><stop offset=".2262" stop-color="#00ffe9"/><stop offset=".352" stop-color="#00fdde"/><stop offset=".3532" stop-color="#0cfcdd"/><stop offset=".3545" stop-color="#21fcdd"/><stop offset=".3558" stop-color="#2dfcdd"/><stop offset=".3596" stop-color="#46fcdc"/><stop offset=".3659" stop-color="#61fbdb"/><stop offset=".3748" stop-color="#7cfbda"/><stop offset=".3888" stop-color="#9cf9d8"/><stop offset=".4028" stop-color="#b6f9d6"/><stop offset=".4473" stop-color="#fafad2"/><stop offset=".4752" stop-color="#fcdcb6"/><stop offset=".5083" stop-color="#fec29c"/><stop offset=".5667" stop-color="#ffa07a"/><stop offset=".6442" stop-color="#ff8056"/><stop offset=".7357" stop-color="#ff642d"/><stop offset=".7687" stop-color="#ff5b18"/><stop offset=".7891" stop-color="#ff5600"/><stop offset=".939" stop-color="#ff3000"/><stop offset="1" stop-color="#ff1c00"/></linearGradient>
<linearGradient id="g210" gradientUnits="userSpaceOnUse" x1="381" x2="1959"><stop offset="0" stop-color="#00fff4"/><stop offset=".2573" stop-color="#00ffe9"/><stop offset=".3498" stop-color="#00fce0"/><stop offset=".3511" stop-color="#1cfcdf"/><stop offset=".3523" stop-color="#2afcdf"/><stop offset=".3561" stop-color="#44fcdf"/><stop offset=".3638" stop-color="#64fbdd"/><stop offset=".3752" stop-color="#85fadb"/><stop offset=".384" stop-color="#99f9da"/><stop offset=".4018" stop-color="#baf8d7"/><stop offset=".4373" stop-color="#f1f9d4"/><stop offset=".4436" stop-color="#f9f9d4"/><stop offset=".4461" stop-color="#faf6d1"/><stop offset=".4715" stop-color="#fcdbb8"/><stop offset=".5019" stop-color="#fec3a0"/><stop offset=".5425" stop-color="#ffaa86"/><stop offset=".5716" stop-color="#ff9b77"/><stop offset=".6439" stop-color="#ff7e56"/><stop offset=".7465" stop-color="#ff5f28"/><stop offset=".7719" stop-color="#ff5817"/><stop offset=".7909" stop-color="#ff5400"/><stop offset=".9328" stop-color="#ff2f00"/><stop offset="1" stop-color="#ff1700"/></linearGradient>
<linearGradient id="g211" gradientUnits="userSpaceOnUse" x1="382" x2="1966"><stop offset="0" stop-color="#00fff5"/><stop offset=".2184" stop-color="#00ffed"/><stop offset=".3068" stop-color="#00ffe7"/><stop offset=".346" stop-color="#00fce2"/><stop offset=".3485" stop-color="#26fce2"/><stop offset=".3523" stop-color="#42fce1"/><stop offset=".3598" stop-color="#63fbe0"/><stop offset=".3662" stop-color="#77fade"/><stop offset=".3775" stop-color="#93f9dc"/><stop offset=".3939" stop-color="#b3f8da"/><stop offset=".4179" stop-color="#daf7d7"/><stop offset=".4394" stop-color="#f9f7d5"/><stop offset=".4672" stop-color="#fbdab9"/><stop offset=".4949" stop-color="#fec4a3"/><stop offset=".524" stop-color="#ffb190"/><stop offset=".572" stop-color="#ff9876"/><stop offset=".654" stop-color="#ff7852"/><stop offset=".7525" stop-color="#ff5b25"/><stop offset=".774" stop-color="#ff5616"/><stop offset=".7917" stop-color="#ff5100"/><stop offset=".9419" stop-color="#ff2900"/><stop offset=".9811" stop-color="#ff1b00"/><stop offset="1" stop-color="#f10"/></linearGradient>
<linearGradient id="g212" gradientUnits="userSpaceOnUse" x1="384" x2="1972"><stop offset="0" stop-color="#00fff7"/><stop offset=".233" stop-color="#0fe"/><stop offset=".3426" stop-color="#00fce4"/><stop offset=".3438" stop-color="#18fce4"/><stop offset=".3451" stop-color="#28fce4"/><stop offset=".3476" stop-color="#3cfce3"/><stop offset=".3501" stop-color="#4afbe3"/><stop offset=".3564" stop-color="#64fbe2"/><stop offset=".3665" stop-color="#82f9e0"/><stop offset=".3766" stop-color="#99f8de"/><stop offset=".3929" stop-color="#b8f7db"/><stop offset=".4345" stop-color="#f8f7d8"/><stop offset=".4509" stop-color="#fae4c6"/><stop offset=".4811" stop-color="#fdcaac"/><stop offset=".5126" stop-color="#feb596"/><stop offset=".5592" stop-color="#ff9b7c"/><stop offset=".6411" stop-color="#ff7a57"/><stop offset=".7368" stop-color="#ff5d2e"/><stop offset=".7632" stop-color="#ff561f"/><stop offset=".7796" stop-color="#ff5212"/><stop offset=".7935" stop-color="#ff4e00"/><stop offset=".9408" stop-color="#ff2600"/><stop offset=".9748" stop-color="#ff1900"/><stop offset="1" stop-color="#ff0a00"/></linearGradient>
<linearGradient id="g213" gradientUnits="userSpaceOnUse" x1="385" x2="1977"><stop offset="0" stop-color="#00fff8"/><stop offset=".2299" stop-color="#00fff0"/><stop offset=".3065" stop-color="#00feeb"/><stop offset=".3392" stop-color="#00fce6"/><stop offset=".3417" stop-color="#23fce6"/><stop offset=".3455" stop-color="#41fbe5"/><stop offset=".353" stop-color="#63fbe4"/><stop offset=".3618" stop-color="#7ef9e2"/><stop offset=".3719" stop-color="#96f8e0"/><stop offset=".3857" stop-color="#b1f7de"/><stop offset=".4146" stop-color="#e0f6db"/><stop offset=".4309" stop-color="#f7f6d9"/><stop offset=".4523" stop-color="#f9dec2"/><stop offset=".4899" stop-color="#fdc0a5"/><stop offset=".5302" stop-color="#ffa88b"/><stop offset=".5666" stop-color="#ff9578"/><stop offset=".6319" stop-color="#ff7b5b"/><stop offset=".7362" stop-color="#ff5b2f"/><stop offset=".7701" stop-color="#ff521b"/><stop offset=".7827" stop-color="#ff4f11"/><stop offset=".7952" stop-color="#ff4c00"/><stop offset=".9422" stop-color="#f20"/><stop offset=".9799" stop-color="#f10"/><stop offset="1" stop-color="#ff0200"/></linearGradient>
<linearGradient id="g214" gradientUnits="userSpaceOnUse" x1="386" x2="1984"><stop offset="0" stop-color="#00fffa"/><stop offset=".2466" stop-color="#00fff1"/><stop offset=".3354" stop-color="#00fce9"/><stop offset=".3367" stop-color="#04fce9"/><stop offset=".3379" stop-color="#1efce8"/><stop offset=".3392" stop-color="#2cfce8"/><stop offset=".3429" stop-color="#46fbe7"/><stop offset=".3479" stop-color="#5dfbe7"/><stop offset=".3579" stop-color="#7df9e5"/><stop offset=".3655" stop-color="#90f8e3"/><stop offset=".383" stop-color="#b3f6e0"/><stop offset=".4255" stop-color="#f6f6dc"/><stop offset=".4406" stop-color="#f8e4cb"/><stop offset=".4718" stop-color="#fcc9b0"/><stop offset=".5131" stop-color="#ffae94"/><stop offset=".5582" stop-color="#ff967c"/><stop offset=".6421" stop-color="#ff7557"/><stop offset=".7409" stop-color="#ff582d"/><stop offset=".7772" stop-color="#ff4e16"/><stop offset=".7847" stop-color="#ff4c10"/><stop offset=".7972" stop-color="#ff4900"/><stop offset=".9312" stop-color="#f20"/><stop offset=".965" stop-color="#ff1300"/><stop offset=".99" stop-color="#f00"/><stop offset="1" stop-color="#f00"/></linearGradient>
<linearGradient id="g215" gradientUnits="userSpaceOnUse" x1="388" x2="1990"><stop offset="0" stop-color="#00fffb"/><stop offset=".2447" stop-color="#00fff3"/><stop offset=".3321" stop-color="#00fceb"/><stop offset=".3333" stop-color="#0afceb"/><stop offset=".3346" stop-color="#21fceb"/><stop offset=".3358" stop-color="#2efcea"/><stop offset=".3383" stop-color="#40fbea"/><stop offset=".3408" stop-color="#4efbe9"/><stop offset=".3458" stop-color="#63fae9"/><stop offset=".3546" stop-color="#7ef9e7"/><stop offset=".3658" stop-color="#99f7e4"/><stop offset=".3808" stop-color="#b6f5e2"/><stop offset=".4207" stop-color="#f5f5de"/><stop offset=".4432" stop-color="#f8dcc6"/><stop offset=".4744" stop-color="#fcc3ad"/><stop offset=".5019" stop-color="#feb19a"/><stop offset=".5543" stop-color="#ff957d"/><stop offset=".638" stop-color="#ff7458"/><stop offset=".7478" stop-color="#ff542a"/><stop offset=".784" stop-color="#ff4a12"/><stop offset=".799" stop-color="#ff4600"/><stop offset=".9151" stop-color="#ff2400"/><stop offset=".9576" stop-color="#f10"/><stop offset=".9788" stop-color="#f00"/><stop offset="1" stop-color="#f00"/></linearGradient>
<linearGradient id="g216" gradientUnits="userSpaceOnUse" x1="389" x2="1995"><stop offset="0" stop-color="#00fffd"/><stop offset=".2441" stop-color="#00fff5"/><stop offset=".33" stop-color="#00fced"/><stop offset=".3313" stop-color="#1bfced"/><stop offset=".3325" stop-color="#2afced"/><stop offset=".335" stop-color="#3efbec"/><stop offset=".3412" stop-color="#5dfaeb"/><stop offset=".3524" stop-color="#81f9e9"/><stop offset=".3649" stop-color="#9ef7e6"/><stop offset=".3786" stop-color="#b8f5e4"/><stop offset=".4159" stop-color="#f3f4e0"/><stop offset=".4197" stop-color="#f5f1dd"/><stop offset=".4384" stop-color="#f7dcc9"/><stop offset=".4707" stop-color="#fcc2ae"/><stop offset=".5156" stop-color="#ffa692"/><stop offset=".5616" stop-color="#ff8f79"/><stop offset=".6463" stop-color="#ff6f55"/><stop offset=".7472" stop-color="#ff522b"/><stop offset=".7821" stop-color="#ff4815"/><stop offset=".8007" stop-color="#ff4300"/><stop offset=".9029" stop-color="#ff2500"/><stop offset=".944" stop-color="#ff1300"/><stop offset=".9689" stop-color="#f00"/><stop offset="1" stop-color="#f00"/></linearGradient>
<linearGradient id="g217" gradientUnits="userSpaceOnUse" x1="390" x2="2002"><stop offset="0" stop-color="#00fffe"/><stop offset=".2432" stop-color="#00fff7"/><stop offset=".3263" stop-color="#00fcf0"/><stop offset=".3288" stop-color="#26fcef"/><stop offset=".33" stop-color="#32fcef"/><stop offset=".3325" stop-color="#43fbef"/><stop offset=".34" stop-color="#65faed"/><stop offset=".3474" stop-color="#7df9ec"/><stop offset=".3598" stop-color="#9bf7e9"/><stop offset=".3759" stop-color="#baf4e6"/><stop offset=".4132" stop-color="#f4f3e1"/><stop offset=".4318" stop-color="#f6ddcc"/><stop offset=".4665" stop-color="#fbc1b0"/><stop offset=".5124" stop-color="#ffa592"/><stop offset=".5447" stop-color="#ff9481"/><stop offset=".639" stop-color="#ff6f58"/><stop offset=".7519" stop-color="#ff4e29"/><stop offset=".7891" stop-color="#ff4410"/><stop offset=".8015" stop-color="#ff4000"/><stop offset=".8685" stop-color="#ff2d00"/><stop offset=".9169" stop-color="#ff1b00"/><stop offset=".9404" stop-color="#ff0e00"/><stop offset=".9566" stop-color="#f00"/><stop offset="1" stop-color="#f00"/></linearGradient>
<linearGradient id="g218" gradientUnits="userSpaceOnUse" x1="392" x2="2008"><stop offset="0" stop-color="#00feff"/><stop offset=".2178" stop-color="#00fffa"/><stop offset=".323" stop-color="#00fcf2"/><stop offset=".3243" stop-color="#18fcf2"/><stop offset=".3255" stop-color="#28fcf2"/><stop offset=".328" stop-color="#3dfbf1"/><stop offset=".3329" stop-color="#57fbf0"/><stop offset=".3391" stop-color="#6ffaef"/><stop offset=".3441" stop-color="#7ef9ee"/><stop offset=".3527" stop-color="#94f7ec"/><stop offset=".3676" stop-color="#b2f5e9"/><stop offset=".4084" stop-color="#f3f2e4"/><stop offset=".4332" stop-color="#f6d7c8"/><stop offset=".4579" stop-color="#fac3b5"/><stop offset=".4876" stop-color="#feb0a0"/><stop offset=".547" stop-color="#ff907f"/><stop offset=".62" stop-color="#ff735f"/><stop offset=".7488" stop-color="#ff4c2b"/><stop offset=".7785" stop-color="#ff441a"/><stop offset=".7884" stop-color="#ff4112"/><stop offset=".8032" stop-color="#ff3d00"/><stop offset=".8973" stop-color="#ff1f00"/><stop offset=".922" stop-color="#ff1300"/><stop offset=".9455" stop-color="#f00"/><stop offset="1" stop-color="#f00"/></linearGradient>
<linearGradient id="g219" gradientUnits="userSpaceOnUse" x1="393" x2="2013"><stop offset="0" stop-color="#00fdff"/><stop offset=".1852" stop-color="#00fffd"/><stop offset=".284" stop-color="#00fff8"/><stop offset=".3198" stop-color="#00fcf5"/><stop offset=".321" stop-color="#0ffcf4"/><stop offset=".3222" stop-color="#24fcf4"/><stop offset=".3235" stop-color="#30fcf4"/><stop offset=".3284" stop-color="#50fbf3"/><stop offset=".3358" stop-color="#6efaf2"/><stop offset=".3432" stop-color="#84f9f0"/><stop offset=".3531" stop-color="#9cf7ee"/><stop offset=".3704" stop-color="#bdf4ea"/><stop offset=".4025" stop-color="#f0f2e6"/><stop offset=".4086" stop-color="#f3ece0"/><stop offset=".4346" stop-color="#f6d1c5"/><stop offset=".463" stop-color="#fbbcb0"/><stop offset=".5136" stop-color="#ff9e90"/><stop offset=".5481" stop-color="#ff8d7f"/><stop offset=".6284" stop-color="#ff6e5c"/><stop offset=".7543" stop-color="#ff4929"/><stop offset=".7827" stop-color="#ff4118"/><stop offset=".7914" stop-color="#ff3e11"/><stop offset=".8049" stop-color="#ff3a00"/><stop offset=".858" stop-color="#ff2a00"/><stop offset=".8988" stop-color="#ff1a00"/><stop offset=".9222" stop-color="#ff0c00"/><stop offset=".9358" stop-color="#f00"/><stop offset="1" stop-color="#f00"/></linearGradient>
<linearGradient id="g220" gradientUnits="userSpaceOnUse" x1="394" x2="2018"><stop offset="0" stop-color="#00fbff"/><stop offset=".1823" stop-color="#0ff"/><stop offset=".282" stop-color="#00fffb"/><stop offset=".3165" stop-color="#00fcf7"/><stop offset=".3177" stop-color="#02fcf7"/><stop offset=".319" stop-color="#1efcf7"/><stop offset=".3202" stop-color="#2dfcf7"/><stop offset=".3227" stop-color="#40fcf6"/><stop offset=".3276" stop-color="#5afbf5"/><stop offset=".3362" stop-color="#79f9f3"/><stop offset=".3485" stop-color="#99f7f1"/><stop offset=".3608" stop-color="#b2f5ee"/><stop offset=".4002" stop-color="#f2f2e9"/><stop offset=".415" stop-color="#f3dfd6"/><stop offset=".4249" stop-color="#f5d6cc"/><stop offset=".452" stop-color="#fac0b7"/><stop offset=".4988" stop-color="#fea498"/><stop offset=".5468" stop-color="#ff8b7f"/><stop offset=".6305" stop-color="#ff6b5b"/><stop offset=".7475" stop-color="#ff482d"/><stop offset=".782" stop-color="#ff3e1a"/><stop offset=".7943" stop-color="#ff3b10"/><stop offset=".8079" stop-color="#ff3700"/><stop offset=".8867" stop-color="#ff1b00"/><stop offset=".9052" stop-color="#f10"/><stop offset=".9249" stop-color="#f00"/><stop offset="1" stop-color="#f00"/></linearGradient>
<linearGradient id="g221" gradientUnits="userSpaceOnUse" x1="396" x2="2018"><stop offset="0" stop-color="#00faff"/><stop offset=".2478" stop-color="#0ff"/><stop offset=".3144" stop-color="#00fcfa"/><stop offset=".3157" stop-color="#08fcf9"/><stop offset=".3169" stop-color="#21fcf9"/><stop offset=".3181" stop-color="#2ffcf9"/><stop offset=".3218" stop-color="#49fbf8"/><stop offset=".3292" stop-color="#6afaf7"/><stop offset=".3354" stop-color="#7ef9f6"/><stop offset=".3477" stop-color="#9df7f3"/><stop offset=".3576" stop-color="#b1f5f1"/><stop offset=".397" stop-color="#f1f1eb"/><stop offset=".4192" stop-color="#f4d7d1"/><stop offset=".4488" stop-color="#f9c0b8"/><stop offset=".4834" stop-color="#feaaa2"/><stop offset=".5339" stop-color="#ff8f86"/><stop offset=".6227" stop-color="#ff6c5f"/><stop offset=".7534" stop-color="#ff452c"/><stop offset=".7904" stop-color="#ff3a17"/><stop offset=".8015" stop-color="#ff370d"/><stop offset=".8113" stop-color="#ff3400"/><stop offset=".8878" stop-color="#ff1700"/><stop offset=".9174" stop-color="#f00"/><stop offset="1" stop-color="#f00"/></linearGradient>
<linearGradient id="g222" gradientUnits="userSpaceOnUse" x1="397" x2="2019"><stop offset="0" stop-color="#00f8ff"/><stop offset=".2799" stop-color="#00feff"/><stop offset=".3132" stop-color="#00fcfc"/><stop offset=".3144" stop-color="#1bfcfc"/><stop offset=".3157" stop-color="#2bfcfc"/><stop offset=".3194" stop-color="#47fcfb"/><stop offset=".3268" stop-color="#69fbfa"/><stop offset=".3342" stop-color="#81f9f8"/><stop offset=".344" stop-color="#9af7f6"/><stop offset=".3588" stop-color="#b8f5f3"/><stop offset=".3946" stop-color="#f1f1ee"/><stop offset=".4118" stop-color="#f3dbd7"/><stop offset=".4414" stop-color="#f8c2bd"/><stop offset=".4834" stop-color="#fea8a2"/><stop offset=".5339" stop-color="#ff8d86"/><stop offset=".6264" stop-color="#ff695e"/><stop offset=".7633" stop-color="#ff4029"/><stop offset=".7928" stop-color="#ff3718"/><stop offset=".8163" stop-color="#ff3000"/><stop offset=".8742" stop-color="#ff1a00"/><stop offset=".8915" stop-color="#ff1000"/><stop offset=".91" stop-color="#f00"/><stop offset="1" stop-color="#f00"/></linearGradient>
<linearGradient id="g223" gradientUnits="userSpaceOnUse" x1="398" x2="2018"><stop offset="0" stop-color="#00f7ff"/><stop offset=".3111" stop-color="#00fafd"/><stop offset=".3136" stop-color="#26fafc"/><stop offset=".3173" stop-color="#44fafc"/><stop offset=".321" stop-color="#58fafb"/><stop offset=".3309" stop-color="#7cf8fa"/><stop offset=".3506" stop-color="#acf5f6"/><stop offset=".3642" stop-color="#c5f3f4"/><stop offset=".3926" stop-color="#f1f0f0"/><stop offset=".4123" stop-color="#f3d8d6"/><stop offset=".4457" stop-color="#f9bdba"/><stop offset=".484" stop-color="#fea5a2"/><stop offset=".537" stop-color="#ff8a85"/><stop offset=".6222" stop-color="#ff6961"/><stop offset=".7654" stop-color="#ff3e2a"/><stop offset=".7975" stop-color="#ff3418"/><stop offset=".8074" stop-color="#ff3110"/><stop offset=".821" stop-color="#ff2c00"/><stop offset=".8716" stop-color="#ff1800"/><stop offset=".9037" stop-color="#f00"/><stop offset="1" stop-color="#f00"/></linearGradient>
<linearGradient id="g224" gradientUnits="userSpaceOnUse" x1="400" x2="2018"><stop offset="0" stop-color="#00f5ff"/><stop offset=".309" stop-color="#00f8fd"/><stop offset=".3103" stop-color="#17f8fd"/><stop offset=".3115" stop-color="#28f8fc"/><stop offset=".3152" stop-color="#45f8fc"/><stop offset=".3189" stop-color="#58f7fc"/><stop offset=".3288" stop-color="#7cf6fa"/><stop offset=".3399" stop-color="#99f4f8"/><stop offset=".3498" stop-color="#aef3f6"/><stop offset=".3906" stop-color="#f1eff1"/><stop offset=".4116" stop-color="#f3d5d6"/><stop offset=".4351" stop-color="#f7c1c2"/><stop offset=".4821" stop-color="#fea4a3"/><stop offset=".5328" stop-color="#ff8a87"/><stop offset=".623" stop-color="#ff6761"/><stop offset=".7627" stop-color="#ff3d2d"/><stop offset=".8059" stop-color="#ff2f15"/><stop offset=".8257" stop-color="#ff2800"/><stop offset=".8714" stop-color="#ff1400"/><stop offset=".8962" stop-color="#f00"/><stop offset="1" stop-color="#f00"/></linearGradient>
<linearGradient id="g225" gradientUnits="userSpaceOnUse" x1="401" x2="2019"><stop offset="0" stop-color="#00f4ff"/><stop offset=".3066" stop-color="#00f6fd"/><stop offset=".3078" stop-color="#0df6fd"/><stop offset=".309" stop-color="#23f6fd"/><stop offset=".3103" stop-color="#30f6fd"/><stop offset=".3127" stop-color="#42f5fc"/><stop offset=".3164" stop-color="#56f5fc"/><stop offset=".3263" stop-color="#7af4fa"/><stop offset=".3461" stop-color="#aaf1f7"/><stop offset=".3609" stop-color="#c5eff4"/><stop offset=".3894" stop-color="#f1ecf1"/><stop offset=".4116" stop-color="#f3d2d5"/><stop offset=".4363" stop-color="#f7bec0"/><stop offset=".4821" stop-color="#fea2a3"/><stop offset=".5328" stop-color="#f88"/><stop offset=".5711" stop-color="#ff7876"/><stop offset=".6267" stop-color="#ff6461"/><stop offset=".7726" stop-color="#ff382a"/><stop offset=".8084" stop-color="#ff2c16"/><stop offset=".8294" stop-color="#ff2400"/><stop offset=".8653" stop-color="#ff1300"/><stop offset=".8875" stop-color="#f00"/><stop offset="1" stop-color="#f00"/></linearGradient>
<linearGradient id="g226" gradientUnits="userSpaceOnUse" x1="402" x2="2012"><stop offset="0" stop-color="#00f2ff"/><stop offset=".3068" stop-color="#00f4fd"/><stop offset=".3081" stop-color="#1df4fd"/><stop offset=".3093" stop-color="#2bf4fd"/><stop offset=".3118" stop-color="#3ff3fd"/><stop offset=".3168" stop-color="#59f3fc"/><stop offset=".3267" stop-color="#7cf2fb"/><stop offset=".3342" stop-color="#90f1f9"/><stop offset=".3503" stop-color="#b2eef6"/><stop offset=".3901" stop-color="#f1eaf1"/><stop offset=".4099" stop-color="#f3d2d9"/><stop offset=".441" stop-color="#f8babe"/><stop offset=".4832" stop-color="#fea0a4"/><stop offset=".5354" stop-color="#ff8688"/><stop offset=".6335" stop-color="#ff6160"/><stop offset=".7776" stop-color="#ff352b"/><stop offset=".8149" stop-color="#ff2817"/><stop offset=".8286" stop-color="#ff230b"/><stop offset=".8373" stop-color="#ff1f00"/><stop offset=".8634" stop-color="#ff1200"/><stop offset=".8845" stop-color="#f00"/><stop offset="1" stop-color="#f00"/></linearGradient>
<linearGradient id="g227" gradientUnits="userSpaceOnUse" x1="404" x2="2000"><stop offset="0" stop-color="#00f1ff"/><stop offset=".3058" stop-color="#00f2fd"/><stop offset=".307" stop-color="#05f2fd"/><stop offset=".3083" stop-color="#1ff1fd"/><stop offset=".3095" stop-color="#2df1fd"/><stop offset=".312" stop-color="#40f1fd"/><stop offset=".3158" stop-color="#54f1fc"/><stop offset=".3208" stop-color="#68f0fc"/><stop offset=".3271" stop-color="#7cf0fb"/><stop offset=".3409" stop-color="#9eeef9"/><stop offset=".3521" stop-color="#b4ecf7"/><stop offset=".3922" stop-color="#f2e7f1"/><stop offset=".4135" stop-color="#f3cfd7"/><stop offset=".4411" stop-color="#f8b9c0"/><stop offset=".485" stop-color="#fe9fa5"/><stop offset=".5351" stop-color="#ff868a"/><stop offset=".6241" stop-color="#ff6466"/><stop offset=".792" stop-color="#ff3029"/><stop offset=".8208" stop-color="#ff261a"/><stop offset=".8383" stop-color="#ff1e0c"/><stop offset=".8484" stop-color="#ff1a00"/><stop offset=".8609" stop-color="#ff1300"/><stop offset=".8835" stop-color="#f00"/><stop offset="1" stop-color="#f00"/></linearGradient>
<linearGradient id="g228" gradientUnits="userSpaceOnUse" x1="405" x2="1987"><stop offset="0" stop-color="#00efff"/><stop offset=".3072" stop-color="#00effd"/><stop offset=".3085" stop-color="#19effd"/><stop offset=".3097" stop-color="#28effd"/><stop offset=".3123" stop-color="#3deffd"/><stop offset=".3173" stop-color="#57effc"/><stop offset=".3287" stop-color="#7eedfb"/><stop offset=".3388" stop-color="#97ecfa"/><stop offset=".3552" stop-color="#b7e9f7"/><stop offset=".3944" stop-color="#f2e5f2"/><stop offset=".4197" stop-color="#f4c9d4"/><stop offset=".4463" stop-color="#f8b6bf"/><stop offset=".488" stop-color="#fe9ea6"/><stop offset=".5398" stop-color="#ff848b"/><stop offset=".6271" stop-color="#ff6367"/><stop offset=".7977" stop-color="#ff2e2b"/><stop offset=".8394" stop-color="#ff1e15"/><stop offset=".8597" stop-color="#ff1300"/><stop offset=".8824" stop-color="#f00"/><stop offset="1" stop-color="#f00"/></linearGradient>
<linearGradient id="g229" gradientUnits="userSpaceOnUse" x1="407" x2="1973"><stop offset="0" stop-color="#0ef"/><stop offset=".3078" stop-color="#00edfe"/><stop offset=".3091" stop-color="#1bedfd"/><stop offset=".3103" stop-color="#2aedfd"/><stop offset=".3129" stop-color="#3eedfd"/><stop offset=".3193" stop-color="#5decfd"/><stop offset=".3295" stop-color="#7eebfb"/><stop offset=".3384" stop-color="#94eafa"/><stop offset=".3576" stop-color="#b9e7f7"/><stop offset=".3972" stop-color="#f3e3f2"/><stop offset=".4176" stop-color="#f4ccd9"/><stop offset=".447" stop-color="#f8b5c1"/><stop offset=".4891" stop-color="#fd9da7"/><stop offset=".5287" stop-color="#ff8993"/><stop offset=".6169" stop-color="#ff676d"/><stop offset=".8135" stop-color="#ff2829"/><stop offset=".8467" stop-color="#ff1a18"/><stop offset=".8608" stop-color="#ff120d"/><stop offset=".8723" stop-color="#ff0a00"/><stop offset=".8825" stop-color="#f00"/><stop offset="1" stop-color="#f00"/></linearGradient>
<linearGradient id="g230" gradientUnits="userSpaceOnUse" x1="408" x2="1960"><stop offset="0" stop-color="#00ecff"/><stop offset=".308" stop-color="#00ebfe"/><stop offset=".3106" stop-color="#26ebfe"/><stop offset=".3131" stop-color="#3aebfd"/><stop offset=".3157" stop-color="#49ebfd"/><stop offset=".3247" stop-color="#6deafc"/><stop offset=".3325" stop-color="#83e9fb"/><stop offset=".3454" stop-color="#a0e7fa"/><stop offset=".3608" stop-color="#bce5f7"/><stop offset=".3995" stop-color="#f3e1f3"/><stop offset=".4098" stop-color="#f3d4e5"/><stop offset=".4253" stop-color="#f5c6d5"/><stop offset=".4523" stop-color="#f9b2c0"/><stop offset=".5219" stop-color="#ff8d98"/><stop offset=".5567" stop-color="#ff7d88"/><stop offset=".6237" stop-color="#ff656d"/><stop offset=".8222" stop-color="#ff252a"/><stop offset=".8582" stop-color="#ff1418"/><stop offset=".8853" stop-color="#f00"/><stop offset="1" stop-color="#f00"/></linearGradient>
<linearGradient id="g231" gradientUnits="userSpaceOnUse" x1="410" x2="1948"><stop offset="0" stop-color="#00ebff"/><stop offset=".3082" stop-color="#00e9fe"/><stop offset=".3095" stop-color="#17e9fe"/><stop offset=".3108" stop-color="#27e9fe"/><stop offset=".3134" stop-color="#3be9fe"/><stop offset=".316" stop-color="#4ae8fd"/><stop offset=".3238" stop-color="#69e8fd"/><stop offset=".3329" stop-color="#83e7fc"/><stop offset=".3459" stop-color="#a0e5fa"/><stop offset=".3654" stop-color="#c2e3f7"/><stop offset=".4018" stop-color="#f4def3"/><stop offset=".4187" stop-color="#f4cbde"/><stop offset=".4512" stop-color="#f8b2c3"/><stop offset=".4837" stop-color="#fda0af"/><stop offset=".5345" stop-color="#ff8794"/><stop offset=".619" stop-color="#ff6671"/><stop offset=".7711" stop-color="#ff373f"/><stop offset=".8296" stop-color="#ff222b"/><stop offset=".8609" stop-color="#ff121d"/><stop offset=".8817" stop-color="#ff000f"/><stop offset=".896" stop-color="#f00"/><stop offset="1" stop-color="#f00"/></linearGradient>
<linearGradient id="g232" gradientUnits="userSpaceOnUse" x1="411" x2="1935"><stop offset="0" stop-color="#00e9ff"/><stop offset=".3084" stop-color="#00e7fe"/><stop offset=".311" stop-color="#22e7fe"/><stop offset=".3123" stop-color="#2fe7fe"/><stop offset=".315" stop-color="#40e7fe"/><stop offset=".3215" stop-color="#5ee6fd"/><stop offset=".332" stop-color="#7ee5fc"/><stop offset=".3438" stop-color="#99e4fb"/><stop offset=".3583" stop-color="#b4e2f9"/><stop offset=".4029" stop-color="#f4ddf5"/><stop offset=".4252" stop-color="#f5c6db"/><stop offset=".4567" stop-color="#f9afc2"/><stop offset=".5118" stop-color="#fe91a2"/><stop offset=".542" stop-color="#ff8493"/><stop offset=".626" stop-color="#ff6471"/><stop offset=".8294" stop-color="#ff222f"/><stop offset=".8635" stop-color="#ff1021"/><stop offset=".8806" stop-color="#ff0018"/><stop offset=".8976" stop-color="#ff000c"/><stop offset=".9094" stop-color="#f00"/><stop offset="1" stop-color="#f00"/></linearGradient>
<linearGradient id="g233" gradientUnits="userSpaceOnUse" x1="413" x2="1921"><stop offset="0" stop-color="#00e8ff"/><stop offset=".309" stop-color="#00e5fe"/><stop offset=".3117" stop-color="#24e5fe"/><stop offset=".313" stop-color="#30e5fe"/><stop offset=".3156" stop-color="#41e4fe"/><stop offset=".3236" stop-color="#63e4fd"/><stop offset=".3329" stop-color="#7ee3fd"/><stop offset=".3448" stop-color="#99e2fb"/><stop offset=".3607" stop-color="#b6e0fa"/><stop offset=".3793" stop-color="#d2def7"/><stop offset=".4058" stop-color="#f5dbf5"/><stop offset=".4257" stop-color="#f6c7de"/><stop offset=".4549" stop-color="#f9b1c6"/><stop offset=".492" stop-color="#fd9bb0"/><stop offset=".5517" stop-color="#ff8091"/><stop offset=".6419" stop-color="#ff5f6e"/><stop offset=".8223" stop-color="#ff2536"/><stop offset=".8607" stop-color="#ff1228"/><stop offset=".8806" stop-color="#ff001f"/><stop offset=".8992" stop-color="#ff0015"/><stop offset=".9218" stop-color="#f00"/><stop offset="1" stop-color="#f00"/></linearGradient>
<linearGradient id="g234" gradientUnits="userSpaceOnUse" x1="414" x2="1908"><stop offset="0" stop-color="#00e7ff"/><stop offset=".3092" stop-color="#00e3fe"/><stop offset=".3106" stop-color="#08e3fe"/><stop offset=".3119" stop-color="#1fe3fe"/><stop offset=".3133" stop-color="#2ce3fe"/><stop offset=".3186" stop-color="#4ce2fe"/><stop offset=".324" stop-color="#61e2fe"/><stop offset=".336" stop-color="#83e1fd"/><stop offset=".3481" stop-color="#9de0fc"/><stop offset=".3641" stop-color="#b9defa"/><stop offset=".4083" stop-color="#f6daf6"/><stop offset=".4324" stop-color="#f7c1db"/><stop offset=".4605" stop-color="#f9adc5"/><stop offset=".506" stop-color="#fe94aa"/><stop offset=".5596" stop-color="#ff7c90"/><stop offset=".6613" stop-color="#ff586a"/><stop offset=".822" stop-color="#ff2539"/><stop offset=".8554" stop-color="#ff152e"/><stop offset=".8809" stop-color="#ff0024"/><stop offset=".9103" stop-color="#ff0016"/><stop offset=".9357" stop-color="#f00"/><stop offset="1" stop-color="#f00"/></linearGradient>
<linearGradient id="g235" gradientUnits="userSpaceOnUse" x1="416" x2="1896"><stop offset="0" stop-color="#00e5ff"/><stop offset=".3095" stop-color="#00e1fe"/><stop offset=".3108" stop-color="#0de1fe"/><stop offset=".3122" stop-color="#21e0fe"/><stop offset=".3135" stop-color="#2ee0fe"/><stop offset=".3176" stop-color="#46e0fe"/><stop offset=".3243" stop-color="#61e0fe"/><stop offset=".3365" stop-color="#83dffd"/><stop offset=".3473" stop-color="#9adefc"/><stop offset=".3662" stop-color="#bbdcfa"/><stop offset=".4108" stop-color="#f7d7f6"/><stop offset=".4378" stop-color="#f7bdd9"/><stop offset=".4703" stop-color="#fba7c1"/><stop offset=".5122" stop-color="#fe91a9"/><stop offset=".5649" stop-color="#ff7a90"/><stop offset=".6716" stop-color="#ff5569"/><stop offset=".8284" stop-color="#ff223b"/><stop offset=".8608" stop-color="#ff1130"/><stop offset=".8797" stop-color="#ff0029"/><stop offset=".9189" stop-color="#ff0018"/><stop offset=".9486" stop-color="#f00"/><stop offset="1" stop-color="#f00"/></linearGradient>
<linearGradient id="g236" gradientUnits="userSpaceOnUse" x1="417" x2="1883"><stop offset="0" stop-color="#00e4ff"/><stop offset=".3097" stop-color="#00dffe"/><stop offset=".3111" stop-color="#01defe"/><stop offset=".3124" stop-color="#1cdefe"/><stop offset=".3138" stop-color="#2adefe"/><stop offset=".3192" stop-color="#4adefe"/><stop offset=".3274" stop-color="#68defe"/><stop offset=".3356" stop-color="#7eddfd"/><stop offset=".3506" stop-color="#9edcfc"/><stop offset=".3724" stop-color="#c2d9fa"/><stop offset=".4134" stop-color="#f7d6f7"/><stop offset=".4325" stop-color="#f8c2e2"/><stop offset=".4625" stop-color="#faacc9"/><stop offset=".5075" stop-color="#fe94ae"/><stop offset=".5634" stop-color="#ff7b93"/><stop offset=".6576" stop-color="#ff5970"/><stop offset=".8131" stop-color="#ff2842"/><stop offset=".854" stop-color="#ff1536"/><stop offset=".8799" stop-color="#ff002d"/><stop offset=".9263" stop-color="#ff001b"/><stop offset=".9482" stop-color="#ff000d"/><stop offset=".9618" stop-color="#f00"/><stop offset="1" stop-color="#f00"/></linearGradient>
<linearGradient id="g237" gradientUnits="userSpaceOnUse" x1="419" x2="1869"><stop offset="0" stop-color="#00e2ff"/><stop offset=".3103" stop-color="#00dcff"/><stop offset=".3117" stop-color="#06dcff"/><stop offset=".3131" stop-color="#1edcfe"/><stop offset=".3145" stop-color="#2bdcfe"/><stop offset=".3186" stop-color="#44dcfe"/><stop offset=".3269" stop-color="#64dcfe"/><stop offset=".3366" stop-color="#7edbfe"/><stop offset=".3476" stop-color="#96dafd"/><stop offset=".3641" stop-color="#b3d9fc"/><stop offset=".3862" stop-color="#d3d6fa"/><stop offset=".4166" stop-color="#f8d3f7"/><stop offset=".4469" stop-color="#f9b7d8"/><stop offset=".4759" stop-color="#fba5c3"/><stop offset=".5228" stop-color="#fe8ca9"/><stop offset=".5766" stop-color="#ff7690"/><stop offset=".6593" stop-color="#ff5972"/><stop offset=".8207" stop-color="#ff2543"/><stop offset=".8524" stop-color="#ff163a"/><stop offset=".88" stop-color="#ff0032"/><stop offset=".9421" stop-color="#ff001a"/><stop offset=".96" stop-color="#ff000f"/><stop offset=".9766" stop-color="#f00"/><stop offset="1" stop-color="#f00"/></linearGradient>
<linearGradient id="g238" gradientUnits="userSpaceOnUse" x1="420" x2="1856"><stop offset="0" stop-color="#00e1ff"/><stop offset=".312" stop-color="#00daff"/><stop offset=".3134" stop-color="#18daff"/><stop offset=".3148" stop-color="#27daff"/><stop offset=".3175" stop-color="#3adafe"/><stop offset=".3203" stop-color="#48dafe"/><stop offset=".3273" stop-color="#62dafe"/><stop offset=".3398" stop-color="#83d9fe"/><stop offset=".3496" stop-color="#97d8fd"/><stop offset=".3677" stop-color="#b6d6fc"/><stop offset=".3942" stop-color="#dbd4fa"/><stop offset=".4192" stop-color="#f9d1f8"/><stop offset=".4429" stop-color="#f9bbdf"/><stop offset=".4805" stop-color="#fca2c3"/><stop offset=".5251" stop-color="#fe8bab"/><stop offset=".5682" stop-color="#ff7996"/><stop offset=".6671" stop-color="#ff5672"/><stop offset=".8203" stop-color="#ff2547"/><stop offset=".8538" stop-color="#ff153d"/><stop offset=".8788" stop-color="#ff0036"/><stop offset=".9471" stop-color="#ff001e"/><stop offset=".968" stop-color="#ff0013"/><stop offset=".9903" stop-color="#f00"/><stop offset="1" stop-color="#f00"/></linearGradient>
<linearGradient id="g239" gradientUnits="userSpaceOnUse" x1="422" x2="1844"><stop offset="0" stop-color="#00dfff"/><stop offset=".3122" stop-color="#00d8ff"/><stop offset=".3136" stop-color="#1bd8ff"/><stop offset=".315" stop-color="#29d8ff"/><stop offset=".3207" stop-color="#49d8ff"/><stop offset=".3277" stop-color="#62d8fe"/><stop offset=".3404" stop-color="#83d7fe"/><stop offset=".3502" stop-color="#97d6fd"/><stop offset=".3713" stop-color="#bad4fc"/><stop offset=".4205" stop-color="#f9d0fa"/><stop offset=".4473" stop-color="#fab8de"/><stop offset=".4796" stop-color="#fca3c6"/><stop offset=".5246" stop-color="#fe8bad"/><stop offset=".571" stop-color="#ff7897"/><stop offset=".6807" stop-color="#ff5270"/><stop offset=".8143" stop-color="#ff274b"/><stop offset=".8495" stop-color="#ff1741"/><stop offset=".8776" stop-color="#ff003a"/><stop offset=".962" stop-color="#ff001d"/><stop offset=".9761" stop-color="#ff0016"/><stop offset="1" stop-color="#ff0003"/></linearGradient>
<linearGradient id="g240" gradientUnits="userSpaceOnUse" x1="423" x2="1829"><stop offset="0" stop-color="#00deff"/><stop offset=".3129" stop-color="#00d6ff"/><stop offset=".3158" stop-color="#24d6ff"/><stop offset=".3186" stop-color="#38d6ff"/><stop offset=".3215" stop-color="#46d6ff"/><stop offset=".3286" stop-color="#60d5fe"/><stop offset=".34" stop-color="#7ed5fe"/><stop offset=".3528" stop-color="#98d4fe"/><stop offset=".367" stop-color="#b0d3fd"/><stop offset=".3926" stop-color="#d4d0fb"/><stop offset=".4253" stop-color="#facdf9"/><stop offset=".4509" stop-color="#fab6df"/><stop offset=".4865" stop-color="#fc9fc5"/><stop offset=".5377" stop-color="#fe86a9"/><stop offset=".5804" stop-color="#ff7496"/><stop offset=".6799" stop-color="#ff5273"/><stop offset=".8179" stop-color="#ff264d"/><stop offset=".8521" stop-color="#ff1644"/><stop offset=".8791" stop-color="#ff003d"/><stop offset=".9602" stop-color="#ff0024"/><stop offset="1" stop-color="#f01"/></linearGradient>
<linearGradient id="g241" gradientUnits="userSpaceOnUse" x1="425" x2="1817"><stop offset="0" stop-color="#00dcff"/><stop offset=".3132" stop-color="#00d4ff"/><stop offset=".3147" stop-color="#17d4ff"/><stop offset=".3161" stop-color="#26d4ff"/><stop offset=".319" stop-color="#39d4ff"/><stop offset=".3218" stop-color="#47d4ff"/><stop offset=".3276" stop-color="#5cd3ff"/><stop offset=".3405" stop-color="#7ed3fe"/><stop offset=".3563" stop-color="#9dd2fe"/><stop offset=".3693" stop-color="#b2d1fd"/><stop offset=".3908" stop-color="#d0cffc"/><stop offset=".4267" stop-color="#fbccfb"/><stop offset=".4555" stop-color="#fbb3de"/><stop offset=".4856" stop-color="#fca0c8"/><stop offset=".5273" stop-color="#fe8ab1"/><stop offset=".5833" stop-color="#ff7397"/><stop offset=".671" stop-color="#ff5578"/><stop offset=".8118" stop-color="#ff2851"/><stop offset=".8491" stop-color="#ff1748"/><stop offset=".8779" stop-color="#ff0040"/><stop offset=".9468" stop-color="#ff002d"/><stop offset="1" stop-color="#ff0018"/></linearGradient>
<linearGradient id="g242" gradientUnits="userSpaceOnUse" x1="426" x2="1804"><stop offset="0" stop-color="#00dbff"/><stop offset=".3135" stop-color="#00d2ff"/><stop offset=".3164" stop-color="#21d2ff"/><stop offset=".3179" stop-color="#2dd2ff"/><stop offset=".3208" stop-color="#3ed2ff"/><stop offset=".328" stop-color="#5ad1ff"/><stop offset=".3396" stop-color="#79d1fe"/><stop offset=".3556" stop-color="#99d0fe"/><stop offset=".3745" stop-color="#b7cefd"/><stop offset=".4049" stop-color="#dfccfc"/><stop offset=".4296" stop-color="#fbcafb"/><stop offset=".4572" stop-color="#fbb3e0"/><stop offset=".4935" stop-color="#fd9cc6"/><stop offset=".5341" stop-color="#fe87b0"/><stop offset=".5922" stop-color="#ff7096"/><stop offset=".6923" stop-color="#ff4e74"/><stop offset=".8113" stop-color="#ff2854"/><stop offset=".8505" stop-color="#ff164a"/><stop offset=".8766" stop-color="#f04"/><stop offset=".9536" stop-color="#ff002f"/><stop offset="1" stop-color="#ff001f"/></linearGradient>
<linearGradient id="g243" gradientUnits="userSpaceOnUse" x1="428" x2="1790"><stop offset="0" stop-color="#00d9ff"/><stop offset=".3142" stop-color="#00d0ff"/><stop offset=".3172" stop-color="#23d0ff"/><stop offset=".3201" stop-color="#37d0ff"/><stop offset=".3231" stop-color="#45d0ff"/><stop offset=".3304" stop-color="#5fcfff"/><stop offset=".3407" stop-color="#79cfff"/><stop offset=".3554" stop-color="#96cefe"/><stop offset=".37" stop-color="#aecdfe"/><stop offset=".3965" stop-color="#d2cbfd"/><stop offset=".4332" stop-color="#fcc7fb"/><stop offset=".4626" stop-color="#fcafdf"/><stop offset=".4934" stop-color="#fd9cc9"/><stop offset=".5389" stop-color="#fe85b0"/><stop offset=".5859" stop-color="#ff729b"/><stop offset=".6843" stop-color="#ff5179"/><stop offset=".8164" stop-color="#ff2656"/><stop offset=".8488" stop-color="#ff174e"/><stop offset=".8634" stop-color="#ff0d4a"/><stop offset=".8767" stop-color="#ff0047"/><stop offset=".9545" stop-color="#f03"/><stop offset="1" stop-color="#ff0024"/></linearGradient>
<linearGradient id="g244" gradientUnits="userSpaceOnUse" x1="430" x2="1778"><stop offset="0" stop-color="#00d8ff"/><stop offset=".3145" stop-color="#00ceff"/><stop offset=".316" stop-color="#16ceff"/><stop offset=".3175" stop-color="#25ceff"/><stop offset=".3205" stop-color="#38ceff"/><stop offset=".3234" stop-color="#46ceff"/><stop offset=".3309" stop-color="#5fcdff"/><stop offset=".3412" stop-color="#79cdff"/><stop offset=".3561" stop-color="#96ccfe"/><stop offset=".3739" stop-color="#b2cafe"/><stop offset=".4021" stop-color="#d7c8fd"/><stop offset=".4347" stop-color="#fcc6fc"/><stop offset=".4599" stop-color="#fcb1e4"/><stop offset=".4911" stop-color="#fd9dcd"/><stop offset=".5415" stop-color="#fe84b1"/><stop offset=".589" stop-color="#ff719c"/><stop offset=".6884" stop-color="#ff4f7a"/><stop offset=".8131" stop-color="#ff2759"/><stop offset=".8457" stop-color="#ff1851"/><stop offset=".8635" stop-color="#ff0c4d"/><stop offset=".8754" stop-color="#ff004a"/><stop offset="1" stop-color="#ff0029"/></linearGradient>
<linearGradient id="g245" gradientUnits="userSpaceOnUse" x1="431" x2="1765"><stop offset="0" stop-color="#00d6ff"/><stop offset=".3148" stop-color="#0cf"/><stop offset=".3178" stop-color="#20ccff"/><stop offset=".3193" stop-color="#2cccff"/><stop offset=".3238" stop-color="#43ccff"/><stop offset=".3313" stop-color="#5dcbff"/><stop offset=".3448" stop-color="#7ecaff"/><stop offset=".3613" stop-color="#9cc9fe"/><stop offset=".3793" stop-color="#b7c8fe"/><stop offset=".4078" stop-color="#dbc6fd"/><stop offset=".4393" stop-color="#fdc3fc"/><stop offset=".4678" stop-color="#fdace1"/><stop offset=".5022" stop-color="#fe97c9"/><stop offset=".5832" stop-color="#ff73a1"/><stop offset=".6867" stop-color="#ff507d"/><stop offset=".8126" stop-color="#ff275c"/><stop offset=".8471" stop-color="#ff1754"/><stop offset=".8756" stop-color="#ff004d"/><stop offset="1" stop-color="#ff002d"/></linearGradient>
<linearGradient id="g246" gradientUnits="userSpaceOnUse" x1="433" x2="1751"><stop offset="0" stop-color="#00d5ff"/><stop offset=".3156" stop-color="#00caff"/><stop offset=".3187" stop-color="#22caff"/><stop offset=".3217" stop-color="#36caff"/><stop offset=".3247" stop-color="#44caff"/><stop offset=".3308" stop-color="#59c9ff"/><stop offset=".3414" stop-color="#74c9ff"/><stop offset=".3551" stop-color="#8fc8ff"/><stop offset=".3733" stop-color="#acc7fe"/><stop offset=".4067" stop-color="#d7c4fe"/><stop offset=".4416" stop-color="#fdc1fd"/><stop offset=".4659" stop-color="#fdaee6"/><stop offset=".5023" stop-color="#fe98cc"/><stop offset=".5326" stop-color="#fe88bb"/><stop offset=".5918" stop-color="#ff70a0"/><stop offset=".6783" stop-color="#ff5382"/><stop offset=".8073" stop-color="#ff2960"/><stop offset=".8437" stop-color="#ff1957"/><stop offset=".8619" stop-color="#ff0d53"/><stop offset=".8756" stop-color="#ff0050"/><stop offset="1" stop-color="#ff0032"/></linearGradient>
<linearGradient id="g247" gradientUnits="userSpaceOnUse" x1="435" x2="1739"><stop offset="0" stop-color="#00d3ff"/><stop offset=".316" stop-color="#00c8ff"/><stop offset=".3175" stop-color="#15c8ff"/><stop offset=".319" stop-color="#24c8ff"/><stop offset=".3236" stop-color="#3ec8ff"/><stop offset=".3313" stop-color="#59c7ff"/><stop offset=".342" stop-color="#74c7ff"/><stop offset=".3589" stop-color="#94c6ff"/><stop offset=".3788" stop-color="#b2c4fe"/><stop offset=".411" stop-color="#dac2fe"/><stop offset=".4448" stop-color="#fdbffd"/><stop offset=".4693" stop-color="#fdace6"/><stop offset=".5" stop-color="#fe99d0"/><stop offset=".5322" stop-color="#fe88be"/><stop offset=".5951" stop-color="#ff6fa1"/><stop offset=".6994" stop-color="#ff4c7e"/><stop offset=".819" stop-color="#ff2460"/><stop offset=".8405" stop-color="#ff1a5b"/><stop offset=".862" stop-color="#ff0c56"/><stop offset=".8742" stop-color="#ff0053"/><stop offset="1" stop-color="#ff0035"/></linearGradient>
<linearGradient id="g248" gradientUnits="userSpaceOnUse" x1="436" x2="1726"><stop offset="0" stop-color="#00d2ff"/><stop offset=".3163" stop-color="#00c6ff"/><stop offset=".3178" stop-color="#0dc6ff"/><stop offset=".3194" stop-color="#1fc6ff"/><stop offset=".3209" stop-color="#2bc6ff"/><stop offset=".3271" stop-color="#48c5ff"/><stop offset=".338" stop-color="#68c5ff"/><stop offset=".3519" stop-color="#85c4ff"/><stop offset=".3736" stop-color="#a8c3ff"/><stop offset=".4016" stop-color="#ccc0fe"/><stop offset=".4481" stop-color="#febdfd"/><stop offset=".4775" stop-color="#fea7e3"/><stop offset=".5132" stop-color="#fe92cb"/><stop offset=".5612" stop-color="#ff7cb2"/><stop offset=".6016" stop-color="#ff6ca1"/><stop offset=".6806" stop-color="#ff5286"/><stop offset=".8062" stop-color="#ff2965"/><stop offset=".8419" stop-color="#ff195d"/><stop offset=".8589" stop-color="#ff0e59"/><stop offset=".8744" stop-color="#f05"/><stop offset="1" stop-color="#ff0039"/></linearGradient>
<linearGradient id="g249" gradientUnits="userSpaceOnUse" x1="438" x2="1712"><stop offset="0" stop-color="#00d0ff"/><stop offset=".3171" stop-color="#00c4ff"/><stop offset=".3203" stop-color="#21c4ff"/><stop offset=".3234" stop-color="#35c4ff"/><stop offset=".3265" stop-color="#43c4ff"/><stop offset=".3312" stop-color="#53c3ff"/><stop offset=".3391" stop-color="#68c3ff"/><stop offset=".3532" stop-color="#85c2ff"/><stop offset=".3783" stop-color="#acc0ff"/><stop offset=".3987" stop-color="#c6bffe"/><stop offset=".4521" stop-color="#febafd"/><stop offset=".4819" stop-color="#fea4e3"/><stop offset=".5165" stop-color="#fe91cc"/><stop offset=".5463" stop-color="#ff82bc"/><stop offset=".5981" stop-color="#ff6ea5"/><stop offset=".6892" stop-color="#ff4f86"/><stop offset=".8163" stop-color="#ff2565"/><stop offset=".8383" stop-color="#ff1b60"/><stop offset=".8603" stop-color="#ff0d5b"/><stop offset=".8744" stop-color="#ff0058"/><stop offset="1" stop-color="#ff003c"/></linearGradient>
<linearGradient id="g250" gradientUnits="userSpaceOnUse" x1="440" x2="1700"><stop offset="0" stop-color="#00cfff"/><stop offset=".3175" stop-color="#00c2ff"/><stop offset=".319" stop-color="#14c2ff"/><stop offset=".3206" stop-color="#23c2ff"/><stop offset=".3238" stop-color="#36c2ff"/><stop offset=".3286" stop-color="#49c1ff"/><stop offset=".3397" stop-color="#68c1ff"/><stop offset=".3524" stop-color="#82c0ff"/><stop offset=".3651" stop-color="#97bfff"/><stop offset=".3889" stop-color="#b8bdff"/><stop offset=".4175" stop-color="#d9bbfe"/><stop offset=".454" stop-color="#feb8fe"/><stop offset=".4778" stop-color="#fea7e9"/><stop offset=".5175" stop-color="#fe90ce"/><stop offset=".6016" stop-color="#ff6ca6"/><stop offset=".6968" stop-color="#ff4c86"/><stop offset=".8127" stop-color="#ff2669"/><stop offset=".846" stop-color="#ff1661"/><stop offset=".873" stop-color="#ff005b"/><stop offset="1" stop-color="#ff0040"/></linearGradient>
<linearGradient id="g251" gradientUnits="userSpaceOnUse" x1="442" x2="1686"><stop offset="0" stop-color="#00cdff"/><stop offset=".3183" stop-color="#00c0ff"/><stop offset=".3199" stop-color="#17c0ff"/><stop offset=".3215" stop-color="#25c0ff"/><stop offset=".3264" stop-color="#3ec0ff"/><stop offset=".3344" stop-color="#58bfff"/><stop offset=".3521" stop-color="#7fbeff"/><stop offset=".373" stop-color="#a0bdff"/><stop offset=".4003" stop-color="#c3bbff"/><stop offset=".4582" stop-color="#feb5fe"/><stop offset=".4887" stop-color="#fea0e4"/><stop offset=".5209" stop-color="#fe8ecf"/><stop offset=".5611" stop-color="#ff7cba"/><stop offset=".6109" stop-color="#ff69a5"/><stop offset=".7058" stop-color="#ff4a86"/><stop offset=".8103" stop-color="#ff276c"/><stop offset=".8505" stop-color="#ff1363"/><stop offset=".873" stop-color="#ff005e"/><stop offset="1" stop-color="#ff0043"/></linearGradient>
<linearGradient id="g252" gradientUnits="userSpaceOnUse" x1="443" x2="1673"><stop offset="0" stop-color="#0cf"/><stop offset=".3187" stop-color="#00beff"/><stop offset=".322" stop-color="#20beff"/><stop offset=".3236" stop-color="#2bbeff"/><stop offset=".3268" stop-color="#3bbeff"/><stop offset=".3317" stop-color="#4dbdff"/><stop offset=".3431" stop-color="#6abdff"/><stop offset=".3577" stop-color="#86bcff"/><stop offset=".3756" stop-color="#a1baff"/><stop offset=".3951" stop-color="#bab9ff"/><stop offset=".4358" stop-color="#e6b6ff"/><stop offset=".4618" stop-color="#feb3fe"/><stop offset=".4976" stop-color="#fe9be1"/><stop offset=".5333" stop-color="#ff89cb"/><stop offset=".6179" stop-color="#ff66a5"/><stop offset=".7041" stop-color="#ff4a89"/><stop offset=".8098" stop-color="#ff276f"/><stop offset=".852" stop-color="#ff1265"/><stop offset=".8715" stop-color="#ff0061"/><stop offset="1" stop-color="#ff0046"/></linearGradient>
<linearGradient id="g253" gradientUnits="userSpaceOnUse" x1="445" x2="1661"><stop offset="0" stop-color="#00caff"/><stop offset=".3191" stop-color="#00bcff"/><stop offset=".3224" stop-color="#22bcff"/><stop offset=".3257" stop-color="#35bcff"/><stop offset=".3306" stop-color="#48bbff"/><stop offset=".3405" stop-color="#63bbff"/><stop offset=".3569" stop-color="#83baff"/><stop offset=".3799" stop-color="#a5b8ff"/><stop offset=".4046" stop-color="#c3b6ff"/><stop offset=".4638" stop-color="#feb1ff"/><stop offset=".5016" stop-color="#ff99e1"/><stop offset=".5362" stop-color="#ff87cc"/><stop offset=".6135" stop-color="#ff68a9"/><stop offset=".7122" stop-color="#ff4789"/><stop offset=".801" stop-color="#ff2a73"/><stop offset=".8388" stop-color="#ff196a"/><stop offset=".852" stop-color="#ff1167"/><stop offset=".8701" stop-color="#ff0064"/><stop offset="1" stop-color="#ff0049"/></linearGradient>
<linearGradient id="g254" gradientUnits="userSpaceOnUse" x1="447" x2="1647"><stop offset="0" stop-color="#00c9ff"/><stop offset=".32" stop-color="#00baff"/><stop offset=".3217" stop-color="#15baff"/><stop offset=".3233" stop-color="#24baff"/><stop offset=".3267" stop-color="#36baff"/><stop offset=".33" stop-color="#43baff"/><stop offset=".3417" stop-color="#63b9ff"/><stop offset=".3583" stop-color="#83b8ff"/><stop offset=".3767" stop-color="#9eb6ff"/><stop offset=".4" stop-color="#bbb5ff"/><stop offset=".4383" stop-color="#e3b1ff"/><stop offset=".47" stop-color="#ffadfd"/><stop offset=".505" stop-color="#ff97e2"/><stop offset=".5417" stop-color="#ff85cc"/><stop offset=".6233" stop-color="#ff64a8"/><stop offset=".7217" stop-color="#ff4489"/><stop offset=".8183" stop-color="#ff2372"/><stop offset=".8533" stop-color="#ff106a"/><stop offset=".87" stop-color="#f06"/><stop offset="1" stop-color="#ff004c"/></linearGradient>
<linearGradient id="g255" gradientUnits="userSpaceOnUse" x1="449" x2="1635"><stop offset="0" stop-color="#00c7ff"/><stop offset=".3204" stop-color="#00b8ff"/><stop offset=".3221" stop-color="#18b8ff"/><stop offset=".3238" stop-color="#25b8ff"/><stop offset=".3272" stop-color="#37b8ff"/><stop offset=".3322" stop-color="#49b7ff"/><stop offset=".344" stop-color="#67b7ff"/><stop offset=".3575" stop-color="#80b6ff"/><stop offset=".3794" stop-color="#a0b4ff"/><stop offset=".4064" stop-color="#c0b2ff"/><stop offset=".4722" stop-color="#ffacfe"/><stop offset=".5059" stop-color="#ff97e4"/><stop offset=".5447" stop-color="#ff83cd"/><stop offset=".6189" stop-color="#ff66ac"/><stop offset=".7083" stop-color="#ff488f"/><stop offset=".8145" stop-color="#ff2475"/><stop offset=".8533" stop-color="#ff0f6c"/><stop offset=".8685" stop-color="#ff0069"/><stop offset="1" stop-color="#ff004f"/></linearGradient>
<linearGradient id="g256" gradientUnits="userSpaceOnUse" x1="451" x2="1621"><stop offset="0" stop-color="#00c6ff"/><stop offset=".3197" stop-color="#00b6ff"/><stop offset=".3214" stop-color="#04b6ff"/><stop offset=".3231" stop-color="#1ab6ff"/><stop offset=".3248" stop-color="#27b6ff"/><stop offset=".3316" stop-color="#44b6ff"/><stop offset=".3453" stop-color="#67b5ff"/><stop offset=".359" stop-color="#80b4ff"/><stop offset=".3761" stop-color="#99b2ff"/><stop offset=".4034" stop-color="#bab0ff"/><stop offset=".441" stop-color="#e0adff"/><stop offset=".4769" stop-color="#ffa9fe"/><stop offset=".5094" stop-color="#ff95e5"/><stop offset=".5504" stop-color="#ff81cd"/><stop offset=".6291" stop-color="#ff62ab"/><stop offset=".7214" stop-color="#ff448e"/><stop offset=".8171" stop-color="#ff2377"/><stop offset=".8462" stop-color="#ff1470"/><stop offset=".8684" stop-color="#ff006c"/><stop offset="1" stop-color="#ff0052"/></linearGradient>
<linearGradient id="g257" gradientUnits="userSpaceOnUse" x1="453" x2="1607"><stop offset="0" stop-color="#00c4ff"/><stop offset=".201" stop-color="#00bcff"/><stop offset=".3206" stop-color="#00b4ff"/><stop offset=".3224" stop-color="#09b4ff"/><stop offset=".3241" stop-color="#1cb4ff"/><stop offset=".3258" stop-color="#28b4ff"/><stop offset=".331" stop-color="#3fb4ff"/><stop offset=".3432" stop-color="#60b3ff"/><stop offset=".3588" stop-color="#7db2ff"/><stop offset=".3795" stop-color="#9bb0ff"/><stop offset=".4107" stop-color="#bfaeff"/><stop offset=".4801" stop-color="#ffa7ff"/><stop offset=".513" stop-color="#ff93e6"/><stop offset=".5563" stop-color="#ff7ecd"/><stop offset=".6205" stop-color="#ff65b1"/><stop offset=".7348" stop-color="#ff408d"/><stop offset=".8076" stop-color="#ff277c"/><stop offset=".8492" stop-color="#ff1272"/><stop offset=".87" stop-color="#ff006e"/><stop offset="1" stop-color="#f05"/></linearGradient>
<linearGradient id="g258" gradientUnits="userSpaceOnUse" x1="455" x2="1595"><stop offset="0" stop-color="#00c2ff"/><stop offset=".3211" stop-color="#00b3ff"/><stop offset=".3246" stop-color="#1eb2ff"/><stop offset=".3263" stop-color="#29b2ff"/><stop offset=".3333" stop-color="#45b2ff"/><stop offset=".3439" stop-color="#60b1ff"/><stop offset=".3596" stop-color="#7db0ff"/><stop offset=".3842" stop-color="#9faeff"/><stop offset=".4175" stop-color="#c4abff"/><stop offset=".4842" stop-color="#ffa4fe"/><stop offset=".514" stop-color="#ff92e8"/><stop offset=".5614" stop-color="#ff7ccd"/><stop offset=".6351" stop-color="#ff60ae"/><stop offset=".7211" stop-color="#ff4493"/><stop offset=".8158" stop-color="#ff237c"/><stop offset=".8491" stop-color="#ff1175"/><stop offset=".8684" stop-color="#ff0071"/><stop offset="1" stop-color="#ff0057"/></linearGradient>
<linearGradient id="g259" gradientUnits="userSpaceOnUse" x1="456" x2="1582"><stop offset="0" stop-color="#00c1ff"/><stop offset=".3215" stop-color="#00b1ff"/><stop offset=".3233" stop-color="#03b1ff"/><stop offset=".325" stop-color="#19b0ff"/><stop offset=".3268" stop-color="#26b0ff"/><stop offset=".3339" stop-color="#43b0ff"/><stop offset=".3464" stop-color="#62afff"/><stop offset=".3641" stop-color="#81aeff"/><stop offset=".389" stop-color="#a2acff"/><stop offset=".4156" stop-color="#bfa9ff"/><stop offset=".4565" stop-color="#e5a5ff"/><stop offset=".4885" stop-color="#ffa2ff"/><stop offset=".524" stop-color="#ff8de5"/><stop offset=".5595" stop-color="#ff7dd1"/><stop offset=".643" stop-color="#ff5dae"/><stop offset=".7496" stop-color="#ff3b8e"/><stop offset=".8082" stop-color="#ff2680"/><stop offset=".8455" stop-color="#ff1378"/><stop offset=".8668" stop-color="#ff0074"/><stop offset="1" stop-color="#ff005a"/></linearGradient>
<linearGradient id="g260" gradientUnits="userSpaceOnUse" x1="458" x2="1568"><stop offset="0" stop-color="#00bfff"/><stop offset=".3225" stop-color="#00afff"/><stop offset=".3243" stop-color="#07afff"/><stop offset=".3261" stop-color="#1baeff"/><stop offset=".3279" stop-color="#27aeff"/><stop offset=".3333" stop-color="#3eaeff"/><stop offset=".3369" stop-color="#49aeff"/><stop offset=".3477" stop-color="#62adff"/><stop offset=".3658" stop-color="#81abff"/><stop offset=".3838" stop-color="#9af"/><stop offset=".4216" stop-color="#c2a7ff"/><stop offset=".4486" stop-color="#dba4ff"/><stop offset=".4937" stop-color="#ff9ffe"/><stop offset=".5261" stop-color="#ff8de7"/><stop offset=".5658" stop-color="#ff7ad1"/><stop offset=".645" stop-color="#ff5db0"/><stop offset=".7369" stop-color="#ff3f94"/><stop offset=".8198" stop-color="#ff2180"/><stop offset=".8468" stop-color="#ff127b"/><stop offset=".8667" stop-color="#ff0076"/><stop offset="1" stop-color="#ff005d"/></linearGradient>
<linearGradient id="g261" gradientUnits="userSpaceOnUse" x1="460" x2="1556"><stop offset="0" stop-color="#00beff"/><stop offset=".323" stop-color="#00adff"/><stop offset=".3248" stop-color="#0cadff"/><stop offset=".3266" stop-color="#1dadff"/><stop offset=".3285" stop-color="#28acff"/><stop offset=".3358" stop-color="#44acff"/><stop offset=".3504" stop-color="#66abff"/><stop offset=".365" stop-color="#7eaaff"/><stop offset=".3869" stop-color="#9ba8ff"/><stop offset=".4197" stop-color="#bea5ff"/><stop offset=".4562" stop-color="#dfa1ff"/><stop offset=".4964" stop-color="#ff9dff"/><stop offset=".5274" stop-color="#ff8ce9"/><stop offset=".5712" stop-color="#ff78d1"/><stop offset=".6551" stop-color="#ff59af"/><stop offset=".7536" stop-color="#ff3992"/><stop offset=".8139" stop-color="#ff2384"/><stop offset=".8394" stop-color="#ff167e"/><stop offset=".865" stop-color="#ff0079"/><stop offset="1" stop-color="#ff0060"/></linearGradient>
<linearGradient id="g262" gradientUnits="userSpaceOnUse" x1="462" x2="1542"><stop offset="0" stop-color="#00bcff"/><stop offset=".3241" stop-color="#00abff"/><stop offset=".3278" stop-color="#1fabff"/><stop offset=".3296" stop-color="#2aaaff"/><stop offset=".337" stop-color="#45aaff"/><stop offset=".3481" stop-color="#5fa9ff"/><stop offset=".3667" stop-color="#7ea8ff"/><stop offset=".3926" stop-color="#9fa5ff"/><stop offset=".4185" stop-color="#baa3ff"/><stop offset=".4519" stop-color="#d8a0ff"/><stop offset=".5019" stop-color="#ff9afe"/><stop offset=".5315" stop-color="#ff8aea"/><stop offset=".5778" stop-color="#ff75d1"/><stop offset=".6519" stop-color="#ff5ab3"/><stop offset=".8019" stop-color="#ff2889"/><stop offset=".8426" stop-color="#ff1480"/><stop offset=".8648" stop-color="#ff007c"/><stop offset="1" stop-color="#ff0062"/></linearGradient>
<linearGradient id="g263" gradientUnits="userSpaceOnUse" x1="464" x2="1530"><stop offset="0" stop-color="#0bf"/><stop offset=".3246" stop-color="#00a9ff"/><stop offset=".3265" stop-color="#13a9ff"/><stop offset=".3283" stop-color="#21a9ff"/><stop offset=".3321" stop-color="#33a8ff"/><stop offset=".3358" stop-color="#40a8ff"/><stop offset=".349" stop-color="#5fa7ff"/><stop offset=".3677" stop-color="#7ea6ff"/><stop offset=".3865" stop-color="#96a4ff"/><stop offset=".424" stop-color="#bda1ff"/><stop offset=".5047" stop-color="#ff98ff"/><stop offset=".561" stop-color="#ff7cdc"/><stop offset=".6285" stop-color="#ff62be"/><stop offset=".6998" stop-color="#ff4aa6"/><stop offset=".8049" stop-color="#ff268b"/><stop offset=".8424" stop-color="#ff1383"/><stop offset=".863" stop-color="#ff007f"/><stop offset="1" stop-color="#ff0065"/></linearGradient>
<linearGradient id="g264" gradientUnits="userSpaceOnUse" x1="466" x2="1516"><stop offset="0" stop-color="#00b9ff"/><stop offset=".3257" stop-color="#00a7ff"/><stop offset=".3276" stop-color="#15a7ff"/><stop offset=".3295" stop-color="#22a7ff"/><stop offset=".3333" stop-color="#34a6ff"/><stop offset=".339" stop-color="#46a6ff"/><stop offset=".3524" stop-color="#63a5ff"/><stop offset=".3695" stop-color="#7ea4ff"/><stop offset=".3905" stop-color="#98a2ff"/><stop offset=".4305" stop-color="#c09eff"/><stop offset=".5105" stop-color="#ff95ff"/><stop offset=".5352" stop-color="#f8e"/><stop offset=".5733" stop-color="#ff77d9"/><stop offset=".6419" stop-color="#ff5dbc"/><stop offset=".72" stop-color="#ff44a3"/><stop offset=".8076" stop-color="#ff258d"/><stop offset=".8438" stop-color="#ff1285"/><stop offset=".8629" stop-color="#ff0081"/><stop offset="1" stop-color="#ff0068"/></linearGradient>
<linearGradient id="g265" gradientUnits="userSpaceOnUse" x1="468" x2="1504"><stop offset="0" stop-color="#00b8ff"/><stop offset=".3243" stop-color="#00a5ff"/><stop offset=".3263" stop-color="#01a5ff"/><stop offset=".3282" stop-color="#18a5ff"/><stop offset=".3301" stop-color="#24a5ff"/><stop offset=".334" stop-color="#35a5ff"/><stop offset=".3378" stop-color="#41a4ff"/><stop offset=".3533" stop-color="#63a3ff"/><stop offset=".3745" stop-color="#83a1ff"/><stop offset=".3958" stop-color="#9c9fff"/><stop offset=".4286" stop-color="#bc9cff"/><stop offset=".4903" stop-color="#ee96ff"/><stop offset=".5154" stop-color="#ff92fe"/><stop offset=".5811" stop-color="#ff74d8"/><stop offset=".6409" stop-color="#ff5dbf"/><stop offset=".7181" stop-color="#ff44a6"/><stop offset=".8012" stop-color="#ff2791"/><stop offset=".8359" stop-color="#ff1689"/><stop offset=".861" stop-color="#ff0084"/><stop offset="1" stop-color="#ff006a"/></linearGradient>
<linearGradient id="g266" gradientUnits="userSpaceOnUse" x1="470" x2="1490"><stop offset="0" stop-color="#00b6ff"/><stop offset=".1902" stop-color="#00adff"/><stop offset=".3255" stop-color="#00a3ff"/><stop offset=".3275" stop-color="#05a3ff"/><stop offset=".3294" stop-color="#1aa3ff"/><stop offset=".3333" stop-color="#2ea3ff"/><stop offset=".3412" stop-color="#47a2ff"/><stop offset=".3549" stop-color="#63a1ff"/><stop offset=".3706" stop-color="#7ba0ff"/><stop offset=".3882" stop-color="#919eff"/><stop offset=".4353" stop-color="#bf9aff"/><stop offset=".5196" stop-color="#ff90ff"/><stop offset=".5529" stop-color="#ff80ea"/><stop offset=".5902" stop-color="#ff70d7"/><stop offset=".6549" stop-color="#ff59bd"/><stop offset=".7392" stop-color="#ff3da3"/><stop offset=".8059" stop-color="#ff2593"/><stop offset=".8373" stop-color="#ff158c"/><stop offset=".8608" stop-color="#ff0087"/><stop offset="1" stop-color="#ff006d"/></linearGradient>
<linearGradient id="g267" gradientUnits="userSpaceOnUse" x1="472" x2="1478"><stop offset="0" stop-color="#00b4ff"/><stop offset=".1948" stop-color="#00abff"/><stop offset=".326" stop-color="#00a1ff"/><stop offset=".328" stop-color="#09a1ff"/><stop offset=".33" stop-color="#1ca1ff"/><stop offset=".332" stop-color="#27a1ff"/><stop offset=".34" stop-color="#42a0ff"/><stop offset=".3539" stop-color="#609fff"/><stop offset=".3718" stop-color="#7b9eff"/><stop offset=".3917" stop-color="#939cff"/><stop offset=".4274" stop-color="#b698ff"/><stop offset=".4811" stop-color="#e193ff"/><stop offset=".5249" stop-color="#ff8dff"/><stop offset=".5547" stop-color="#ff7fec"/><stop offset=".5984" stop-color="#ff6dd6"/><stop offset=".668" stop-color="#ff54bb"/><stop offset=".7376" stop-color="#ff3da6"/><stop offset=".8111" stop-color="#ff2294"/><stop offset=".837" stop-color="#ff148e"/><stop offset=".8588" stop-color="#ff008a"/><stop offset="1" stop-color="#ff0070"/></linearGradient>
<linearGradient id="g268" gradientUnits="userSpaceOnUse" x1="474" x2="1464"><stop offset="0" stop-color="#00b3ff"/><stop offset=".3273" stop-color="#00a0ff"/><stop offset=".3313" stop-color="#1d9fff"/><stop offset=".3333" stop-color="#289fff"/><stop offset=".3414" stop-color="#439eff"/><stop offset=".3515" stop-color="#599eff"/><stop offset=".3737" stop-color="#7b9cff"/><stop offset=".398" stop-color="#9799ff"/><stop offset=".4343" stop-color="#b996ff"/><stop offset=".4747" stop-color="#d991ff"/><stop offset=".5313" stop-color="#ff8afe"/><stop offset=".5556" stop-color="#ff7eef"/><stop offset=".6061" stop-color="#ff6ad6"/><stop offset=".6626" stop-color="#ff56c0"/><stop offset=".7374" stop-color="#ff3da9"/><stop offset=".802" stop-color="#ff2699"/><stop offset=".8384" stop-color="#ff1391"/><stop offset=".8586" stop-color="#ff008d"/><stop offset="1" stop-color="#ff0073"/></linearGradient>
<linearGradient id="g269" gradientUnits="userSpaceOnUse" x1="477" x2="1451"><stop offset="0" stop-color="#00b1ff"/><stop offset=".3265" stop-color="#009eff"/><stop offset=".3285" stop-color="#049eff"/><stop offset=".3306" stop-color="#199dff"/><stop offset=".3347" stop-color="#2d9dff"/><stop offset=".3429" stop-color="#469cff"/><stop offset=".3532" stop-color="#5b9cff"/><stop offset=".3717" stop-color="#779aff"/><stop offset=".4045" stop-color="#9c97ff"/><stop offset=".4333" stop-color="#b694ff"/><stop offset=".4867" stop-color="#df8eff"/><stop offset=".5359" stop-color="#ff87fe"/><stop offset=".6057" stop-color="#ff6ad9"/><stop offset=".6735" stop-color="#ff52bf"/><stop offset=".8008" stop-color="#ff269c"/><stop offset=".8357" stop-color="#ff1494"/><stop offset=".8583" stop-color="#ff008f"/><stop offset="1" stop-color="#ff0075"/></linearGradient>
<linearGradient id="g270" gradientUnits="userSpaceOnUse" x1="479" x2="1439"><stop offset="0" stop-color="#00b0ff"/><stop offset=".3271" stop-color="#009cff"/><stop offset=".3292" stop-color="#089cff"/><stop offset=".3312" stop-color="#1b9bff"/><stop offset=".3333" stop-color="#269bff"/><stop offset=".3417" stop-color="#419bff"/><stop offset=".3542" stop-color="#5b9aff"/><stop offset=".3729" stop-color="#7798ff"/><stop offset=".3937" stop-color="#8f96ff"/><stop offset=".4396" stop-color="#b991ff"/><stop offset=".4833" stop-color="#da8dff"/><stop offset=".5396" stop-color="#ff85ff"/><stop offset=".6146" stop-color="#ff66d8"/><stop offset=".6667" stop-color="#ff54c4"/><stop offset=".7417" stop-color="#ff3bad"/><stop offset=".8104" stop-color="#ff219c"/><stop offset=".8354" stop-color="#ff1397"/><stop offset=".8562" stop-color="#ff0092"/><stop offset="1" stop-color="#ff0078"/></linearGradient>
<linearGradient id="g271" gradientUnits="userSpaceOnUse" x1="481" x2="1425"><stop offset="0" stop-color="#00aeff"/><stop offset=".3284" stop-color="#009aff"/><stop offset=".3305" stop-color="#0c9aff"/><stop offset=".3326" stop-color="#1d9aff"/><stop offset=".3347" stop-color="#2799ff"/><stop offset=".339" stop-color="#3699ff"/><stop offset=".3453" stop-color="#4799ff"/><stop offset=".3581" stop-color="#5f97ff"/><stop offset=".3835" stop-color="#8195ff"/><stop offset=".4216" stop-color="#a791ff"/><stop offset=".4576" stop-color="#c48eff"/><stop offset=".5466" stop-color="#ff82ff"/><stop offset=".5678" stop-color="#ff79f2"/><stop offset=".6229" stop-color="#ff63d8"/><stop offset=".6674" stop-color="#ff54c7"/><stop offset=".7966" stop-color="#ff27a2"/><stop offset=".8305" stop-color="#ff169b"/><stop offset=".8559" stop-color="#ff0095"/><stop offset="1" stop-color="#ff007b"/></linearGradient>
<linearGradient id="g272" gradientUnits="userSpaceOnUse" x1="483" x2="1413"><stop offset="0" stop-color="#00acff"/><stop offset=".1828" stop-color="#00a3ff"/><stop offset=".329" stop-color="#0098ff"/><stop offset=".3333" stop-color="#1e98ff"/><stop offset=".3355" stop-color="#2897ff"/><stop offset=".3398" stop-color="#3797ff"/><stop offset=".3484" stop-color="#4c96ff"/><stop offset=".3591" stop-color="#5f95ff"/><stop offset=".3849" stop-color="#8193ff"/><stop offset=".4172" stop-color="#a190ff"/><stop offset=".4581" stop-color="#c28cff"/><stop offset=".5183" stop-color="#eb84ff"/><stop offset=".5527" stop-color="#ff7ffe"/><stop offset=".6086" stop-color="#ff68e1"/><stop offset=".6667" stop-color="#ff53ca"/><stop offset=".7849" stop-color="#ff2ba8"/><stop offset=".8301" stop-color="#ff159d"/><stop offset=".8538" stop-color="#ff0098"/><stop offset="1" stop-color="#ff007d"/></linearGradient>
<linearGradient id="g273" gradientUnits="userSpaceOnUse" x1="485" x2="1399"><stop offset="0" stop-color="#00abff"/><stop offset=".3304" stop-color="#0096ff"/><stop offset=".3348" stop-color="#2096ff"/><stop offset=".3392" stop-color="#3195ff"/><stop offset=".3457" stop-color="#4395ff"/><stop offset=".3611" stop-color="#5f93ff"/><stop offset=".3873" stop-color="#8191ff"/><stop offset=".4289" stop-color="#a88dff"/><stop offset=".453" stop-color="#bb8aff"/><stop offset=".4989" stop-color="#db85ff"/><stop offset=".558" stop-color="#ff7dff"/><stop offset=".5908" stop-color="#ff6fed"/><stop offset=".6543" stop-color="#ff58d2"/><stop offset=".7374" stop-color="#ff3cb7"/><stop offset=".7899" stop-color="#ff29aa"/><stop offset=".8315" stop-color="#ff14a0"/><stop offset=".8534" stop-color="#ff009b"/><stop offset="1" stop-color="#ff0080"/></linearGradient>
<linearGradient id="g274" gradientUnits="userSpaceOnUse" x1="487" x2="1385"><stop offset="0" stop-color="#00a9ff"/><stop offset=".1425" stop-color="#00a2ff"/><stop offset=".3318" stop-color="#0094ff"/><stop offset=".3341" stop-color="#1594ff"/><stop offset=".3363" stop-color="#2194ff"/><stop offset=".3385" stop-color="#2b94ff"/><stop offset=".3452" stop-color="#3e93ff"/><stop offset=".3608" stop-color="#5c92ff"/><stop offset=".3853" stop-color="#7c8fff"/><stop offset=".4298" stop-color="#a68bff"/><stop offset=".4543" stop-color="#b988ff"/><stop offset=".5011" stop-color="#d983ff"/><stop offset=".5657" stop-color="#ff7aff"/><stop offset=".5924" stop-color="#ff6ff0"/><stop offset=".6526" stop-color="#ff58d6"/><stop offset=".7795" stop-color="#ff2daf"/><stop offset=".8263" stop-color="#ff17a4"/><stop offset=".853" stop-color="#ff009e"/><stop offset="1" stop-color="#ff0083"/></linearGradient>
<linearGradient id="g275" gradientUnits="userSpaceOnUse" x1="489" x2="1373"><stop offset="0" stop-color="#00a7ff"/><stop offset=".1946" stop-color="#009dff"/><stop offset=".3303" stop-color="#0092ff"/><stop offset=".3326" stop-color="#0292ff"/><stop offset=".3348" stop-color="#1792ff"/><stop offset=".3394" stop-color="#2c92ff"/><stop offset=".3484" stop-color="#4491ff"/><stop offset=".3688" stop-color="#668fff"/><stop offset=".3869" stop-color="#7c8dff"/><stop offset=".4276" stop-color="#a289ff"/><stop offset=".4661" stop-color="#bf85ff"/><stop offset=".5701" stop-color="#f7f"/><stop offset=".6742" stop-color="#ff51d1"/><stop offset=".7828" stop-color="#ff2bb1"/><stop offset=".8213" stop-color="#ff19a8"/><stop offset=".8371" stop-color="#ff0ea5"/><stop offset=".8507" stop-color="#ff00a2"/><stop offset="1" stop-color="#ff0086"/></linearGradient>
<linearGradient id="g276" gradientUnits="userSpaceOnUse" x1="492" x2="1360"><stop offset="0" stop-color="#00a6ff"/><stop offset=".182" stop-color="#009cff"/><stop offset=".3318" stop-color="#0090ff"/><stop offset=".3341" stop-color="#1290ff"/><stop offset=".3364" stop-color="#1f90ff"/><stop offset=".3387" stop-color="#2990ff"/><stop offset=".3456" stop-color="#3d8fff"/><stop offset=".3641" stop-color="#5e8eff"/><stop offset=".3894" stop-color="#7d8bff"/><stop offset=".424" stop-color="#9d88ff"/><stop offset=".4608" stop-color="#b984ff"/><stop offset=".5115" stop-color="#da7eff"/><stop offset=".576" stop-color="#ff74ff"/><stop offset=".6636" stop-color="#ff54d8"/><stop offset=".7765" stop-color="#ff2db6"/><stop offset=".818" stop-color="#ff1aac"/><stop offset=".8318" stop-color="#ff11a9"/><stop offset=".8502" stop-color="#ff00a5"/><stop offset="1" stop-color="#f08"/></linearGradient>
<linearGradient id="g277" gradientUnits="userSpaceOnUse" x1="494" x2="1346"><stop offset="0" stop-color="#00a4ff"/><stop offset=".1854" stop-color="#009aff"/><stop offset=".3333" stop-color="#008eff"/><stop offset=".3357" stop-color="#148eff"/><stop offset=".338" stop-color="#218eff"/><stop offset=".3474" stop-color="#3d8dff"/><stop offset=".3638" stop-color="#5b8cff"/><stop offset=".392" stop-color="#7d89ff"/><stop offset=".4225" stop-color="#9986ff"/><stop offset=".4624" stop-color="#b782ff"/><stop offset=".5141" stop-color="#d87bff"/><stop offset=".5845" stop-color="#ff71ff"/><stop offset=".6761" stop-color="#ff50d7"/><stop offset=".7887" stop-color="#ff28b6"/><stop offset=".8286" stop-color="#ff13ac"/><stop offset=".8498" stop-color="#ff00a8"/><stop offset="1" stop-color="#ff008c"/></linearGradient>
<linearGradient id="g278" gradientUnits="userSpaceOnUse" x1="496" x2="1334"><stop offset="0" stop-color="#00a2ff"/><stop offset=".3341" stop-color="#018dff"/><stop offset=".3365" stop-color="#168cff"/><stop offset=".3389" stop-color="#228cff"/><stop offset=".3437" stop-color="#328cff"/><stop offset=".3508" stop-color="#438bff"/><stop offset=".3652" stop-color="#5b8aff"/><stop offset=".3938" stop-color="#7d87ff"/><stop offset=".4368" stop-color="#a283ff"/><stop offset=".4797" stop-color="#c07eff"/><stop offset=".5274" stop-color="#dd78ff"/><stop offset=".5919" stop-color="#ff6eff"/><stop offset=".685" stop-color="#ff4cd7"/><stop offset=".7613" stop-color="#ff32c0"/><stop offset=".8019" stop-color="#ff21b6"/><stop offset=".8305" stop-color="#ff10af"/><stop offset=".8473" stop-color="#ff00ab"/><stop offset="1" stop-color="#ff008e"/></linearGradient>
<linearGradient id="g279" gradientUnits="userSpaceOnUse" x1="498" x2="1320"><stop offset="0" stop-color="#00a1ff"/><stop offset=".3333" stop-color="#008bff"/><stop offset=".3358" stop-color="#058bff"/><stop offset=".3382" stop-color="#188aff"/><stop offset=".3406" stop-color="#238aff"/><stop offset=".3479" stop-color="#398aff"/><stop offset=".365" stop-color="#5888ff"/><stop offset=".3917" stop-color="#7885ff"/><stop offset=".438" stop-color="#a081ff"/><stop offset=".4818" stop-color="#be7cff"/><stop offset=".5985" stop-color="#ff6bff"/><stop offset=".6813" stop-color="#ff4ddc"/><stop offset=".7932" stop-color="#ff25bb"/><stop offset=".8248" stop-color="#ff14b3"/><stop offset=".8467" stop-color="#ff00ae"/><stop offset="1" stop-color="#ff0091"/></linearGradient>
<linearGradient id="g280" gradientUnits="userSpaceOnUse" x1="501" x2="1307"><stop offset="0" stop-color="#009fff"/><stop offset=".335" stop-color="#0089ff"/><stop offset=".3375" stop-color="#1389ff"/><stop offset=".3424" stop-color="#2988ff"/><stop offset=".3474" stop-color="#3788ff"/><stop offset=".3548" stop-color="#4687ff"/><stop offset=".3697" stop-color="#5d86ff"/><stop offset=".3995" stop-color="#7e83ff"/><stop offset=".4367" stop-color="#9d7fff"/><stop offset=".4715" stop-color="#b57bff"/><stop offset=".5285" stop-color="#d774ff"/><stop offset=".6055" stop-color="#ff68ff"/><stop offset=".7022" stop-color="#ff46d8"/><stop offset=".7916" stop-color="#ff25bf"/><stop offset=".8213" stop-color="#ff15b7"/><stop offset=".8437" stop-color="#ff00b2"/><stop offset="1" stop-color="#ff0094"/></linearGradient>
<linearGradient id="g281" gradientUnits="userSpaceOnUse" x1="503" x2="1295"><stop offset="0" stop-color="#009dff"/><stop offset=".3359" stop-color="#0087ff"/><stop offset=".3384" stop-color="#1587ff"/><stop offset=".3409" stop-color="#2186ff"/><stop offset=".346" stop-color="#3186ff"/><stop offset=".3535" stop-color="#4285ff"/><stop offset=".3687" stop-color="#5a84ff"/><stop offset=".4015" stop-color="#7e81ff"/><stop offset=".4343" stop-color="#997dff"/><stop offset=".4899" stop-color="#be77ff"/><stop offset=".6136" stop-color="#ff65ff"/><stop offset=".697" stop-color="#ff47dd"/><stop offset=".7778" stop-color="#ff2ac5"/><stop offset=".8157" stop-color="#ff17bc"/><stop offset=".8434" stop-color="#ff00b5"/><stop offset="1" stop-color="#ff0097"/></linearGradient>
<linearGradient id="g282" gradientUnits="userSpaceOnUse" x1="505" x2="1281"><stop offset="0" stop-color="#009bff"/><stop offset=".1856" stop-color="#0091ff"/><stop offset=".3351" stop-color="#0085ff"/><stop offset=".3376" stop-color="#0485ff"/><stop offset=".3402" stop-color="#1885ff"/><stop offset=".3454" stop-color="#2b84ff"/><stop offset=".3582" stop-color="#4783ff"/><stop offset=".3711" stop-color="#5a82ff"/><stop offset=".4072" stop-color="#807eff"/><stop offset=".4485" stop-color="#a07aff"/><stop offset=".4923" stop-color="#bc75ff"/><stop offset=".5541" stop-color="#de6cff"/><stop offset=".6237" stop-color="#ff61ff"/><stop offset=".6907" stop-color="#ff49e3"/><stop offset=".7887" stop-color="#ff25c6"/><stop offset=".817" stop-color="#ff16bf"/><stop offset=".8428" stop-color="#ff00b9"/><stop offset="1" stop-color="#ff009a"/></linearGradient>
<linearGradient id="g283" gradientUnits="userSpaceOnUse" x1="507" x2="1269"><stop offset="0" stop-color="#009aff"/><stop offset=".336" stop-color="#0083ff"/><stop offset=".3386" stop-color="#0883ff"/><stop offset=".3412" stop-color="#1983ff"/><stop offset=".3438" stop-color="#2482ff"/><stop offset=".3491" stop-color="#3382ff"/><stop offset=".357" stop-color="#4381ff"/><stop offset=".378" stop-color="#617fff"/><stop offset=".4094" stop-color="#807cff"/><stop offset=".4488" stop-color="#9e78ff"/><stop offset=".4882" stop-color="#b773ff"/><stop offset=".5407" stop-color="#d46cff"/><stop offset=".6299" stop-color="#ff5eff"/><stop offset=".7034" stop-color="#ff44e2"/><stop offset=".7795" stop-color="#ff28cb"/><stop offset=".811" stop-color="#ff18c3"/><stop offset=".8399" stop-color="#ff00bc"/><stop offset="1" stop-color="#ff009d"/></linearGradient>
<linearGradient id="g284" gradientUnits="userSpaceOnUse" x1="510" x2="1256"><stop offset="0" stop-color="#0098ff"/><stop offset=".3378" stop-color="#0081ff"/><stop offset=".3405" stop-color="#1581ff"/><stop offset=".3432" stop-color="#2181ff"/><stop offset=".3512" stop-color="#3780ff"/><stop offset=".3592" stop-color="#467fff"/><stop offset=".3727" stop-color="#597eff"/><stop offset=".3887" stop-color="#6b7cff"/><stop offset=".4129" stop-color="#817aff"/><stop offset=".4477" stop-color="#9b76ff"/><stop offset=".5013" stop-color="#bc70ff"/><stop offset=".6381" stop-color="#ff5aff"/><stop offset=".7051" stop-color="#ff43e5"/><stop offset=".7802" stop-color="#ff27cf"/><stop offset=".8123" stop-color="#ff16c6"/><stop offset=".8365" stop-color="#ff00c1"/><stop offset="1" stop-color="#ff00a0"/></linearGradient>
<linearGradient id="g285" gradientUnits="userSpaceOnUse" x1="512" x2="1242"><stop offset="0" stop-color="#0096ff"/><stop offset=".1918" stop-color="#008bff"/><stop offset=".337" stop-color="#007fff"/><stop offset=".3397" stop-color="#037fff"/><stop offset=".3425" stop-color="#177fff"/><stop offset=".3479" stop-color="#2a7eff"/><stop offset=".3562" stop-color="#3d7eff"/><stop offset=".3616" stop-color="#467dff"/><stop offset=".3753" stop-color="#597cff"/><stop offset=".3918" stop-color="#6b7aff"/><stop offset=".4164" stop-color="#8178ff"/><stop offset=".4493" stop-color="#9974ff"/><stop offset=".5151" stop-color="#c06cff"/><stop offset=".6493" stop-color="#ff57ff"/><stop offset=".7233" stop-color="#ff3ce3"/><stop offset=".7863" stop-color="#ff24d1"/><stop offset=".8055" stop-color="#ff1acc"/><stop offset=".8219" stop-color="#ff0ec8"/><stop offset=".8356" stop-color="#ff00c4"/><stop offset="1" stop-color="#ff00a4"/></linearGradient>
<linearGradient id="g286" gradientUnits="userSpaceOnUse" x1="515" x2="1229"><stop offset="0" stop-color="#0094ff"/><stop offset=".1933" stop-color="#0089ff"/><stop offset=".3389" stop-color="#007dff"/><stop offset=".3417" stop-color="#127dff"/><stop offset=".3473" stop-color="#277cff"/><stop offset=".3557" stop-color="#3b7cff"/><stop offset=".3641" stop-color="#497bff"/><stop offset=".3894" stop-color="#6778ff"/><stop offset=".4202" stop-color="#8275ff"/><stop offset=".4622" stop-color="#9f71ff"/><stop offset=".5322" stop-color="#c668ff"/><stop offset=".6583" stop-color="#ff53ff"/><stop offset=".7255" stop-color="#ff3be6"/><stop offset=".7843" stop-color="#ff24d5"/><stop offset=".8067" stop-color="#ff18cf"/><stop offset=".8347" stop-color="#ff00c8"/><stop offset="1" stop-color="#ff00a7"/></linearGradient>
<linearGradient id="g287" gradientUnits="userSpaceOnUse" x1="517" x2="1217"><stop offset="0" stop-color="#0092ff"/><stop offset=".1657" stop-color="#0089ff"/><stop offset=".34" stop-color="#007bff"/><stop offset=".3429" stop-color="#147bff"/><stop offset=".3486" stop-color="#297aff"/><stop offset=".3629" stop-color="#4579ff"/><stop offset=".3771" stop-color="#5878ff"/><stop offset=".4114" stop-color="#7974ff"/><stop offset=".4486" stop-color="#9470ff"/><stop offset=".5029" stop-color="#b46aff"/><stop offset=".5714" stop-color="#d660ff"/><stop offset=".6571" stop-color="#fb51ff"/><stop offset=".6686" stop-color="#ff4fff"/><stop offset=".7771" stop-color="#ff26da"/><stop offset=".8" stop-color="#ff1ad4"/><stop offset=".8314" stop-color="#f0c"/><stop offset="1" stop-color="#f0a"/></linearGradient>
<linearGradient id="g288" gradientUnits="userSpaceOnUse" x1="519" x2="1203"><stop offset="0" stop-color="#0091ff"/><stop offset=".3392" stop-color="#0079ff"/><stop offset=".3421" stop-color="#0279ff"/><stop offset=".345" stop-color="#1679ff"/><stop offset=".3509" stop-color="#2a78ff"/><stop offset=".3626" stop-color="#4177ff"/><stop offset=".3772" stop-color="#5576ff"/><stop offset=".3977" stop-color="#6a74ff"/><stop offset=".4298" stop-color="#8470ff"/><stop offset=".4766" stop-color="#a26bff"/><stop offset=".5292" stop-color="#be65ff"/><stop offset=".6784" stop-color="#ff4bff"/><stop offset=".7807" stop-color="#ff24dd"/><stop offset=".8099" stop-color="#ff13d6"/><stop offset=".8304" stop-color="#ff00d0"/><stop offset="1" stop-color="#ff00ae"/></linearGradient>
<linearGradient id="g289" gradientUnits="userSpaceOnUse" x1="522" x2="1190"><stop offset="0" stop-color="#008fff"/><stop offset=".3413" stop-color="#07f"/><stop offset=".3473" stop-color="#1e77ff"/><stop offset=".3533" stop-color="#2e76ff"/><stop offset=".3623" stop-color="#3f75ff"/><stop offset=".3832" stop-color="#5a73ff"/><stop offset=".4192" stop-color="#7a70ff"/><stop offset=".4641" stop-color="#986bff"/><stop offset=".5269" stop-color="#ba63ff"/><stop offset=".6737" stop-color="#f94aff"/><stop offset=".6916" stop-color="#ff46fe"/><stop offset=".7784" stop-color="#ff24e2"/><stop offset=".8114" stop-color="#ff10d9"/><stop offset=".8263" stop-color="#ff00d5"/><stop offset="1" stop-color="#ff00b1"/></linearGradient>
<linearGradient id="g290" gradientUnits="userSpaceOnUse" x1="524" x2="1178"><stop offset="0" stop-color="#008dff"/><stop offset=".3425" stop-color="#0075ff"/><stop offset=".3456" stop-color="#1375ff"/><stop offset=".3517" stop-color="#2874ff"/><stop offset=".367" stop-color="#4473ff"/><stop offset=".3823" stop-color="#5771ff"/><stop offset=".422" stop-color="#7a6dff"/><stop offset=".4648" stop-color="#9669ff"/><stop offset=".5046" stop-color="#ac64ff"/><stop offset=".5566" stop-color="#c55dff"/><stop offset=".6575" stop-color="#ef4bff"/><stop offset=".7003" stop-color="#ff42ff"/><stop offset=".7645" stop-color="#ff29ea"/><stop offset=".8043" stop-color="#ff13de"/><stop offset=".8226" stop-color="#ff00da"/><stop offset=".9205" stop-color="#ff00c3"/><stop offset="1" stop-color="#ff00b5"/></linearGradient>
<linearGradient id="g291" gradientUnits="userSpaceOnUse" x1="527" x2="1165"><stop offset="0" stop-color="#008bff"/><stop offset=".3417" stop-color="#0073ff"/><stop offset=".348" stop-color="#1b73ff"/><stop offset=".3511" stop-color="#2572ff"/><stop offset=".3574" stop-color="#3372ff"/><stop offset=".3668" stop-color="#4271ff"/><stop offset=".3856" stop-color="#596fff"/><stop offset=".4169" stop-color="#746cff"/><stop offset=".4671" stop-color="#9566ff"/><stop offset=".5141" stop-color="#ae61ff"/><stop offset=".6364" stop-color="#e34eff"/><stop offset=".7116" stop-color="#ff3dff"/><stop offset=".7806" stop-color="#ff20e9"/><stop offset=".8025" stop-color="#ff12e3"/><stop offset=".8213" stop-color="#ff00de"/><stop offset="1" stop-color="#ff00b8"/></linearGradient>
<linearGradient id="g292" gradientUnits="userSpaceOnUse" x1="530" x2="1150"><stop offset="0" stop-color="#0089ff"/><stop offset=".3419" stop-color="#0071ff"/><stop offset=".3452" stop-color="#0571ff"/><stop offset=".3484" stop-color="#1771ff"/><stop offset=".3516" stop-color="#2270ff"/><stop offset=".3645" stop-color="#3c6fff"/><stop offset=".3839" stop-color="#546dff"/><stop offset=".4065" stop-color="#696bff"/><stop offset=".429" stop-color="#7a69ff"/><stop offset=".4839" stop-color="#9b63ff"/><stop offset=".5387" stop-color="#b65cff"/><stop offset=".6097" stop-color="#d451ff"/><stop offset=".6774" stop-color="#ed44ff"/><stop offset=".7258" stop-color="#ff37ff"/><stop offset=".7355" stop-color="#ff34fc"/><stop offset=".7806" stop-color="#ff20ee"/><stop offset=".8" stop-color="#ff14e8"/><stop offset=".8194" stop-color="#ff00e3"/><stop offset=".8935" stop-color="#ff00d1"/><stop offset="1" stop-color="#ff00bd"/></linearGradient>
<linearGradient id="g293" gradientUnits="userSpaceOnUse" x1="532" x2="1138"><stop offset="0" stop-color="#0087ff"/><stop offset=".3432" stop-color="#006fff"/><stop offset=".3465" stop-color="#096fff"/><stop offset=".3498" stop-color="#196eff"/><stop offset=".3531" stop-color="#236eff"/><stop offset=".363" stop-color="#376dff"/><stop offset=".3828" stop-color="#516bff"/><stop offset=".4092" stop-color="#6969ff"/><stop offset=".4356" stop-color="#7c66ff"/><stop offset=".4851" stop-color="#9960ff"/><stop offset=".5545" stop-color="#ba57ff"/><stop offset=".6106" stop-color="#d14fff"/><stop offset=".6898" stop-color="#ee3fff"/><stop offset=".7393" stop-color="#ff31ff"/><stop offset=".7921" stop-color="#ff17ef"/><stop offset=".8185" stop-color="#ff00e7"/><stop offset=".901" stop-color="#ff00d3"/><stop offset="1" stop-color="#ff00c0"/></linearGradient>
<linearGradient id="g294" gradientUnits="userSpaceOnUse" x1="535" x2="1125"><stop offset="0" stop-color="#0085ff"/><stop offset=".3424" stop-color="#006dff"/><stop offset=".3458" stop-color="#016dff"/><stop offset=".3492" stop-color="#146cff"/><stop offset=".3559" stop-color="#286cff"/><stop offset=".3695" stop-color="#3f6bff"/><stop offset=".3864" stop-color="#5369ff"/><stop offset=".4169" stop-color="#6d66ff"/><stop offset=".4881" stop-color="#985eff"/><stop offset=".6068" stop-color="#cc4dff"/><stop offset=".6814" stop-color="#e73fff"/><stop offset=".7458" stop-color="#fd2dff"/><stop offset=".7932" stop-color="#ff14f3"/><stop offset=".8136" stop-color="#ff00ed"/><stop offset=".9017" stop-color="#ff00d7"/><stop offset="1" stop-color="#ff00c4"/></linearGradient>
<linearGradient id="g295" gradientUnits="userSpaceOnUse" x1="538" x2="1112"><stop offset="0" stop-color="#0083ff"/><stop offset=".3449" stop-color="#006bff"/><stop offset=".3519" stop-color="#1c6aff"/><stop offset=".3624" stop-color="#3369ff"/><stop offset=".3833" stop-color="#4e67ff"/><stop offset=".4077" stop-color="#6465ff"/><stop offset=".4739" stop-color="#8e5eff"/><stop offset=".5749" stop-color="#bc50ff"/><stop offset=".6899" stop-color="#e63bff"/><stop offset=".7422" stop-color="#f72cff"/><stop offset=".7666" stop-color="#f2f"/><stop offset=".7909" stop-color="#ff13f8"/><stop offset=".8084" stop-color="#ff01f3"/><stop offset=".8118" stop-color="#ff00f2"/><stop offset=".885" stop-color="#ff00df"/><stop offset="1" stop-color="#ff00c8"/></linearGradient>
<linearGradient id="g296" gradientUnits="userSpaceOnUse" x1="540" x2="1098"><stop offset="0" stop-color="#0081ff"/><stop offset=".2366" stop-color="#0072ff"/><stop offset=".3477" stop-color="#0068ff"/><stop offset=".3513" stop-color="#1268ff"/><stop offset=".3548" stop-color="#1e68ff"/><stop offset=".3656" stop-color="#3467ff"/><stop offset=".3871" stop-color="#4e65ff"/><stop offset=".4122" stop-color="#6462ff"/><stop offset=".4767" stop-color="#8c5bff"/><stop offset=".5699" stop-color="#b64fff"/><stop offset=".6953" stop-color="#e338ff"/><stop offset=".7563" stop-color="#f625ff"/><stop offset=".7849" stop-color="#ff16ff"/><stop offset=".8065" stop-color="#ff01f9"/><stop offset=".81" stop-color="#ff00f8"/><stop offset=".8889" stop-color="#ff00e3"/><stop offset="1" stop-color="#ff00cd"/></linearGradient>
<linearGradient id="g297" gradientUnits="userSpaceOnUse" x1="543" x2="1085"><stop offset="0" stop-color="#007fff"/><stop offset=".3469" stop-color="#06f"/><stop offset=".3579" stop-color="#2465ff"/><stop offset=".369" stop-color="#3764ff"/><stop offset=".3838" stop-color="#4963ff"/><stop offset=".4096" stop-color="#6060ff"/><stop offset=".476" stop-color="#8959ff"/><stop offset=".5756" stop-color="#b54cff"/><stop offset=".6642" stop-color="#d43dff"/><stop offset=".7306" stop-color="#ea2cff"/><stop offset=".7601" stop-color="#f321ff"/><stop offset=".7823" stop-color="#fa15ff"/><stop offset=".8044" stop-color="#ff00fe"/><stop offset=".9041" stop-color="#ff00e4"/><stop offset="1" stop-color="#ff00d1"/></linearGradient>
<linearGradient id="g298" gradientUnits="userSpaceOnUse" x1="546" x2="1072"><stop offset="0" stop-color="#007cff"/><stop offset=".2053" stop-color="#0070ff"/><stop offset=".346" stop-color="#0064ff"/><stop offset=".3498" stop-color="#0364ff"/><stop offset=".3536" stop-color="#1664ff"/><stop offset=".3612" stop-color="#2863ff"/><stop offset=".3688" stop-color="#3562ff"/><stop offset=".3916" stop-color="#4f60ff"/><stop offset=".4183" stop-color="#645dff"/><stop offset=".4753" stop-color="#8657ff"/><stop offset=".5741" stop-color="#b14aff"/><stop offset=".654" stop-color="#cd3dff"/><stop offset=".7262" stop-color="#e42bff"/><stop offset=".7757" stop-color="#f316ff"/><stop offset=".7871" stop-color="#f60eff"/><stop offset=".7985" stop-color="#f901ff"/><stop offset=".8023" stop-color="#fb00ff"/><stop offset=".8175" stop-color="#f0f"/><stop offset=".8897" stop-color="#ff00ec"/><stop offset="1" stop-color="#ff00d5"/></linearGradient>
<linearGradient id="g299" gradientUnits="userSpaceOnUse" x1="549" x2="1059"><stop offset="0" stop-color="#007aff"/><stop offset=".349" stop-color="#0062ff"/><stop offset=".3529" stop-color="#1162ff"/><stop offset=".3569" stop-color="#1d61ff"/><stop offset=".3647" stop-color="#2d60ff"/><stop offset=".3765" stop-color="#3d5fff"/><stop offset=".3961" stop-color="#515dff"/><stop offset=".4196" stop-color="#635bff"/><stop offset=".4667" stop-color="#7f56ff"/><stop offset=".549" stop-color="#a44cff"/><stop offset=".6431" stop-color="#c53dff"/><stop offset=".7255" stop-color="#df29ff"/><stop offset=".7725" stop-color="#ed15ff"/><stop offset=".7961" stop-color="#f400ff"/><stop offset=".8353" stop-color="#f0f"/><stop offset=".902" stop-color="#f0e"/><stop offset="1" stop-color="#ff00da"/></linearGradient>
<linearGradient id="g300" gradientUnits="userSpaceOnUse" x1="552" x2="1046"><stop offset="0" stop-color="#0078ff"/><stop offset=".3482" stop-color="#0060ff"/><stop offset=".3603" stop-color="#235fff"/><stop offset=".3684" stop-color="#315eff"/><stop offset=".3806" stop-color="#405dff"/><stop offset=".4008" stop-color="#535bff"/><stop offset=".4494" stop-color="#7356ff"/><stop offset=".5061" stop-color="#8f4fff"/><stop offset=".5547" stop-color="#a349ff"/><stop offset=".6518" stop-color="#c439ff"/><stop offset=".7206" stop-color="#da28ff"/><stop offset=".7652" stop-color="#e616ff"/><stop offset=".7935" stop-color="#e0f"/><stop offset=".8543" stop-color="#f0f"/><stop offset="1" stop-color="#ff00df"/></linearGradient>
<linearGradient id="g301" gradientUnits="userSpaceOnUse" x1="555" x2="1033"><stop offset="0" stop-color="#0076ff"/><stop offset=".3473" stop-color="#005eff"/><stop offset=".3515" stop-color="#035dff"/><stop offset=".3556" stop-color="#155dff"/><stop offset=".364" stop-color="#285cff"/><stop offset=".3808" stop-color="#3e5aff"/><stop offset=".3975" stop-color="#4e59ff"/><stop offset=".4519" stop-color="#7253ff"/><stop offset=".5481" stop-color="#9d48ff"/><stop offset=".6402" stop-color="#bd39ff"/><stop offset=".7197" stop-color="#d526ff"/><stop offset=".7573" stop-color="#e017ff"/><stop offset=".7741" stop-color="#e40cff"/><stop offset=".7866" stop-color="#e800ff"/><stop offset=".8787" stop-color="#ff00fe"/><stop offset="1" stop-color="#ff00e4"/></linearGradient>
<linearGradient id="g302" gradientUnits="userSpaceOnUse" x1="558" x2="1020"><stop offset="0" stop-color="#0073ff"/><stop offset=".3506" stop-color="#005bff"/><stop offset=".355" stop-color="#105bff"/><stop offset=".3636" stop-color="#255aff"/><stop offset=".3723" stop-color="#3259ff"/><stop offset=".3939" stop-color="#4957ff"/><stop offset=".4459" stop-color="#6c52ff"/><stop offset=".5281" stop-color="#9248ff"/><stop offset=".6277" stop-color="#b539ff"/><stop offset=".697" stop-color="#ca2aff"/><stop offset=".7489" stop-color="#d918ff"/><stop offset=".7835" stop-color="#e200ff"/><stop offset=".9004" stop-color="#f0f"/><stop offset="1" stop-color="#ff00e9"/></linearGradient>
<linearGradient id="g303" gradientUnits="userSpaceOnUse" x1="561" x2="1007"><stop offset="0" stop-color="#0071ff"/><stop offset=".3498" stop-color="#0059ff"/><stop offset=".3543" stop-color="#0958ff"/><stop offset=".3587" stop-color="#1958ff"/><stop offset=".3677" stop-color="#2a57ff"/><stop offset=".3857" stop-color="#3f55ff"/><stop offset=".3991" stop-color="#4b54ff"/><stop offset=".4484" stop-color="#6b4fff"/><stop offset=".5157" stop-color="#8a47ff"/><stop offset=".6143" stop-color="#ad39ff"/><stop offset=".6951" stop-color="#c528ff"/><stop offset=".7534" stop-color="#d512ff"/><stop offset=".7758" stop-color="#db00ff"/><stop offset=".9238" stop-color="#f0f"/><stop offset="1" stop-color="#f0e"/></linearGradient>
<linearGradient id="g304" gradientUnits="userSpaceOnUse" x1="564" x2="994"><stop offset="0" stop-color="#006eff"/><stop offset=".1628" stop-color="#0065ff"/><stop offset=".3488" stop-color="#0056ff"/><stop offset=".3535" stop-color="#0256ff"/><stop offset=".3581" stop-color="#1456ff"/><stop offset=".3674" stop-color="#2755ff"/><stop offset=".3814" stop-color="#3953ff"/><stop offset=".3953" stop-color="#4652ff"/><stop offset=".4233" stop-color="#5a4fff"/><stop offset=".4558" stop-color="#6c4cff"/><stop offset=".5209" stop-color="#8944ff"/><stop offset=".6186" stop-color="#aa36ff"/><stop offset=".6884" stop-color="#bf27ff"/><stop offset=".7442" stop-color="#ce13ff"/><stop offset=".7721" stop-color="#d500ff"/><stop offset=".9488" stop-color="#f0f"/><stop offset="1" stop-color="#ff00f4"/></linearGradient>
<linearGradient id="g305" gradientUnits="userSpaceOnUse" x1="568" x2="982"><stop offset="0" stop-color="#006cff"/><stop offset=".3478" stop-color="#0054ff"/><stop offset=".3527" stop-color="#0553ff"/><stop offset=".3575" stop-color="#1653ff"/><stop offset=".372" stop-color="#2f52ff"/><stop offset=".401" stop-color="#4a4fff"/><stop offset=".4541" stop-color="#6a49ff"/><stop offset=".5266" stop-color="#8941ff"/><stop offset=".6135" stop-color="#a634ff"/><stop offset=".6908" stop-color="#bc23ff"/><stop offset=".7343" stop-color="#c713ff"/><stop offset=".7633" stop-color="#cf00ff"/><stop offset=".971" stop-color="#fe00ff"/><stop offset="1" stop-color="#ff00f9"/></linearGradient>
<linearGradient id="g306" gradientUnits="userSpaceOnUse" x1="571" x2="969"><stop offset="0" stop-color="#0069ff"/><stop offset=".3518" stop-color="#0051ff"/><stop offset=".3568" stop-color="#1150ff"/><stop offset=".3618" stop-color="#1d50ff"/><stop offset=".3719" stop-color="#2c4fff"/><stop offset=".3869" stop-color="#3c4eff"/><stop offset=".407" stop-color="#4c4cff"/><stop offset=".4623" stop-color="#6b46ff"/><stop offset=".5276" stop-color="#863eff"/><stop offset=".593" stop-color="#9c35ff"/><stop offset=".6834" stop-color="#b622ff"/><stop offset=".7236" stop-color="#c014ff"/><stop offset=".7588" stop-color="#c900ff"/><stop offset="1" stop-color="#fe00ff"/></linearGradient>
<linearGradient id="g307" gradientUnits="userSpaceOnUse" x1="575" x2="955"><stop offset="0" stop-color="#06f"/><stop offset=".1789" stop-color="#005cff"/><stop offset=".3526" stop-color="#014eff"/><stop offset=".3579" stop-color="#144eff"/><stop offset=".3632" stop-color="#1e4dff"/><stop offset=".3737" stop-color="#2d4cff"/><stop offset=".3895" stop-color="#3d4bff"/><stop offset=".4368" stop-color="#5c46ff"/><stop offset=".4842" stop-color="#7241ff"/><stop offset=".5579" stop-color="#8d37ff"/><stop offset=".6526" stop-color="#a927ff"/><stop offset=".7158" stop-color="#b914ff"/><stop offset=".7526" stop-color="#c200ff"/><stop offset="1" stop-color="#f800ff"/></linearGradient>
<linearGradient id="g308" gradientUnits="userSpaceOnUse" x1="578" x2="942"><stop offset="0" stop-color="#0064ff"/><stop offset=".3516" stop-color="#004cff"/><stop offset=".3626" stop-color="#1b4bff"/><stop offset=".3681" stop-color="#244aff"/><stop offset=".3901" stop-color="#3b48ff"/><stop offset=".4121" stop-color="#4b46ff"/><stop offset=".489" stop-color="#713eff"/><stop offset=".5659" stop-color="#8c33ff"/><stop offset=".6648" stop-color="#a821ff"/><stop offset=".7088" stop-color="#b313ff"/><stop offset=".7418" stop-color="#b0f"/><stop offset="1" stop-color="#f100ff"/></linearGradient>
<linearGradient id="g309" gradientUnits="userSpaceOnUse" x1="582" x2="928"><stop offset="0" stop-color="#0061ff"/><stop offset=".3526" stop-color="#0049ff"/><stop offset=".3584" stop-color="#1148ff"/><stop offset=".3642" stop-color="#1c48ff"/><stop offset=".3757" stop-color="#2c47ff"/><stop offset=".3873" stop-color="#3746ff"/><stop offset=".4277" stop-color="#5242ff"/><stop offset=".4971" stop-color="#713aff"/><stop offset=".578" stop-color="#8c2fff"/><stop offset=".6647" stop-color="#a31eff"/><stop offset=".6936" stop-color="#ab15ff"/><stop offset=".7341" stop-color="#b400ff"/><stop offset=".8324" stop-color="#ca00ff"/><stop offset="1" stop-color="#ea00ff"/></linearGradient>
<linearGradient id="g310" gradientUnits="userSpaceOnUse" x1="586" x2="916"><stop offset="0" stop-color="#005eff"/><stop offset=".3515" stop-color="#0046ff"/><stop offset=".3576" stop-color="#1345ff"/><stop offset=".3636" stop-color="#1e45ff"/><stop offset=".3939" stop-color="#3c42ff"/><stop offset=".4485" stop-color="#5b3cff"/><stop offset=".503" stop-color="#7136ff"/><stop offset=".6303" stop-color="#9722ff"/><stop offset=".6788" stop-color="#a315ff"/><stop offset=".7212" stop-color="#ad00ff"/><stop offset=".8667" stop-color="#c0f"/><stop offset="1" stop-color="#e400ff"/></linearGradient>
<linearGradient id="g311" gradientUnits="userSpaceOnUse" x1="590" x2="902"><stop offset="0" stop-color="#005bff"/><stop offset=".3462" stop-color="#0043ff"/><stop offset=".3526" stop-color="#0443ff"/><stop offset=".359" stop-color="#1542ff"/><stop offset=".3718" stop-color="#2741ff"/><stop offset=".4038" stop-color="#413eff"/><stop offset=".4615" stop-color="#5e38ff"/><stop offset=".5128" stop-color="#7132ff"/><stop offset=".641" stop-color="#951cff"/><stop offset=".6795" stop-color="#9e10ff"/><stop offset=".7115" stop-color="#a600ff"/><stop offset=".8782" stop-color="#c800ff"/><stop offset="1" stop-color="#d0f"/></linearGradient>
<linearGradient id="g312" gradientUnits="userSpaceOnUse" x1="594" x2="890"><stop offset="0" stop-color="#0057ff"/><stop offset=".3446" stop-color="#0040ff"/><stop offset=".3514" stop-color="#073fff"/><stop offset=".3581" stop-color="#173fff"/><stop offset=".3716" stop-color="#283eff"/><stop offset=".3986" stop-color="#3d3bff"/><stop offset=".4662" stop-color="#5e34ff"/><stop offset=".5203" stop-color="#712dff"/><stop offset=".6284" stop-color="#8f1aff"/><stop offset=".6622" stop-color="#9710ff"/><stop offset=".6959" stop-color="#9e00ff"/><stop offset=".8311" stop-color="#ba00ff"/><stop offset="1" stop-color="#d700ff"/></linearGradient>
<linearGradient id="g313" gradientUnits="userSpaceOnUse" x1="599" x2="877"><stop offset="0" stop-color="#0054ff"/><stop offset=".3453" stop-color="#003cff"/><stop offset=".3525" stop-color="#123cff"/><stop offset=".3597" stop-color="#1d3bff"/><stop offset=".3885" stop-color="#3738ff"/><stop offset=".4245" stop-color="#4b35ff"/><stop offset=".4964" stop-color="#672cff"/><stop offset=".6043" stop-color="#851bff"/><stop offset=".6403" stop-color="#8e11ff"/><stop offset=".6835" stop-color="#9700ff"/><stop offset=".8273" stop-color="#b400ff"/><stop offset="1" stop-color="#d100ff"/></linearGradient>
<linearGradient id="g314" gradientUnits="userSpaceOnUse" x1="604" x2="864"><stop offset="0" stop-color="#0050ff"/><stop offset=".3385" stop-color="#0039ff"/><stop offset=".3538" stop-color="#1a38ff"/><stop offset=".3615" stop-color="#2337ff"/><stop offset=".3846" stop-color="#3535ff"/><stop offset=".4154" stop-color="#4632ff"/><stop offset=".4846" stop-color="#612aff"/><stop offset=".5846" stop-color="#7d1aff"/><stop offset=".6231" stop-color="#8610ff"/><stop offset=".6615" stop-color="#8e00ff"/><stop offset=".8077" stop-color="#ab00ff"/><stop offset="1" stop-color="#ca00ff"/></linearGradient>
<linearGradient id="g315" gradientUnits="userSpaceOnUse" x1="609" x2="851"><stop offset="0" stop-color="#004cff"/><stop offset=".3306" stop-color="#0036ff"/><stop offset=".3388" stop-color="#0635ff"/><stop offset=".3471" stop-color="#1634ff"/><stop offset=".3554" stop-color="#2033ff"/><stop offset=".3884" stop-color="#3830ff"/><stop offset=".4215" stop-color="#482dff"/><stop offset=".5124" stop-color="#6721ff"/><stop offset=".595" stop-color="#7c11ff"/><stop offset=".6446" stop-color="#8700ff"/><stop offset=".8347" stop-color="#a0f"/><stop offset="1" stop-color="#c300ff"/></linearGradient>
<linearGradient id="g316" gradientUnits="userSpaceOnUse" x1="614" x2="838"><stop offset="0" stop-color="#0048ff"/><stop offset=".3304" stop-color="#0031ff"/><stop offset=".3393" stop-color="#1130ff"/><stop offset=".3482" stop-color="#1d30ff"/><stop offset=".375" stop-color="#312dff"/><stop offset=".4107" stop-color="#4329ff"/><stop offset=".4821" stop-color="#5c20ff"/><stop offset=".5714" stop-color="#7310ff"/><stop offset=".6161" stop-color="#7d00ff"/><stop offset=".8393" stop-color="#a500ff"/><stop offset="1" stop-color="#bc00ff"/></linearGradient>
<linearGradient id="g317" gradientUnits="userSpaceOnUse" x1="620" x2="824"><stop offset="0" stop-color="#0043ff"/><stop offset=".3137" stop-color="#002eff"/><stop offset=".3235" stop-color="#022dff"/><stop offset=".3333" stop-color="#132cff"/><stop offset=".3431" stop-color="#1e2bff"/><stop offset=".3725" stop-color="#3228ff"/><stop offset=".4216" stop-color="#4723ff"/><stop offset=".4902" stop-color="#5c19ff"/><stop offset=".5392" stop-color="#6810ff"/><stop offset=".5882" stop-color="#7300ff"/><stop offset=".7647" stop-color="#9300ff"/><stop offset="1" stop-color="#b400ff"/></linearGradient>
<linearGradient id="g318" gradientUnits="userSpaceOnUse" x1="626" x2="812"><stop offset="0" stop-color="#003dff"/><stop offset=".3011" stop-color="#0029ff"/><stop offset=".3118" stop-color="#0528ff"/><stop offset=".3226" stop-color="#1527ff"/><stop offset=".3548" stop-color="#2d24ff"/><stop offset=".3978" stop-color="#401fff"/><stop offset=".4731" stop-color="#5714ff"/><stop offset=".5484" stop-color="#6800ff"/><stop offset=".7634" stop-color="#8e00ff"/><stop offset="1" stop-color="#ad00ff"/></linearGradient>
<linearGradient id="g319" gradientUnits="userSpaceOnUse" x1="633" x2="799"><stop offset="0" stop-color="#0037ff"/><stop offset=".2892" stop-color="#0023ff"/><stop offset=".3012" stop-color="#12f"/><stop offset=".3133" stop-color="#1c21ff"/><stop offset=".3373" stop-color="#2b1eff"/><stop offset=".4096" stop-color="#4615ff"/><stop offset=".494" stop-color="#5b02ff"/><stop offset=".5904" stop-color="#6e00ff"/><stop offset=".7229" stop-color="#8300ff"/><stop offset="1" stop-color="#a600ff"/></linearGradient>
<linearGradient id="g320" gradientUnits="userSpaceOnUse" x1="640" x2="786"><stop offset="0" stop-color="#0030ff"/><stop offset=".2603" stop-color="#001dff"/><stop offset=".2877" stop-color="#191aff"/><stop offset=".3288" stop-color="#2e16ff"/><stop offset=".4384" stop-color="#4e01ff"/><stop offset=".4932" stop-color="#5a00ff"/><stop offset=".6986" stop-color="#7b00ff"/><stop offset="1" stop-color="#9e00ff"/></linearGradient>
<linearGradient id="g321" gradientUnits="userSpaceOnUse" x1="646" x2="772"><stop offset="0" stop-color="#0028ff"/><stop offset=".127" stop-color="#0020ff"/><stop offset=".2381" stop-color="#0015ff"/><stop offset=".2698" stop-color="#1a12ff"/><stop offset=".3016" stop-color="#290dff"/><stop offset=".3651" stop-color="#3d01ff"/><stop offset=".3968" stop-color="#4500ff"/><stop offset=".5079" stop-color="#5a00ff"/><stop offset=".6349" stop-color="#6d00ff"/><stop offset="1" stop-color="#9500ff"/></linearGradient>
<linearGradient id="g322" gradientUnits="userSpaceOnUse" x1="653" x2="759"><stop offset="0" stop-color="#001eff"/><stop offset=".1321" stop-color="#0013ff"/><stop offset=".1887" stop-color="#000bff"/><stop offset=".2075" stop-color="#0708ff"/><stop offset=".2264" stop-color="#1605ff"/><stop offset=".2642" stop-color="#2700ff"/><stop offset=".3208" stop-color="#3700ff"/><stop offset=".3962" stop-color="#4700ff"/><stop offset=".5094" stop-color="#5900ff"/><stop offset=".6604" stop-color="#6c00ff"/><stop offset="1" stop-color="#8c00ff"/></linearGradient>
<linearGradient id="g323" gradientUnits="userSpaceOnUse" x1="660" x2="746"><stop offset="0" stop-color="#000dff"/><stop offset=".093" stop-color="#0001ff"/><stop offset=".1395" stop-color="#0100ff"/><stop offset=".1628" stop-color="#1200ff"/><stop offset=".186" stop-color="#1d00ff"/><stop offset=".2326" stop-color="#2b00ff"/><stop offset=".3023" stop-color="#3a00ff"/><stop offset=".3953" stop-color="#4900ff"/><stop offset=".6977" stop-color="#6b00ff"/><stop offset="1" stop-color="#8300ff"/></linearGradient>
<linearGradient id="g324" gradientUnits="userSpaceOnUse" x1="667" x2="733"><stop offset="0" stop-color="#00f"/><stop offset=".0303" stop-color="#00f"/><stop offset=".0909" stop-color="#1900ff"/><stop offset=".1515" stop-color="#2900ff"/><stop offset=".3333" stop-color="#40f"/><stop offset=".5758" stop-color="#5c00ff"/><stop offset="1" stop-color="#7900ff"/></linearGradient>
<linearGradient id="g325" gradientUnits="userSpaceOnUse" x1="674" x2="720"><stop offset="0" stop-color="#2300ff"/><stop offset=".1304" stop-color="#3400ff"/><stop offset=".3478" stop-color="#4800ff"/><stop offset=".5652" stop-color="#5700ff"/><stop offset="1" stop-color="#6e00ff"/></linearGradient>
</defs>
<rect width="2325" height="2417" fill="#fff"/>
<path d="M410.5 2167.5V79M526.5 2167.5V79M642.6 2167.5V79M758.6 2167.5V79M874.6 2167.5V79M990.7 2167.5V79M1106.7 2167.5V79M1222.7 2167.5V79M1338.7 2167.5V79M1454.8 2167.5V79M1570.8 2167.5V79M1686.8 2167.5V79M1802.8 2167.5V79M1918.9 2167.5V79M2034.9 2167.5V79M2150.9 2167.5V79M294.5 2051.5H2150.9M294.5 1935.5H2150.9M294.5 1819.4H2150.9M294.5 1703.4H2150.9M294.5 1587.4H2150.9M294.5 1471.3H2150.9M294.5 1355.3H2150.9M294.5 1239.3H2150.9M294.5 1123.3H2150.9M294.5 1007.2H2150.9M294.5 891.2H2150.9M294.5 775.2H2150.9M294.5 659.2H2150.9M294.5 543.1H2150.9M294.5 427.1H2150.9M294.5 311.1H2150.9M294.5 195.1H2150.9M294.5 79H2150.9M526.5 79L2150.9 1703.4" fill="none" stroke="#bebebe" stroke-width="3.9"/>
<path d="M294.5 79V2167.5H2150.9M294.5 2165.5v16M526.5 2165.5v16M758.6 2165.5v16M990.7 2165.5v16M1222.7 2165.5v16M1454.8 2165.5v16M1686.8 2165.5v16M1918.9 2165.5v16M2150.9 2165.5v16M296.5 2167.5h-14M296.5 1935.5h-14M296.5 1703.4h-14M296.5 1471.3h-14M296.5 1239.3h-14M296.5 1007.2h-14M296.5 775.2h-14M296.5 543.1h-14M296.5 311.1h-14M296.5 79h-14" fill="none" stroke="#2a2a2a" stroke-width="4.5"/>
<g font-size="79" fill="#000" text-anchor="middle">
<text x="293" y="2257">0.0</text>
<text x="525" y="2257">0.1</text>
<text x="757.1" y="2257">0.2</text>
<text x="989.2" y="2257">0.3</text>
<text x="1221.2" y="2257">0.4</text>
<text x="1453.2" y="2257">0.5</text>
<text x="1685.3" y="2257">0.6</text>
<text x="1917.4" y="2257">0.7</text>
<text x="2149.4" y="2257">0.8</text>
</g><g font-size="79" fill="#000" text-anchor="end">
<text x="269.5" y="2190">0.0</text>
<text x="269.5" y="1962">0.1</text>
<text x="269.5" y="1729.9">0.2</text>
<text x="269.5" y="1497.8">0.3</text>
<text x="269.5" y="1265.8">0.4</text>
<text x="269.5" y="1029.8">0.5</text>
<text x="269.5" y="801.7">0.6</text>
<text x="269.5" y="569.6">0.7</text>
<text x="269.5" y="337.6">0.8</text>
<text x="269.5" y="105.5">0.9</text>
</g>
<text x="1271" y="2386" font-size="135" font-style="italic" text-anchor="middle">x</text>
<text x="66" y="1139" font-size="124" font-style="italic" text-anchor="middle">y</text>
<g clip-path="url(#lc)"><g filter="url(#bl)">
<rect x="433" y="217" width="100" height="6.6" fill="url(#g0)"/>
<rect x="417" y="223" width="138" height="6.6" fill="url(#g1)"/>
<rect x="407" y="229" width="164" height="6.6" fill="url(#g2)"/>
<rect x="398" y="235" width="188" height="6.6" fill="url(#g3)"/>
<rect x="391" y="241" width="208" height="6.6" fill="url(#g4)"/>
<rect x="384" y="247" width="228" height="6.6" fill="url(#g5)"/>
<rect x="379" y="253" width="244" height="6.6" fill="url(#g6)"/>
<rect x="374" y="259" width="262" height="6.6" fill="url(#g7)"/>
<rect x="369" y="265" width="278" height="6.6" fill="url(#g8)"/>
<rect x="365" y="271" width="292" height="6.6" fill="url(#g9)"/>
<rect x="361" y="277" width="306" height="6.6" fill="url(#g10)"/>
<rect x="357" y="283" width="320" height="6.6" fill="url(#g11)"/>
<rect x="354" y="289" width="334" height="6.6" fill="url(#g12)"/>
<rect x="351" y="295" width="346" height="6.6" fill="url(#g13)"/>
<rect x="348" y="301" width="360" height="6.6" fill="url(#g14)"/>
<rect x="345" y="307" width="372" height="6.6" fill="url(#g15)"/>
<rect x="342" y="313" width="384" height="6.6" fill="url(#g16)"/>
<rect x="339" y="319" width="396" height="6.6" fill="url(#g17)"/>
<rect x="337" y="325" width="408" height="6.6" fill="url(#g18)"/>
<rect x="335" y="331" width="418" height="6.6" fill="url(#g19)"/>
<rect x="332" y="337" width="430" height="6.6" fill="url(#g20)"/>
<rect x="330" y="343" width="440" height="6.6" fill="url(#g21)"/>
<rect x="328" y="349" width="450" height="6.6" fill="url(#g22)"/>
<rect x="326" y="355" width="460" height="6.6" fill="url(#g23)"/>
<rect x="324" y="361" width="472" height="6.6" fill="url(#g24)"/>
<rect x="322" y="367" width="482" height="6.6" fill="url(#g25)"/>
<rect x="321" y="373" width="490" height="6.6" fill="url(#g26)"/>
<rect x="319" y="379" width="500" height="6.6" fill="url(#g27)"/>
<rect x="318" y="385" width="508" height="6.6" fill="url(#g28)"/>
<rect x="316" y="391" width="518" height="6.6" fill="url(#g29)"/>
<rect x="315" y="397" width="528" height="6.6" fill="url(#g30)"/>
<rect x="313" y="403" width="536" height="6.6" fill="url(#g31)"/>
<rect x="312" y="409" width="546" height="6.6" fill="url(#g32)"/>
<rect x="311" y="415" width="554" height="6.6" fill="url(#g33)"/>
<rect x="309" y="421" width="564" height="6.6" fill="url(#g34)"/>
<rect x="308" y="427" width="572" height="6.6" fill="url(#g35)"/>
<rect x="307" y="433" width="580" height="6.6" fill="url(#g36)"/>
<rect x="306" y="439" width="588" height="6.6" fill="url(#g37)"/>
<rect x="305" y="445" width="596" height="6.6" fill="url(#g38)"/>
<rect x="304" y="451" width="604" height="6.6" fill="url(#g39)"/>
<rect x="303" y="457" width="612" height="6.6" fill="url(#g40)"/>
<rect x="302" y="463" width="620" height="6.6" fill="url(#g41)"/>
<rect x="301" y="469" width="628" height="6.6" fill="url(#g42)"/>
<rect x="300" y="475" width="636" height="6.6" fill="url(#g43)"/>
<rect x="299" y="481" width="644" height="6.6" fill="url(#g44)"/>
<rect x="299" y="487" width="650" height="6.6" fill="url(#g45)"/>
<rect x="298" y="493" width="658" height="6.6" fill="url(#g46)"/>
<rect x="297" y="499" width="666" height="6.6" fill="url(#g47)"/>
<rect x="297" y="505" width="672" height="6.6" fill="url(#g48)"/>
<rect x="296" y="511" width="680" height="6.6" fill="url(#g49)"/>
<rect x="296" y="517" width="688" height="6.6" fill="url(#g50)"/>
<rect x="295" y="523" width="694" height="6.6" fill="url(#g51)"/>
<rect x="294" y="529" width="702" height="6.6" fill="url(#g52)"/>
<rect x="294" y="535" width="708" height="6.6" fill="url(#g53)"/>
<rect x="293" y="541" width="716" height="6.6" fill="url(#g54)"/>
<rect x="293" y="547" width="722" height="6.6" fill="url(#g55)"/>
<rect x="293" y="553" width="730" height="6.6" fill="url(#g56)"/>
<rect x="292" y="559" width="736" height="6.6" fill="url(#g57)"/>
<rect x="292" y="565" width="744" height="6.6" fill="url(#g58)"/>
<rect x="291" y="571" width="750" height="6.6" fill="url(#g59)"/>
<rect x="291" y="577" width="758" height="6.6" fill="url(#g60)"/>
<rect x="291" y="583" width="764" height="6.6" fill="url(#g61)"/>
<rect x="290" y="589" width="772" height="6.6" fill="url(#g62)"/>
<rect x="290" y="595" width="778" height="6.6" fill="url(#g63)"/>
<rect x="290" y="601" width="784" height="6.6" fill="url(#g64)"/>
<rect x="290" y="607" width="790" height="6.6" fill="url(#g65)"/>
<rect x="290" y="613" width="796" height="6.6" fill="url(#g66)"/>
<rect x="289" y="619" width="804" height="6.6" fill="url(#g67)"/>
<rect x="289" y="625" width="810" height="6.6" fill="url(#g68)"/>
<rect x="289" y="631" width="816" height="6.6" fill="url(#g69)"/>
<rect x="289" y="637" width="822" height="6.6" fill="url(#g70)"/>
<rect x="289" y="643" width="828" height="6.6" fill="url(#g71)"/>
<rect x="289" y="649" width="836" height="6.6" fill="url(#g72)"/>
<rect x="289" y="655" width="842" height="6.6" fill="url(#g73)"/>
<rect x="289" y="661" width="848" height="6.6" fill="url(#g74)"/>
<rect x="289" y="667" width="854" height="6.6" fill="url(#g75)"/>
<rect x="288" y="673" width="862" height="6.6" fill="url(#g76)"/>
<rect x="288" y="679" width="868" height="6.6" fill="url(#g77)"/>
<rect x="288" y="685" width="874" height="6.6" fill="url(#g78)"/>
<rect x="288" y="691" width="880" height="6.6" fill="url(#g79)"/>
<rect x="288" y="697" width="886" height="6.6" fill="url(#g80)"/>
<rect x="288" y="703" width="892" height="6.6" fill="url(#g81)"/>
<rect x="288" y="709" width="898" height="6.6" fill="url(#g82)"/>
<rect x="288" y="715" width="904" height="6.6" fill="url(#g83)"/>
<rect x="289" y="721" width="910" height="6.6" fill="url(#g84)"/>
<rect x="289" y="727" width="916" height="6.6" fill="url(#g85)"/>
<rect x="289" y="733" width="922" height="6.6" fill="url(#g86)"/>
<rect x="289" y="739" width="928" height="6.6" fill="url(#g87)"/>
<rect x="289" y="745" width="934" height="6.6" fill="url(#g88)"/>
<rect x="289" y="751" width="940" height="6.6" fill="url(#g89)"/>
<rect x="289" y="757" width="946" height="6.6" fill="url(#g90)"/>
<rect x="289" y="763" width="952" height="6.6" fill="url(#g91)"/>
<rect x="289" y="769" width="958" height="6.6" fill="url(#g92)"/>
<rect x="290" y="775" width="964" height="6.6" fill="url(#g93)"/>
<rect x="290" y="781" width="970" height="6.6" fill="url(#g94)"/>
<rect x="290" y="787" width="976" height="6.6" fill="url(#g95)"/>
<rect x="290" y="793" width="982" height="6.6" fill="url(#g96)"/>
<rect x="291" y="799" width="986" height="6.6" fill="url(#g97)"/>
<rect x="291" y="805" width="994" height="6.6" fill="url(#g98)"/>
<rect x="291" y="811" width="1000" height="6.6" fill="url(#g99)"/>
<rect x="291" y="817" width="1006" height="6.6" fill="url(#g100)"/>
<rect x="292" y="823" width="1010" height="6.6" fill="url(#g101)"/>
<rect x="292" y="829" width="1016" height="6.6" fill="url(#g102)"/>
<rect x="292" y="835" width="1022" height="6.6" fill="url(#g103)"/>
<rect x="293" y="841" width="1028" height="6.6" fill="url(#g104)"/>
<rect x="293" y="847" width="1034" height="6.6" fill="url(#g105)"/>
<rect x="293" y="853" width="1040" height="6.6" fill="url(#g106)"/>
<rect x="294" y="859" width="1044" height="6.6" fill="url(#g107)"/>
<rect x="294" y="865" width="1050" height="6.6" fill="url(#g108)"/>
<rect x="294" y="871" width="1056" height="6.6" fill="url(#g109)"/>
<rect x="295" y="877" width="1062" height="6.6" fill="url(#g110)"/>
<rect x="295" y="883" width="1068" height="6.6" fill="url(#g111)"/>
<rect x="296" y="889" width="1072" height="6.6" fill="url(#g112)"/>
<rect x="296" y="895" width="1078" height="6.6" fill="url(#g113)"/>
<rect x="297" y="901" width="1084" height="6.6" fill="url(#g114)"/>
<rect x="297" y="907" width="1090" height="6.6" fill="url(#g115)"/>
<rect x="297" y="913" width="1096" height="6.6" fill="url(#g116)"/>
<rect x="298" y="919" width="1102" height="6.6" fill="url(#g117)"/>
<rect x="298" y="925" width="1108" height="6.6" fill="url(#g118)"/>
<rect x="299" y="931" width="1112" height="6.6" fill="url(#g119)"/>
<rect x="299" y="937" width="1118" height="6.6" fill="url(#g120)"/>
<rect x="300" y="943" width="1124" height="6.6" fill="url(#g121)"/>
<rect x="301" y="949" width="1128" height="6.6" fill="url(#g122)"/>
<rect x="301" y="955" width="1134" height="6.6" fill="url(#g123)"/>
<rect x="302" y="961" width="1140" height="6.6" fill="url(#g124)"/>
<rect x="302" y="967" width="1146" height="6.6" fill="url(#g125)"/>
<rect x="303" y="973" width="1150" height="6.6" fill="url(#g126)"/>
<rect x="303" y="979" width="1156" height="6.6" fill="url(#g127)"/>
<rect x="304" y="985" width="1162" height="6.6" fill="url(#g128)"/>
<rect x="304" y="991" width="1168" height="6.6" fill="url(#g129)"/>
<rect x="305" y="997" width="1172" height="6.6" fill="url(#g130)"/>
<rect x="306" y="1003" width="1178" height="6.6" fill="url(#g131)"/>
<rect x="306" y="1009" width="1184" height="6.6" fill="url(#g132)"/>
<rect x="307" y="1015" width="1188" height="6.6" fill="url(#g133)"/>
<rect x="308" y="1021" width="1194" height="6.6" fill="url(#g134)"/>
<rect x="308" y="1027" width="1200" height="6.6" fill="url(#g135)"/>
<rect x="309" y="1033" width="1204" height="6.6" fill="url(#g136)"/>
<rect x="310" y="1039" width="1210" height="6.6" fill="url(#g137)"/>
<rect x="310" y="1045" width="1216" height="6.6" fill="url(#g138)"/>
<rect x="311" y="1051" width="1220" height="6.6" fill="url(#g139)"/>
<rect x="312" y="1057" width="1226" height="6.6" fill="url(#g140)"/>
<rect x="312" y="1063" width="1232" height="6.6" fill="url(#g141)"/>
<rect x="313" y="1069" width="1236" height="6.6" fill="url(#g142)"/>
<rect x="314" y="1075" width="1242" height="6.6" fill="url(#g143)"/>
<rect x="315" y="1081" width="1246" height="6.6" fill="url(#g144)"/>
<rect x="315" y="1087" width="1252" height="6.6" fill="url(#g145)"/>
<rect x="316" y="1093" width="1258" height="6.6" fill="url(#g146)"/>
<rect x="317" y="1099" width="1262" height="6.6" fill="url(#g147)"/>
<rect x="317" y="1105" width="1268" height="6.6" fill="url(#g148)"/>
<rect x="318" y="1111" width="1274" height="6.6" fill="url(#g149)"/>
<rect x="319" y="1117" width="1278" height="6.6" fill="url(#g150)"/>
<rect x="320" y="1123" width="1284" height="6.6" fill="url(#g151)"/>
<rect x="321" y="1129" width="1288" height="6.6" fill="url(#g152)"/>
<rect x="322" y="1135" width="1294" height="6.6" fill="url(#g153)"/>
<rect x="322" y="1141" width="1300" height="6.6" fill="url(#g154)"/>
<rect x="323" y="1147" width="1304" height="6.6" fill="url(#g155)"/>
<rect x="324" y="1153" width="1310" height="6.6" fill="url(#g156)"/>
<rect x="325" y="1159" width="1316" height="6.6" fill="url(#g157)"/>
<rect x="326" y="1165" width="1320" height="6.6" fill="url(#g158)"/>
<rect x="327" y="1171" width="1326" height="6.6" fill="url(#g159)"/>
<rect x="327" y="1177" width="1332" height="6.6" fill="url(#g160)"/>
<rect x="328" y="1183" width="1336" height="6.6" fill="url(#g161)"/>
<rect x="329" y="1189" width="1342" height="6.6" fill="url(#g162)"/>
<rect x="330" y="1195" width="1346" height="6.6" fill="url(#g163)"/>
<rect x="331" y="1201" width="1352" height="6.6" fill="url(#g164)"/>
<rect x="332" y="1207" width="1356" height="6.6" fill="url(#g165)"/>
<rect x="333" y="1213" width="1362" height="6.6" fill="url(#g166)"/>
<rect x="334" y="1219" width="1366" height="6.6" fill="url(#g167)"/>
<rect x="335" y="1225" width="1372" height="6.6" fill="url(#g168)"/>
<rect x="336" y="1231" width="1376" height="6.6" fill="url(#g169)"/>
<rect x="337" y="1237" width="1382" height="6.6" fill="url(#g170)"/>
<rect x="338" y="1243" width="1386" height="6.6" fill="url(#g171)"/>
<rect x="339" y="1249" width="1392" height="6.6" fill="url(#g172)"/>
<rect x="340" y="1255" width="1396" height="6.6" fill="url(#g173)"/>
<rect x="340" y="1261" width="1402" height="6.6" fill="url(#g174)"/>
<rect x="341" y="1267" width="1408" height="6.6" fill="url(#g175)"/>
<rect x="342" y="1273" width="1412" height="6.6" fill="url(#g176)"/>
<rect x="343" y="1279" width="1418" height="6.6" fill="url(#g177)"/>
<rect x="344" y="1285" width="1422" height="6.6" fill="url(#g178)"/>
<rect x="345" y="1291" width="1428" height="6.6" fill="url(#g179)"/>
<rect x="347" y="1297" width="1432" height="6.6" fill="url(#g180)"/>
<rect x="348" y="1303" width="1436" height="6.6" fill="url(#g181)"/>
<rect x="349" y="1309" width="1442" height="6.6" fill="url(#g182)"/>
<rect x="350" y="1315" width="1446" height="6.6" fill="url(#g183)"/>
<rect x="351" y="1321" width="1452" height="6.6" fill="url(#g184)"/>
<rect x="352" y="1327" width="1456" height="6.6" fill="url(#g185)"/>
<rect x="353" y="1333" width="1462" height="6.6" fill="url(#g186)"/>
<rect x="354" y="1339" width="1466" height="6.6" fill="url(#g187)"/>
<rect x="355" y="1345" width="1472" height="6.6" fill="url(#g188)"/>
<rect x="356" y="1351" width="1476" height="6.6" fill="url(#g189)"/>
<rect x="357" y="1357" width="1482" height="6.6" fill="url(#g190)"/>
<rect x="358" y="1363" width="1486" height="6.6" fill="url(#g191)"/>
<rect x="360" y="1369" width="1490" height="6.6" fill="url(#g192)"/>
<rect x="361" y="1375" width="1496" height="6.6" fill="url(#g193)"/>
<rect x="362" y="1381" width="1502" height="6.6" fill="url(#g194)"/>
<rect x="363" y="1387" width="1506" height="6.6" fill="url(#g195)"/>
<rect x="364" y="1393" width="1512" height="6.6" fill="url(#g196)"/>
<rect x="365" y="1399" width="1516" height="6.6" fill="url(#g197)"/>
<rect x="366" y="1405" width="1522" height="6.6" fill="url(#g198)"/>
<rect x="368" y="1411" width="1526" height="6.6" fill="url(#g199)"/>
<rect x="369" y="1417" width="1530" height="6.6" fill="url(#g200)"/>
<rect x="370" y="1423" width="1536" height="6.6" fill="url(#g201)"/>
<rect x="371" y="1429" width="1540" height="6.6" fill="url(#g202)"/>
<rect x="372" y="1435" width="1546" height="6.6" fill="url(#g203)"/>
<rect x="374" y="1441" width="1550" height="6.6" fill="url(#g204)"/>
<rect x="375" y="1447" width="1554" height="6.6" fill="url(#g205)"/>
<rect x="376" y="1453" width="1560" height="6.6" fill="url(#g206)"/>
<rect x="377" y="1459" width="1564" height="6.6" fill="url(#g207)"/>
<rect x="379" y="1465" width="1568" height="6.6" fill="url(#g208)"/>
<rect x="380" y="1471" width="1574" height="6.6" fill="url(#g209)"/>
<rect x="381" y="1477" width="1578" height="6.6" fill="url(#g210)"/>
<rect x="382" y="1483" width="1584" height="6.6" fill="url(#g211)"/>
<rect x="384" y="1489" width="1588" height="6.6" fill="url(#g212)"/>
<rect x="385" y="1495" width="1592" height="6.6" fill="url(#g213)"/>
<rect x="386" y="1501" width="1598" height="6.6" fill="url(#g214)"/>
<rect x="388" y="1507" width="1602" height="6.6" fill="url(#g215)"/>
<rect x="389" y="1513" width="1606" height="6.6" fill="url(#g216)"/>
<rect x="390" y="1519" width="1612" height="6.6" fill="url(#g217)"/>
<rect x="392" y="1525" width="1616" height="6.6" fill="url(#g218)"/>
<rect x="393" y="1531" width="1620" height="6.6" fill="url(#g219)"/>
<rect x="394" y="1537" width="1624" height="6.6" fill="url(#g220)"/>
<rect x="396" y="1543" width="1622" height="6.6" fill="url(#g221)"/>
<rect x="397" y="1549" width="1622" height="6.6" fill="url(#g222)"/>
<rect x="398" y="1555" width="1620" height="6.6" fill="url(#g223)"/>
<rect x="400" y="1561" width="1618" height="6.6" fill="url(#g224)"/>
<rect x="401" y="1567" width="1618" height="6.6" fill="url(#g225)"/>
<rect x="402" y="1573" width="1610" height="6.6" fill="url(#g226)"/>
<rect x="404" y="1579" width="1596" height="6.6" fill="url(#g227)"/>
<rect x="405" y="1585" width="1582" height="6.6" fill="url(#g228)"/>
<rect x="407" y="1591" width="1566" height="6.6" fill="url(#g229)"/>
<rect x="408" y="1597" width="1552" height="6.6" fill="url(#g230)"/>
<rect x="410" y="1603" width="1538" height="6.6" fill="url(#g231)"/>
<rect x="411" y="1609" width="1524" height="6.6" fill="url(#g232)"/>
<rect x="413" y="1615" width="1508" height="6.6" fill="url(#g233)"/>
<rect x="414" y="1621" width="1494" height="6.6" fill="url(#g234)"/>
<rect x="416" y="1627" width="1480" height="6.6" fill="url(#g235)"/>
<rect x="417" y="1633" width="1466" height="6.6" fill="url(#g236)"/>
<rect x="419" y="1639" width="1450" height="6.6" fill="url(#g237)"/>
<rect x="420" y="1645" width="1436" height="6.6" fill="url(#g238)"/>
<rect x="422" y="1651" width="1422" height="6.6" fill="url(#g239)"/>
<rect x="423" y="1657" width="1406" height="6.6" fill="url(#g240)"/>
<rect x="425" y="1663" width="1392" height="6.6" fill="url(#g241)"/>
<rect x="426" y="1669" width="1378" height="6.6" fill="url(#g242)"/>
<rect x="428" y="1675" width="1362" height="6.6" fill="url(#g243)"/>
<rect x="430" y="1681" width="1348" height="6.6" fill="url(#g244)"/>
<rect x="431" y="1687" width="1334" height="6.6" fill="url(#g245)"/>
<rect x="433" y="1693" width="1318" height="6.6" fill="url(#g246)"/>
<rect x="435" y="1699" width="1304" height="6.6" fill="url(#g247)"/>
<rect x="436" y="1705" width="1290" height="6.6" fill="url(#g248)"/>
<rect x="438" y="1711" width="1274" height="6.6" fill="url(#g249)"/>
<rect x="440" y="1717" width="1260" height="6.6" fill="url(#g250)"/>
<rect x="442" y="1723" width="1244" height="6.6" fill="url(#g251)"/>
<rect x="443" y="1729" width="1230" height="6.6" fill="url(#g252)"/>
<rect x="445" y="1735" width="1216" height="6.6" fill="url(#g253)"/>
<rect x="447" y="1741" width="1200" height="6.6" fill="url(#g254)"/>
<rect x="449" y="1747" width="1186" height="6.6" fill="url(#g255)"/>
<rect x="451" y="1753" width="1170" height="6.6" fill="url(#g256)"/>
<rect x="453" y="1759" width="1154" height="6.6" fill="url(#g257)"/>
<rect x="455" y="1765" width="1140" height="6.6" fill="url(#g258)"/>
<rect x="456" y="1771" width="1126" height="6.6" fill="url(#g259)"/>
<rect x="458" y="1777" width="1110" height="6.6" fill="url(#g260)"/>
<rect x="460" y="1783" width="1096" height="6.6" fill="url(#g261)"/>
<rect x="462" y="1789" width="1080" height="6.6" fill="url(#g262)"/>
<rect x="464" y="1795" width="1066" height="6.6" fill="url(#g263)"/>
<rect x="466" y="1801" width="1050" height="6.6" fill="url(#g264)"/>
<rect x="468" y="1807" width="1036" height="6.6" fill="url(#g265)"/>
<rect x="470" y="1813" width="1020" height="6.6" fill="url(#g266)"/>
<rect x="472" y="1819" width="1006" height="6.6" fill="url(#g267)"/>
<rect x="474" y="1825" width="990" height="6.6" fill="url(#g268)"/>
<rect x="477" y="1831" width="974" height="6.6" fill="url(#g269)"/>
<rect x="479" y="1837" width="960" height="6.6" fill="url(#g270)"/>
<rect x="481" y="1843" width="944" height="6.6" fill="url(#g271)"/>
<rect x="483" y="1849" width="930" height="6.6" fill="url(#g272)"/>
<rect x="485" y="1855" width="914" height="6.6" fill="url(#g273)"/>
<rect x="487" y="1861" width="898" height="6.6" fill="url(#g274)"/>
<rect x="489" y="1867" width="884" height="6.6" fill="url(#g275)"/>
<rect x="492" y="1873" width="868" height="6.6" fill="url(#g276)"/>
<rect x="494" y="1879" width="852" height="6.6" fill="url(#g277)"/>
<rect x="496" y="1885" width="838" height="6.6" fill="url(#g278)"/>
<rect x="498" y="1891" width="822" height="6.6" fill="url(#g279)"/>
<rect x="501" y="1897" width="806" height="6.6" fill="url(#g280)"/>
<rect x="503" y="1903" width="792" height="6.6" fill="url(#g281)"/>
<rect x="505" y="1909" width="776" height="6.6" fill="url(#g282)"/>
<rect x="507" y="1915" width="762" height="6.6" fill="url(#g283)"/>
<rect x="510" y="1921" width="746" height="6.6" fill="url(#g284)"/>
<rect x="512" y="1927" width="730" height="6.6" fill="url(#g285)"/>
<rect x="515" y="1933" width="714" height="6.6" fill="url(#g286)"/>
<rect x="517" y="1939" width="700" height="6.6" fill="url(#g287)"/>
<rect x="519" y="1945" width="684" height="6.6" fill="url(#g288)"/>
<rect x="522" y="1951" width="668" height="6.6" fill="url(#g289)"/>
<rect x="524" y="1957" width="654" height="6.6" fill="url(#g290)"/>
<rect x="527" y="1963" width="638" height="6.6" fill="url(#g291)"/>
<rect x="530" y="1969" width="620" height="6.6" fill="url(#g292)"/>
<rect x="532" y="1975" width="606" height="6.6" fill="url(#g293)"/>
<rect x="535" y="1981" width="590" height="6.6" fill="url(#g294)"/>
<rect x="538" y="1987" width="574" height="6.6" fill="url(#g295)"/>
<rect x="540" y="1993" width="558" height="6.6" fill="url(#g296)"/>
<rect x="543" y="1999" width="542" height="6.6" fill="url(#g297)"/>
<rect x="546" y="2005" width="526" height="6.6" fill="url(#g298)"/>
<rect x="549" y="2011" width="510" height="6.6" fill="url(#g299)"/>
<rect x="552" y="2017" width="494" height="6.6" fill="url(#g300)"/>
<rect x="555" y="2023" width="478" height="6.6" fill="url(#g301)"/>
<rect x="558" y="2029" width="462" height="6.6" fill="url(#g302)"/>
<rect x="561" y="2035" width="446" height="6.6" fill="url(#g303)"/>
<rect x="564" y="2041" width="430" height="6.6" fill="url(#g304)"/>
<rect x="568" y="2047" width="414" height="6.6" fill="url(#g305)"/>
<rect x="571" y="2053" width="398" height="6.6" fill="url(#g306)"/>
<rect x="575" y="2059" width="380" height="6.6" fill="url(#g307)"/>
<rect x="578" y="2065" width="364" height="6.6" fill="url(#g308)"/>
<rect x="582" y="2071" width="346" height="6.6" fill="url(#g309)"/>
<rect x="586" y="2077" width="330" height="6.6" fill="url(#g310)"/>
<rect x="590" y="2083" width="312" height="6.6" fill="url(#g311)"/>
<rect x="594" y="2089" width="296" height="6.6" fill="url(#g312)"/>
<rect x="599" y="2095" width="278" height="6.6" fill="url(#g313)"/>
<rect x="604" y="2101" width="260" height="6.6" fill="url(#g314)"/>
<rect x="609" y="2107" width="242" height="6.6" fill="url(#g315)"/>
<rect x="614" y="2113" width="224" height="6.6" fill="url(#g316)"/>
<rect x="620" y="2119" width="204" height="6.6" fill="url(#g317)"/>
<rect x="626" y="2125" width="186" height="6.6" fill="url(#g318)"/>
<rect x="633" y="2131" width="166" height="6.6" fill="url(#g319)"/>
<rect x="640" y="2137" width="146" height="6.6" fill="url(#g320)"/>
<rect x="646" y="2143" width="126" height="6.6" fill="url(#g321)"/>
<rect x="653" y="2149" width="106" height="6.6" fill="url(#g322)"/>
<rect x="660" y="2155" width="86" height="6.6" fill="url(#g323)"/>
<rect x="667" y="2161" width="66" height="6.6" fill="url(#g324)"/>
<rect x="674" y="2167" width="46" height="6.6" fill="url(#g325)"/>
</g></g>
<path d="M698.5 2156.0L2004.8 1557.1" fill="none" stroke="#000" stroke-width="4.6" stroke-linecap="round"/>
<path d="M698.5 2156.0 L698.5 2156.0 L698.4 2156.0 L698.4 2155.9 L698.4 2155.9 L698.3 2155.9 L698.2 2156.0 L698.1 2156.0 L698.0 2156.1 L697.9 2156.1 L697.8 2156.1 L697.7 2156.1 L697.6 2156.0 L697.5 2156.0 L697.4 2156.0 L697.2 2156.1 L697.1 2156.1 L697.0 2156.2 L696.9 2156.3 L696.8 2156.3 L696.7 2156.4 L696.6 2156.4 L696.5 2156.4 L696.4 2156.4 L696.2 2156.4 L696.0 2156.4 L695.8 2156.4 L695.6 2156.4 L695.4 2156.4 L695.2 2156.4 L695.0 2156.4 L694.8 2156.4 L694.5 2156.4 L694.3 2156.4 L694.1 2156.3 L693.8 2156.3 L693.6 2156.2 L693.3 2156.2 L693.0 2156.0 L692.7 2155.9 L692.3 2155.7 L691.8 2155.4 L691.3 2155.1 L690.8 2154.8 L690.2 2154.5 L689.7 2154.1 L689.1 2153.6 L688.5 2153.2 L687.8 2152.7 L687.1 2152.1 L686.4 2151.5 L685.6 2150.8 L684.7 2150.1 L683.8 2149.4 L682.8 2148.5 L681.8 2147.6 L680.7 2146.7 L679.6 2145.7 L678.5 2144.6 L677.3 2143.5 L676.0 2142.3 L674.7 2141.1 L673.2 2139.8 L671.7 2138.4 L670.1 2137.0 L668.3 2135.5 L666.5 2133.9 L664.5 2132.2 L662.5 2130.3 L660.3 2128.4 L658.0 2126.4 L655.6 2124.3 L653.1 2122.1 L650.5 2119.8 L647.7 2117.4 L644.9 2114.7 L641.9 2111.9 L638.7 2108.9 L635.4 2105.7 L632.1 2102.3 L628.6 2098.6 L625.0 2094.7 L621.2 2090.4 L617.3 2085.8 L613.3 2080.7 L608.9 2075.0 L604.3 2068.4 L599.3 2061.0 L594.0 2052.8 L588.4 2043.5 L582.5 2033.4 L576.4 2022.3 L569.9 2010.1 L563.2 1996.8 L556.2 1982.1 L548.8 1966.0 L541.1 1948.2 L533.0 1928.8 L524.5 1907.6 L515.7 1884.5 L506.3 1859.6 L496.6 1832.6 L486.4 1803.5 L475.8 1772.0 L464.9 1738.1 L453.9 1701.7 L443.0 1662.9 L432.1 1621.6 L421.4 1577.9 L410.6 1531.7 L399.8 1483.0 L389.1 1431.9 L378.5 1378.8 L368.2 1323.8 L358.3 1267.3 L348.9 1209.8 L340.2 1151.7 L332.3 1093.2 L325.1 1034.6 L318.8 976.1 L313.5 918.1 L309.1 860.9 L305.8 805.1 L303.7 751.0 L302.9 698.6 L303.5 648.0 L305.3 599.1 L308.4 552.2 L313.0 507.6 L319.1 465.6 L326.7 426.7 L335.7 390.9 L346.1 358.4 L357.8 329.4 L370.7 304.3 L384.7 283.2 L399.7 266.1 L415.6 252.7 L432.2 242.8 L449.3 236.2 L466.9 232.7 L484.9 232.0 L503.2 233.9 L521.8 237.8 L540.5 243.4 L559.4 250.3 L578.4 258.3 L597.4 267.2 L616.4 276.8 L635.1 287.0 L653.5 297.5 L671.7 308.2 L689.5 319.2 L707.2 330.4 L724.7 341.9 L742.1 353.7 L759.3 365.9 L776.4 378.3 L793.5 390.9 L810.4 403.9 L827.3 417.1 L844.2 430.5 L861.0 444.3 L877.8 458.2 L894.5 472.4 L911.2 486.7 L927.9 501.2 L944.5 515.9 L961.2 530.8 L977.8 545.8 L994.4 561.0 L1011.0 576.3 L1027.6 591.7 L1044.2 607.3 L1060.8 622.9 L1077.4 638.6 L1093.9 654.5 L1110.5 670.4 L1127.1 686.4 L1143.7 702.4 L1160.3 718.5 L1176.9 734.6 L1193.4 750.7 L1210.0 766.9 L1226.5 783.1 L1243.0 799.3 L1259.4 815.5 L1275.9 831.7 L1292.3 848.0 L1308.6 864.1 L1324.9 880.3 L1341.2 896.4 L1357.4 912.5 L1373.5 928.5 L1389.5 944.5 L1405.5 960.4 L1421.4 976.2 L1437.1 991.9 L1452.8 1007.5 L1468.3 1023.0 L1483.7 1038.4 L1499.0 1053.6 L1514.2 1068.7 L1529.2 1083.6 L1544.0 1098.4 L1558.7 1113.0 L1573.2 1127.4 L1587.5 1141.6 L1601.6 1155.6 L1615.5 1169.4 L1629.1 1183.1 L1642.6 1196.5 L1655.8 1209.7 L1668.8 1222.6 L1681.4 1235.2 L1693.6 1247.4 L1705.4 1259.2 L1716.9 1270.7 L1728.1 1281.8 L1738.9 1292.6 L1749.5 1303.1 L1759.9 1313.5 L1770.1 1323.6 L1780.0 1333.4 L1789.5 1343.0 L1798.7 1352.1 L1807.5 1360.8 L1816.0 1369.2 L1824.1 1377.2 L1831.9 1385.0 L1839.4 1392.4 L1846.6 1399.6 L1853.5 1406.5 L1860.2 1413.1 L1866.5 1419.5 L1872.6 1425.5 L1878.4 1431.3 L1884.0 1436.9 L1889.3 1442.1 L1894.3 1447.2 L1899.1 1452.0 L1903.7 1456.6 L1908.1 1461.0 L1912.4 1465.1 L1916.4 1469.1 L1920.3 1473.0 L1923.9 1476.6 L1927.5 1480.1 L1930.8 1483.5 L1934.1 1486.7 L1937.2 1489.9 L1940.3 1492.9 L1943.2 1495.8 L1946.1 1498.7 L1948.8 1501.4 L1951.4 1504.0 L1953.9 1506.5 L1956.3 1508.9 L1958.7 1511.2 L1960.9 1513.5 L1963.0 1515.6 L1965.1 1517.7 L1967.1 1519.7 L1969.1 1521.7 L1970.9 1523.5 L1972.6 1525.2 L1974.3 1526.8 L1975.8 1528.4 L1977.2 1529.8 L1978.5 1531.1 L1979.8 1532.4 L1981.1 1533.7 L1982.2 1534.9 L1983.4 1536.0 L1984.4 1537.1 L1985.5 1538.1 L1986.4 1539.1 L1987.3 1540.0 L1988.2 1540.9 L1989.0 1541.7 L1989.7 1542.4 L1990.4 1543.1 L1991.0 1543.8 L1991.6 1544.3 L1992.1 1544.9 L1992.7 1545.4 L1993.2 1545.9 L1993.7 1546.4 L1994.2 1546.9 L1994.6 1547.4 L1995.1 1547.9 L1995.5 1548.3 L1995.9 1548.8 L1996.3 1549.2 L1996.7 1549.6 L1997.1 1550.0 L1997.5 1550.4 L1997.9 1550.8 L1998.3 1551.2 L1998.7 1551.6 L1999.1 1552.0 L1999.4 1552.3 L1999.8 1552.7 L2000.2 1553.1 L2000.5 1553.5 L2000.9 1553.8 L2001.1 1554.1 L2001.4 1554.4 L2001.6 1554.6 L2001.8 1554.8 L2002.0 1555.0 L2002.2 1555.2 L2002.3 1555.4 L2002.5 1555.5 L2002.6 1555.7 L2002.8 1555.8 L2002.9 1556.0 L2003.1 1556.1 L2003.2 1556.3 L2003.3 1556.4 L2003.3 1556.4" fill="none" stroke="#000" stroke-width="6.3" stroke-linejoin="round" stroke-linecap="round"/>
<path d="M698.5 2156L706.2 2185M697.8 2156.1L694.9 2186M696.7 2156.4L705.6 2185M695 2156.4L696.1 2186.3M692.3 2155.7L678.3 2182.2M686.4 2151.5L667.6 2174.9M676 2142.3L655.8 2164.5M658 2126.4L638.3 2149M628.6 2098.6L606.7 2119.1M608.9 2075L596.8 2083.8M582.5 2033.4L556.4 2048.2M548.8 1966L535.1 1972.1M506.3 1859.6L478.2 1869.9M453.9 1701.7L439.5 1705.9M399.8 1483L370.5 1489.3M348.9 1209.8L334.1 1212.1M313.5 918.1L283.6 920.6M303.5 648L288.5 647.6M326.7 426.7L297.4 420.2M384.7 283.2L372.7 274.1M466.9 232.7L463.4 202.9M559.4 250.3L564.9 236.3M653.5 297.5L668.6 271.6M742.1 353.7L750.6 341.4M827.3 417.1L845.9 393.5M911.2 486.7L921 475.4M994.4 561L1014.7 538.9M1077.4 638.6L1087.7 627.8M1160.3 718.5L1181.2 696.9M1243 799.3L1253.5 788.6M1324.9 880.3L1346.1 859M1405.5 960.4L1416.1 949.7M1483.7 1038.4L1504.9 1017.1M1558.7 1113L1569.3 1102.4M1629.1 1183.1L1650.3 1161.8M1693.6 1247.4L1704.2 1236.8M1749.5 1303.1L1770.7 1281.9M1798.7 1352.1L1809.3 1341.4M1839.4 1392.4L1860.5 1371.1M1872.6 1425.5L1883.2 1414.9M1899.1 1452L1920.3 1430.7M1937.2 1489.9L1958.4 1468.6M1963 1515.6L1984.2 1494.4M1979.8 1532.4L2001 1511.2M1989.7 1542.4L2010.9 1521.2M1995.1 1547.9L2016.3 1526.7M1999.1 1552L2020.3 1530.7M2002 1555L2023.2 1533.8M2003.3 1556.4L2024.6 1535.2" fill="none" stroke="#000" stroke-width="5.2" stroke-linecap="butt"/>
<g fill="#0000ff" text-anchor="middle">
<text x="461" y="182" font-size="78">520</text>
<text x="899.5" y="374" font-size="78">540</text>
<text x="1235.5" y="673" font-size="78">560</text>
<text x="1558" y="999.5" font-size="78">580</text>
<text x="1826" y="1266" font-size="78">600</text>
<text x="1974.5" y="1412.5" font-size="78">620</text>
<text x="2091.5" y="1575" font-size="78">700</text>
<text x="213" y="942" font-size="78">500</text>
<text x="349" y="1552" font-size="78">490</text>
<text x="410.5" y="1898.5" font-size="78">480</text>
<text x="489.5" y="2075" font-size="78">470</text>
<text x="536.5" y="2159.5" font-size="87">460</text>
<text x="786" y="2193" font-size="78">380</text>
</g>
<path d="M1809.2 1368.2 L1796.2 1356.8 L1782.8 1345.3 L1769 1333.9 L1754.7 1322.4 L1740.1 1311.1 L1725 1300 L1709.5 1289.2 L1693.5 1278.6 L1677.1 1268.5 L1660.3 1258.9 L1643.1 1249.8 L1625.5 1241.4 L1607.4 1233.6 L1589 1226.7 L1570.2 1220.6 L1551.1 1215.3 L1531.6 1211.1 L1511.9 1207.7 L1492 1205.4 L1471.9 1204.1 L1451.7 1203.9 L1431.4 1204.6 L1411.1 1206.4 L1390.8 1209.1 L1370.6 1212.8 L1350.6 1217.3 L1330.8 1222.7 L1311.3 1228.9 L1292.1 1235.7 L1273.2 1243.3 L1254.8 1251.4 L1236.8 1260 L1219.3 1269 L1202.2 1278.4 L1185.7 1288.1 L1169.7 1298 L1154.3 1308.1 L1139.5 1318.4 L1125.2 1328.6 L1111.5 1338.9 L1098.4 1349.1 L1085.8 1359.3 L1073.8 1369.4 L1062.3 1379.3 L1051.4 1389 L1041 1398.5 L1031.1 1407.8 L1021.7 1416.9 L1012.8 1425.7 L1004.3 1434.2 L996.3 1442.5 L988.7 1450.5 L981.4 1458.2 L974.6 1465.6 L968.2 1472.7 L962.1 1479.6 L956.3 1486.2 L950.9 1492.5 L945.7 1498.5 L823 1639M799 1618L847 1660.5M873.2 1374L1007.4 1603.7M1035 1257.3L1048.3 1522.5M1210 1169.5L1144.8 1419M1347.6 1143L1260.6 1334.5M1463.6 1110.5L1342.6 1301M1566.8 1143.7L1467 1272.4M1673.6 1237.1L1630 1273.7M948.1 1453.1L972.5 1510.1M969.9 1430.8L989.1 1489.8M999.2 1402.7L1011.7 1463.4M1066 1363.1L1065.8 1389.1M1098.1 1320.7L1092.6 1382.5M1134 1311.1L1129.5 1336.7M1239.6 1248.7L1230.5 1273" fill="none" stroke="#000" stroke-width="5.6" stroke-linecap="round" stroke-linejoin="round"/>
<g font-size="56" fill="#000" text-anchor="middle">
<text x="1029.5" y="1231">6000</text>
<text x="1190.5" y="1150">4000</text>
<text x="1328.5" y="1118">3000</text>
<text x="1455.5" y="1103.5">2500</text>
<text x="1478.5" y="1331.5">2000</text>
<text x="1638" y="1331.5">1500</text>
<text x="793" y="1371.5">10<tspan font-size="34" dx="-5" dy="7">,</tspan><tspan dx="-4" dy="-7">000</tspan></text>
<text transform="translate(766.6 1592) scale(1.1 0.8)" text-anchor="middle" y="21.5" font-size="74" style="font-family:&quot;Liberation Sans&quot;,sans-serif">∞</text>
</g>
<text x="853" y="1103.5" font-size="73.5">T<tspan font-size="52" dy="22">C</tspan><tspan dy="-22" dx="2">(°K)</tspan></text>
<path d="M1111.5 885.9 L1496.5 703.7 L1491.7 717.4 L1531.2 682.1 L1478.8 690.2 L1492.5 695.2 L1107.5 877.4Z" fill="#ff0000"/>
<path d="M1110.4 936.7 L1529.8 844.3 L1522.1 856.6 L1568.5 831 L1515.6 827.2 L1527.8 835.1 L1108.4 927.5Z" fill="#ff0000"/>
<circle cx="1095" cy="888.5" r="16.5" fill="#ff0000" stroke="#fff" stroke-width="3.5"/>
<path d="M1096 868.4 L1477.2 572.2 L1475.5 586.7 L1506.4 543.6 L1457 562.9 L1471.4 564.8 L1090.3 861Z" fill="#ff0000"/>
<circle cx="1080.5" cy="874.5" r="16.5" fill="#0070c0" stroke="#fff" stroke-width="3.5"/>
<circle cx="1093.8" cy="935.5" r="16.5" fill="#000" stroke="#fff" stroke-width="3.5"/>
<g font-size="56.6" font-weight="bold" fill="#000">
<text x="1550" y="523">Alq<tspan font-size="37" dy="12">3</tspan><tspan dy="-12"> (Ag NWs): (0.340, 0.554)</tspan></text>
<text x="1566" y="700.5">Alq<tspan font-size="37" dy="12">3</tspan><tspan dy="-12"> (Ag NPs): (0.346, 0.550)</tspan></text>
<text x="1586.5" y="850.5">Alq<tspan font-size="37" dy="12">3</tspan><tspan dy="-12"> (pure): (0.344, 0.531)</tspan></text>
</g>
</svg></body></html>
